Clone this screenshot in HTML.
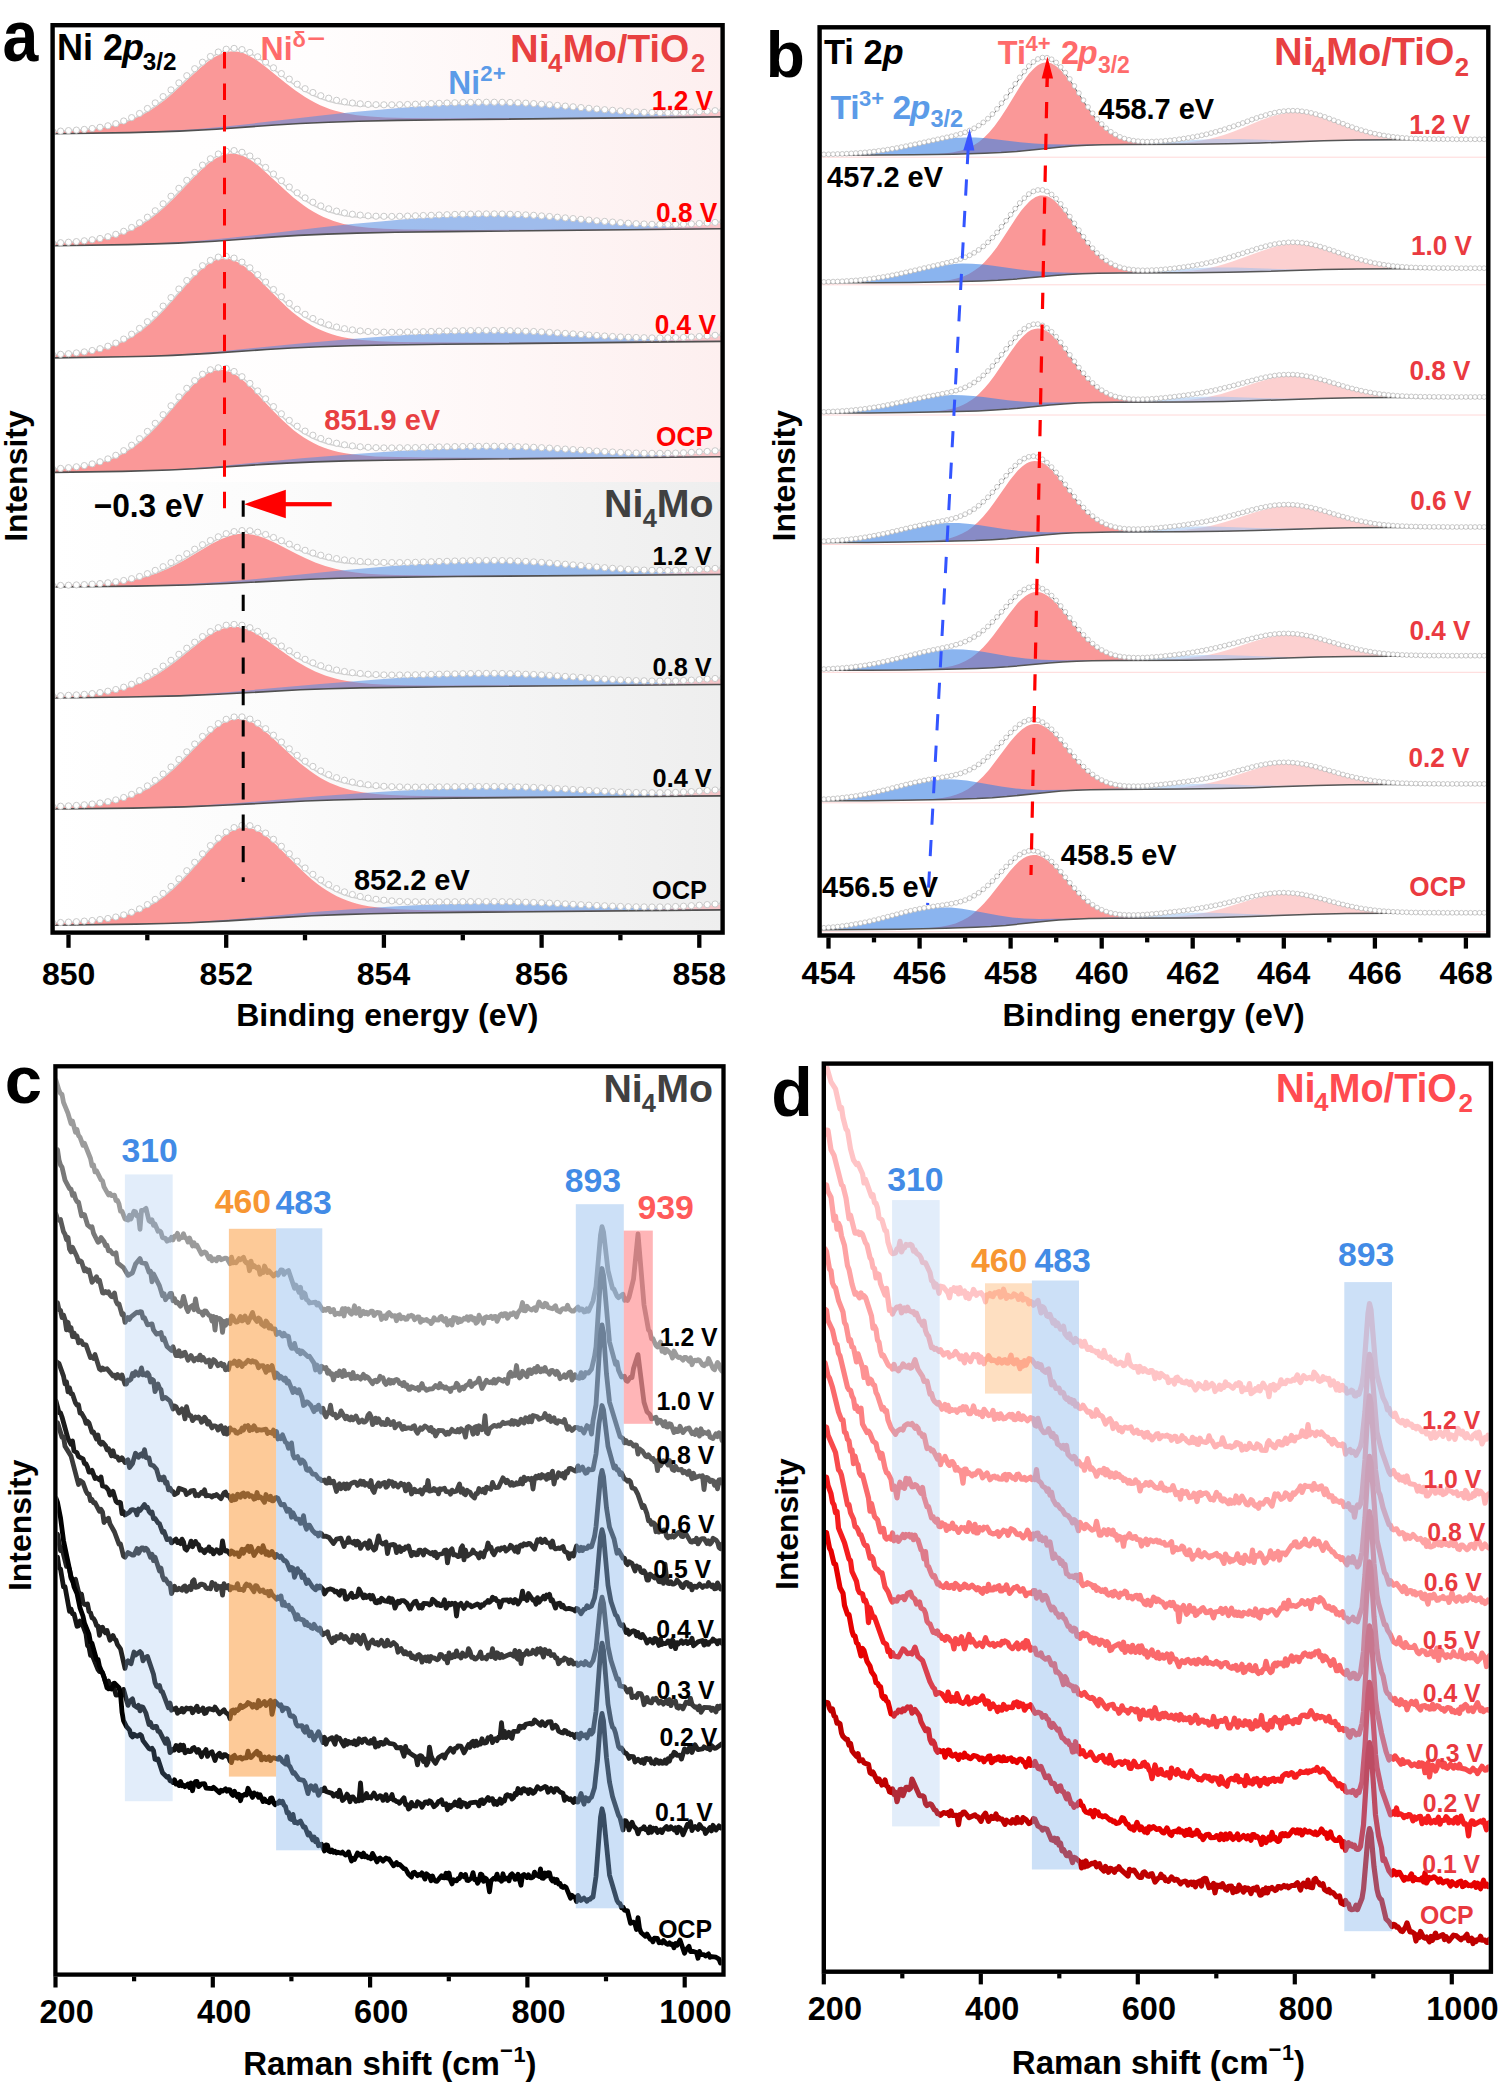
<!DOCTYPE html><html><head><meta charset="utf-8"><style>html,body{margin:0;padding:0;background:#fff}svg{display:block}</style></head><body>
<svg width="1500" height="2088" viewBox="0 0 1500 2088" font-family='"Liberation Sans", sans-serif' font-weight="bold">
<rect width="1500" height="2088" fill="#fff"/>
<defs>
<linearGradient id="gpink" x1="0" x2="1" y1="0" y2="0"><stop offset="0" stop-color="#ffffff"/><stop offset="0.4" stop-color="#fffdfd"/><stop offset="1" stop-color="#fdefef"/></linearGradient>
<linearGradient id="ggray" x1="0" x2="1" y1="0" y2="0"><stop offset="0" stop-color="#ffffff"/><stop offset="0.35" stop-color="#fbfbfb"/><stop offset="1" stop-color="#eeeeee"/></linearGradient>
<clipPath id="clipa"><rect x="54.8" y="27" width="666" height="903.4"/></clipPath>
<marker id="ma" markerUnits="userSpaceOnUse" markerWidth="8" markerHeight="8" refX="4" refY="4" overflow="visible"><circle cx="4" cy="4" r="3.1" fill="#fff" stroke="#c6c6c6" stroke-width="0.95"/></marker>
<marker id="mb" markerUnits="userSpaceOnUse" markerWidth="8" markerHeight="8" refX="4" refY="4" overflow="visible"><circle cx="4" cy="4" r="2.4" fill="#fff" stroke="#bdbdbd" stroke-width="0.8"/></marker>
</defs>
<g clip-path="url(#clipa)">
<rect x="54" y="26" width="668" height="456" fill="url(#gpink)"/>
<rect x="54" y="482" width="668" height="450" fill="url(#ggray)"/>
<path d="M54 131.4l15.1-0.7 13.4-0.9 11.7-1.2 10-1.5 8.4-1.6 8.4-2.2 8.3-2.8 6.7-2.7 6.7-3.3 6.7-3.8 6.7-4.4 6.7-4.9 5-4 6.7-5.8 25.2-23.2 6.7-5.6 5-3.7 3.3-2.1 3.4-1.8 5-2.2 5-1.3 5-0.4 5.1 0.5 5 1.3 5 2.1 6.7 3.8 5 3.4 5 3.8 20.1 16.4 10.1 7.7 10 6.8 5.1 3 5 2.7 5 2.4 5 2.1 5 1.9 5.1 1.6 10 2.4 11.7 2 13.4 1.4 15.1 0.8 20.1 0.5 30.1 0.3 108.8-0.3 177.5-1.3 0 0.3-272.9 2.8-51.9 0.7-38.5 0.8-30.1 1-28.5 1.3-25.1 1.5-58.6 4.2-36.8 1.9-23.5 0.8-26.8 0.7-75.3 1.1z" fill="#fa9898"/>
<path d="M54 133.7l46.9-0.8 36.8-0.9 30.1-1.2 26.8-1.6 20.1-1.6 20.1-2 88.7-10.3 30.2-3.2 28.4-2.7 25.2-2.2 23.4-1.7 21.8-1.1 21.7-0.8 26.8-0.3 13.4 0.2 13.4 0.6 25.1 1.7 62 5.4 31.8 2.4 35.1 1.6 40.2 0.9 0 0.8-272.9 2.8-51.9 0.7-38.5 0.8-30.1 1-28.5 1.3-25.1 1.5-58.6 4.2-36.8 1.9-23.5 0.8-26.8 0.7-75.3 1.1z" fill="rgb(80,140,228)" fill-opacity="0.55"/>
<path d="M54 133.7l75.3-1.1 26.8-0.7 23.5-0.8 36.8-1.9 58.6-4.2 21.8-1.3 25.1-1.3 28.4-1 58.6-1.1 182.5-2.1 48.6-1.1 20.1-0.8 18.4-1.1 18.4-1.5 25.1-2.4 0 5.6-272.9 2.8-51.9 0.7-38.5 0.8-30.1 1-28.5 1.3-25.1 1.5-58.6 4.2-36.8 1.9-23.5 0.8-26.8 0.7-75.3 1.1z" fill="rgb(250,170,175)" fill-opacity="0.6"/>
<path d="M54 131.4l15.1-0.8 13.4-1 10-1 10.1-1.4 10-2 8.4-2.2 8.3-2.8 6.7-2.8 6.7-3.3 6.7-3.9 6.7-4.5 6.7-5 5-4.1 6.7-5.9 26.8-25.1 5.1-4.3 5-3.8 3.3-2.2 3.4-1.9 5-2.3 5-1.5 5-0.6 5.1 0.3 5 1.2 5 1.9 6.7 3.5 5 3.1 5 3.6 20.1 15.4 8.4 6 10.1 6.4 8.3 4.4 8.4 3.6 8.4 2.8 8.3 2 10.1 1.6 6.7 0.7 6.7 0.4 8.3 0.2 8.4-0.1 15.1-0.4 41.8-2 21.8-0.8 23.4-0.5 20.1-0.1 18.4 0.5 20.1 1.2 20.1 1.6 55.3 4.9 16.7 1.2 16.8 0.8 18.4 0.3 16.7-0.2 18.4-0.8 21.8-1.6" fill="none" stroke="#d4d4d4" stroke-width="1.5"/>
<path d="M54 133.7l75.3-1.1 26.8-0.7 23.5-0.8 36.8-1.9 58.6-4.2 25.1-1.5 28.5-1.3 30.1-1 38.5-0.8 51.9-0.7 272.9-2.8" fill="none" stroke="#505050" stroke-width="1.6"/>
<path d="M52.7 131.4l7.9-0.3 7.9-0.5 7.9-0.5 7.9-0.7 7.9-0.9 7.8-1.2 7.9-1.5 7.9-2.1 7.9-2.7 7.9-3.4 7.9-4.1 7.9-5 7.8-5.6 7.9-6.3 7.9-6.7 7.9-7 7.9-7.2 7.9-7 7.8-6.5 7.9-5.7 7.9-4.5 7.9-2.8 7.9-0.8 7.9 1.2 7.9 2.9 7.8 4.3 7.9 5.3 7.9 5.7 7.9 5.8 7.9 5.5 7.9 5.1 7.9 4.5 7.8 3.8 7.9 3.2 7.9 2.5 7.9 2.1 7.9 1.5 7.9 1.2 7.8 0.8 7.9 0.6 7.9 0.3 7.9 0.1 7.9 0 7.9-0.1 7.9-0.2 7.8-0.3 7.9-0.3 7.9-0.3 7.9-0.3 7.9-0.3 7.9-0.2 7.9-0.2 7.8-0.2 7.9-0.1 7.9-0.1 7.9 0 7.9 0.1 7.9 0.2 7.8 0.3 7.9 0.3 7.9 0.5 7.9 0.6 7.9 0.6 7.9 0.6 7.9 0.7 7.8 0.7 7.9 0.8 7.9 0.7 7.9 0.7 7.9 0.7 7.9 0.6 7.9 0.6 7.8 0.6 7.9 0.4 7.9 0.4 7.9 0.2 7.9 0.2 7.9 0 7.8-0.1 7.9-0.2 7.9-0.3 7.9-0.4 7.9-0.5 7.9-0.5 7.9-0.6" fill="none" stroke="none" marker-start="url(#ma)" marker-mid="url(#ma)" marker-end="url(#ma)"/>
<path d="M54 243.1l15.1-0.8 13.4-1.1 10-1.1 10.1-1.6 10-2.2 8.4-2.5 8.3-3.2 6.7-3.2 6.7-3.7 6.7-4.4 6.7-5 6.7-5.7 5-4.6 6.7-6.5 18.5-19.2 6.7-6.8 5-4.7 5-4.2 3.3-2.4 3.4-2.1 5-2.5 5-1.6 5.1-0.5 5 0.4 5 1.4 5 2.3 3.4 2 3.3 2.2 5.1 3.8 5 4.3 21.7 20.2 8.4 7.3 10.1 7.8 5 3.5 5 3.1 5 2.7 5 2.5 5.1 2.1 5 1.9 10 2.9 5.1 1.1 6.7 1.2 13.3 1.6 15.1 1 20.1 0.7 30.1 0.3 46.9 0.1 62-0.2 179.1-1.4 0 0.4-274.6 2.9-51.9 0.7-38.5 0.8-30.1 1-28.5 1.3-23.4 1.5-60.3 4.3-36.8 1.9-23.4 0.8-26.8 0.7-73.7 1.1z" fill="#fa9898"/>
<path d="M54 245.7l46.9-0.8 36.8-0.9 30.1-1.3 26.8-1.6 18.4-1.5 20.1-2 88.8-10.3 30.1-3.2 28.5-2.7 26.8-2.3 23.4-1.7 21.8-1.2 21.7-0.8 26.8-0.3 13.4 0.3 13.4 0.5 25.1 1.7 62 5.5 31.8 2.3 35.1 1.6 40.2 0.9 0 0.8-274.6 2.9-51.9 0.7-38.5 0.8-30.1 1-28.5 1.3-23.4 1.5-60.3 4.3-36.8 1.9-23.4 0.8-26.8 0.7-73.7 1.1z" fill="rgb(80,140,228)" fill-opacity="0.55"/>
<path d="M54 245.7l75.3-1.1 26.8-0.7 23.5-0.9 36.8-1.9 56.9-4.1 21.8-1.4 25.1-1.3 28.5-1 30.1-0.7 40.2-0.6 180.8-2.1 41.8-1 20.1-0.9 18.4-1.1 18.5-1.5 23.4-2.3 0 5.6-274.6 2.9-51.9 0.7-38.5 0.8-30.1 1-28.5 1.3-23.4 1.5-60.3 4.3-36.8 1.9-23.4 0.8-26.8 0.7-73.7 1.1z" fill="rgb(250,170,175)" fill-opacity="0.6"/>
<path d="M54 243l15.1-0.8 13.4-1.1 10-1.2 10.1-1.6 10-2.3 8.4-2.5 8.3-3.3 6.7-3.2 6.7-3.8 6.7-4.4 6.7-5.1 6.7-5.7 5-4.7 6.7-6.7 25.2-26.4 5-4.8 5-4.3 3.3-2.6 3.4-2.2 5-2.6 5-1.7 5.1-0.7 5 0.2 5 1.2 5 2.1 3.4 1.8 3.3 2.2 5.1 3.6 5 4 20.1 17.6 8.3 7 10.1 7.4 8.4 5.2 8.3 4.2 5 2.1 5.1 1.8 8.3 2.3 10.1 1.9 6.7 0.8 8.4 0.6 8.3 0.2 8.4 0 15.1-0.5 41.8-1.9 21.8-0.7 23.4-0.5 20.1 0.1 18.4 0.5 18.4 1.1 20.1 1.6 55.3 4.9 16.7 1.2 16.8 0.8 18.4 0.4 16.7-0.3 18.4-0.8 21.8-1.5" fill="none" stroke="#d4d4d4" stroke-width="1.5"/>
<path d="M54 245.7l73.7-1.1 26.8-0.7 23.4-0.8 36.8-1.9 60.3-4.3 23.4-1.5 28.5-1.3 30.1-1 38.5-0.8 51.9-0.7 274.6-2.9" fill="none" stroke="#505050" stroke-width="1.6"/>
<path d="M52.7 243.1l7.9-0.4 7.9-0.5 7.9-0.6 7.9-0.8 7.9-1 7.8-1.3 7.9-1.8 7.9-2.4 7.9-3 7.9-3.8 7.9-4.7 7.9-5.6 7.8-6.4 7.9-7 7.9-7.6 7.9-7.9 7.9-8 7.9-7.9 7.8-7.3 7.9-6.3 7.9-4.8 7.9-2.8 7.9-0.6 7.9 1.7 7.9 3.7 7.8 5.2 7.9 6.2 7.9 6.6 7.9 6.6 7.9 6.4 7.9 5.8 7.9 5.1 7.8 4.3 7.9 3.7 7.9 2.9 7.9 2.3 7.9 1.8 7.9 1.3 7.8 0.9 7.9 0.7 7.9 0.4 7.9 0.1 7.9 0.1 7.9-0.1 7.9-0.2 7.8-0.3 7.9-0.3 7.9-0.2 7.9-0.3 7.9-0.3 7.9-0.3 7.9-0.2 7.8-0.1 7.9-0.2 7.9 0 7.9 0 7.9 0.1 7.9 0.2 7.8 0.3 7.9 0.4 7.9 0.4 7.9 0.6 7.9 0.6 7.9 0.7 7.9 0.7 7.8 0.7 7.9 0.7 7.9 0.7 7.9 0.8 7.9 0.6 7.9 0.7 7.9 0.6 7.8 0.5 7.9 0.5 7.9 0.3 7.9 0.3 7.9 0.1 7.9 0.1 7.8-0.1 7.9-0.2 7.9-0.3 7.9-0.4 7.9-0.5 7.9-0.6 7.9-0.6" fill="none" stroke="none" marker-start="url(#ma)" marker-mid="url(#ma)" marker-end="url(#ma)"/>
<path d="M54 354.8l13.4-0.9 11.7-1.2 10.1-1.3 10-2 8.4-2.2 6.7-2.2 8.3-3.5 6.7-3.4 6.7-4.1 6.7-4.7 6.7-5.5 6.7-6.1 5-5 6.7-7.1 23.5-26.3 6.7-6.8 5-4.5 3.4-2.6 3.3-2.2 5-2.6 5-1.6 3.4-0.4 1.7-0.1 5 0.6 5 1.6 5 2.6 3.4 2.2 3.3 2.5 5.1 4.2 5 4.7 20.1 20.4 10 9.6 5 4.5 5.1 4.1 5 3.7 5 3.4 5 3 5 2.7 5.1 2.3 5 2 5 1.7 5 1.5 5.1 1.2 6.7 1.3 13.4 1.8 16.7 1.2 20.1 0.6 30.1 0.4 46.9 0.2 61.9-0.2 184.2-1.3 0 0.4-279.6 2.9-53.6 0.7-38.5 0.7-30.1 1-28.5 1.3-25.1 1.5-56.9 3.9-36.8 2-23.5 0.8-25.1 0.6-70.3 1.1z" fill="#fa9898"/>
<path d="M54 357.9l43.5-0.7 33.5-0.8 28.5-1 25.1-1.3 18.4-1.3 18.4-1.5 83.7-8.4 58.6-5 30.2-2.1 26.7-1.7 25.2-1.2 23.4-0.8 30.1-0.4 26.8 0.5 26.8 1.3 62 3.9 31.8 1.7 35.1 1.1 40.2 0.6 0 0.6-279.6 2.9-53.6 0.7-38.5 0.7-30.1 1-28.5 1.3-25.1 1.5-56.9 3.9-36.8 2-23.5 0.8-25.1 0.6-70.3 1.1z" fill="rgb(80,140,228)" fill-opacity="0.55"/>
<path d="M54 357.9l70.3-1.1 25.1-0.6 23.5-0.8 36.8-2 56.9-3.9 21.8-1.4 25.1-1.2 28.5-0.9 58.6-1.2 189.1-2.1 28.5-0.5 21.8-0.6 20.1-0.8 18.4-1.1 18.4-1.5 25.1-2.4 0 5.6-279.6 2.9-53.6 0.7-38.5 0.7-30.1 1-28.5 1.3-25.1 1.5-56.9 3.9-36.8 2-23.5 0.8-25.1 0.6-70.3 1.1z" fill="rgb(250,170,175)" fill-opacity="0.6"/>
<path d="M54 354.7l13.4-0.9 11.7-1.1 10.1-1.5 10-1.9 8.4-2.2 6.7-2.3 8.3-3.5 6.7-3.5 6.7-4.1 6.7-4.8 6.7-5.5 6.7-6.2 5-5 6.7-7.2 23.5-26.5 6.7-6.9 5-4.6 3.4-2.7 3.3-2.3 5-2.7 5-1.7 3.4-0.5 1.7-0.1 5 0.5 5 1.5 5 2.4 3.4 2.1 3.3 2.4 5.1 4.1 5 4.5 20.1 19.7 10 9.2 5 4.2 5.1 3.9 8.3 5.6 8.4 4.7 5 2.3 5 1.9 5.1 1.7 5 1.3 10 2 6.7 0.8 8.4 0.7 8.4 0.3 10 0.1 16.8-0.2 68.6-2 26.8-0.2 20.1 0.2 16.7 0.5 18.4 0.9 73.7 4.7 16.7 0.7 16.8 0.4 16.7-0.1 16.8-0.5 16.7-1 20.1-1.5" fill="none" stroke="#d4d4d4" stroke-width="1.5"/>
<path d="M54 357.9l70.3-1.1 25.1-0.6 23.5-0.8 36.8-2 56.9-3.9 25.1-1.5 28.5-1.3 30.1-1 38.5-0.7 53.6-0.7 279.6-2.9" fill="none" stroke="#505050" stroke-width="1.6"/>
<path d="M52.7 354.8l7.9-0.5 7.9-0.6 7.9-0.8 7.9-1 7.9-1.4 7.8-1.8 7.9-2.5 7.9-3.1 7.9-4 7.9-4.9 7.9-5.8 7.9-6.7 7.8-7.5 7.9-8.1 7.9-8.5 7.9-8.6 7.9-8.5 7.9-7.9 7.8-6.9 7.9-5.3 7.9-3.3 7.9-0.7 7.9 1.7 7.9 4 7.9 5.7 7.8 6.8 7.9 7.4 7.9 7.5 7.9 7.2 7.9 6.6 7.9 5.9 7.9 5.1 7.8 4.2 7.9 3.5 7.9 2.8 7.9 2.2 7.9 1.7 7.9 1.2 7.8 1 7.9 0.6 7.9 0.4 7.9 0.2 7.9 0.1 7.9 0 7.9-0.2 7.8-0.1 7.9-0.2 7.9-0.2 7.9-0.3 7.9-0.2 7.9-0.1 7.9-0.2 7.8-0.1 7.9-0.1 7.9 0 7.9 0 7.9 0 7.9 0.2 7.8 0.2 7.9 0.3 7.9 0.3 7.9 0.4 7.9 0.5 7.9 0.5 7.9 0.5 7.8 0.5 7.9 0.6 7.9 0.5 7.9 0.5 7.9 0.5 7.9 0.5 7.9 0.4 7.8 0.3 7.9 0.3 7.9 0.2 7.9 0.2 7.9 0 7.9-0.1 7.8-0.2 7.9-0.2 7.9-0.4 7.9-0.5 7.9-0.5 7.9-0.7 7.9-0.6" fill="none" stroke="none" marker-start="url(#ma)" marker-mid="url(#ma)" marker-end="url(#ma)"/>
<path d="M54 468.9l13.4-1 10-1.1 10.1-1.5 8.4-1.8 8.3-2.3 6.7-2.3 8.4-3.7 6.7-3.6 6.7-4.3 5-3.7 6.7-5.5 6.7-6.2 5-5.1 6.7-7.3 25.1-29.1 5.1-5.2 5-4.8 3.3-2.8 3.4-2.4 5-2.9 5-1.8 3.4-0.6 1.6-0.1 1.7 0 3.4 0.4 5 1.5 5 2.5 3.4 2.2 3.3 2.5 5 4.3 5.1 4.8 21.7 23 10.1 10 5 4.6 5 4.3 5 3.8 5.1 3.5 5 3.1 5 2.8 5 2.3 5 2.1 5.1 1.7 5 1.5 5 1.3 6.7 1.3 6.7 1 6.7 0.8 16.7 1.3 21.8 0.7 30.1 0.4 48.6 0.2 61.9-0.1 184.2-1.2 0 0.4-282.9 2.7-53.6 0.7-38.5 0.7-31.8 1-28.5 1.2-23.4 1.3-58.6 3.9-35.2 1.7-46.9 1.4-68.6 1z" fill="#fa9898"/>
<path d="M54 472.4l41.9-0.7 33.4-0.7 28.5-1 25.1-1.3 35.2-2.5 83.7-7.9 60.3-4.8 31.8-2.2 26.7-1.5 25.2-1.2 23.4-0.7 30.1-0.4 26.8 0.5 26.8 1.2 62 3.8 31.8 1.6 35.1 1.1 40.2 0.5 0 0.6-282.9 2.7-53.6 0.7-38.5 0.7-31.8 1-28.5 1.2-23.4 1.3-58.6 3.9-35.2 1.7-46.9 1.4-68.6 1z" fill="rgb(80,140,228)" fill-opacity="0.55"/>
<path d="M54 472.4l68.6-1 46.9-1.4 36.9-1.8 55.2-3.7 23.4-1.3 25.2-1.2 28.4-0.9 72-1.2 185.8-2 43.6-0.9 20.1-0.8 18.4-1.1 18.4-1.5 25.1-2.4 0 5.6-282.9 2.7-53.6 0.7-38.5 0.7-31.8 1-28.5 1.2-23.4 1.3-58.6 3.9-35.2 1.7-46.9 1.4-68.6 1z" fill="rgb(250,170,175)" fill-opacity="0.6"/>
<path d="M54 468.9l13.4-1 10-1.2 10.1-1.5 8.4-1.8 8.3-2.3 6.7-2.4 8.4-3.7 6.7-3.6 6.7-4.3 5-3.7 6.7-5.6 6.7-6.3 5-5.1 6.7-7.4 25.1-29.3 5.1-5.4 5-4.8 3.3-2.9 3.4-2.4 5-3 5-1.9 3.4-0.7 1.6-0.2 1.7 0 3.4 0.3 5 1.4 5 2.4 3.4 2.1 3.3 2.4 5 4.2 5.1 4.7 21.7 22.3 10.1 9.6 5 4.4 5 4 8.4 5.9 8.4 4.8 5 2.3 5 2.1 5 1.7 5 1.4 10.1 2 6.7 0.9 8.4 0.7 10 0.5 10 0.1 18.5-0.3 68.6-1.8 26.8-0.3 20.1 0.2 16.7 0.5 18.4 0.9 73.7 4.5 16.7 0.7 16.8 0.3 16.7 0 16.8-0.6 16.7-0.9 20.1-1.6" fill="none" stroke="#d4d4d4" stroke-width="1.5"/>
<path d="M54 472.4l68.6-1 46.9-1.4 35.2-1.7 58.6-3.9 23.4-1.3 28.5-1.2 31.8-1 38.5-0.7 53.6-0.7 282.9-2.7" fill="none" stroke="#505050" stroke-width="1.6"/>
<path d="M52.7 469l7.9-0.6 7.9-0.7 7.9-0.9 7.9-1.2 7.9-1.7 7.8-2.1 7.9-2.9 7.9-3.6 7.9-4.6 7.9-5.5 7.9-6.5 7.9-7.3 7.8-8.1 7.9-8.6 7.9-8.9 7.9-8.9 7.9-8.6 7.9-7.7 7.8-6.4 7.9-4.4 7.9-2 7.9 0.6 7.9 3.1 7.9 5.2 7.9 6.7 7.8 7.5 7.9 7.9 7.9 7.8 7.9 7.2 7.9 6.6 7.9 5.8 7.9 4.9 7.8 4.1 7.9 3.3 7.9 2.7 7.9 2 7.9 1.6 7.9 1.1 7.8 0.9 7.9 0.5 7.9 0.4 7.9 0.2 7.9 0 7.9-0.1 7.9-0.1 7.8-0.1 7.9-0.2 7.9-0.3 7.9-0.2 7.9-0.1 7.9-0.2 7.9-0.1 7.8-0.2 7.9 0 7.9-0.1 7.9 0 7.9 0.1 7.9 0.1 7.8 0.3 7.9 0.2 7.9 0.4 7.9 0.4 7.9 0.4 7.9 0.5 7.9 0.5 7.8 0.5 7.9 0.5 7.9 0.5 7.9 0.5 7.9 0.5 7.9 0.4 7.9 0.4 7.8 0.4 7.9 0.2 7.9 0.2 7.9 0.1 7.9 0 7.9 0 7.8-0.2 7.9-0.3 7.9-0.4 7.9-0.5 7.9-0.5 7.9-0.6 7.9-0.7" fill="none" stroke="none" marker-start="url(#ma)" marker-mid="url(#ma)" marker-end="url(#ma)"/>
<path d="M54 585.7l31.8-1.1 13.4-0.7 10-0.8 10.1-1.1 8.4-1.2 8.3-1.6 8.4-2.1 8.4-2.5 6.7-2.5 6.7-2.8 6.7-3.1 11.7-6.3 26.8-15.9 5-2.6 5-2.4 6.7-2.6 5-1.5 5.1-0.9 5-0.3 5 0.3 5 0.7 5.1 1.3 6.6 2.3 10.1 4.5 21.8 11.2 8.3 4 10.1 4.4 10 3.5 10.1 2.9 10 2.2 10.1 1.5 11.7 1.3 13.4 0.8 15 0.5 46.9 0.4 107.2-0.2 172.4-1 0 0.2-264.5 2-88.8 1.1-30.1 0.7-28.4 1-83.8 4.2-38.5 1.5-51.9 1.1-82 0.9z" fill="#fa9898"/>
<path d="M54 586.9l51.9-0.6 38.5-0.8 31.8-1 28.5-1.4 21.7-1.5 21.8-1.8 92.1-9.3 51.9-4.6 23.4-1.7 21.8-1.3 20.1-0.9 20.1-0.6 25.1-0.1 25.1 0.8 25.1 1.6 62 5.3 31.8 2.2 35.1 1.6 40.2 0.9 0 0.8-264.5 2-88.8 1.1-30.1 0.7-28.4 1-83.8 4.2-38.5 1.5-51.9 1.1-82 0.9z" fill="rgb(80,140,228)" fill-opacity="0.55"/>
<path d="M54 587l82-0.9 51.9-1.1 38.5-1.5 80.4-4.1 25.1-0.9 26.8-0.7 68.6-1 167.5-1.4 40.1-0.7 21.8-0.8 20.1-1.1 20.1-1.6 25.1-2.3 0 5.6-264.5 2-88.8 1.1-30.1 0.7-28.4 1-83.8 4.2-38.5 1.5-51.9 1.1-82 0.9z" fill="rgb(250,170,175)" fill-opacity="0.6"/>
<path d="M54 585.6l31.8-1.1 13.4-0.8 10-0.8 10.1-1.2 8.4-1.2 8.3-1.7 8.4-2.1 8.4-2.7 6.7-2.5 6.7-2.9 6.7-3.2 6.7-3.6 6.7-3.9 25.1-15.4 6.7-3.7 5-2.4 6.7-2.6 5-1.4 5-0.9 5.1-0.3 5 0.2 5 0.8 5 1.2 5 1.6 10.1 4 26.8 12.2 8.4 3.3 8.3 2.8 8.4 2.3 8.4 1.8 8.3 1.3 8.4 0.8 13.4 0.6 15.1 0 75.3-3 23.4-0.5 20.1 0 18.4 0.4 20.1 1.1 20.1 1.5 55.3 4.7 16.7 1.1 16.8 0.8 18.4 0.3 16.7-0.3 18.4-0.8 21.8-1.5" fill="none" stroke="#d4d4d4" stroke-width="1.5"/>
<path d="M54 587l82-0.9 51.9-1.1 38.5-1.5 83.8-4.2 28.4-1 30.1-0.7 88.8-1.1 264.5-2" fill="none" stroke="#505050" stroke-width="1.6"/>
<path d="M52.7 585.6l7.9-0.2 7.9-0.2 7.9-0.3 7.9-0.3 7.9-0.5 7.8-0.5 7.9-0.8 7.9-1 7.9-1.3 7.9-1.8 7.9-2.2 7.9-2.8 7.8-3.3 7.9-3.7 7.9-4.1 7.9-4.4 7.9-4.5 7.9-4.5 7.8-4.5 7.9-4.2 7.9-3.7 7.9-3.1 7.9-2.1 7.9-1 7.9 0.2 7.8 1.4 7.9 2.3 7.9 3 7.9 3.2 7.9 3.4 7.9 3.2 7.9 3 7.8 2.7 7.9 2.2 7.9 1.9 7.9 1.5 7.9 1.3 7.9 0.9 7.8 0.7 7.9 0.5 7.9 0.3 7.9 0.2 7.9 0.1 7.9 0 7.9-0.1 7.8-0.2 7.9-0.3 7.9-0.2 7.9-0.3 7.9-0.2 7.9-0.3 7.9-0.1 7.8-0.2 7.9-0.1 7.9-0.1 7.9 0 7.9 0.1 7.9 0.2 7.8 0.3 7.9 0.3 7.9 0.5 7.9 0.5 7.9 0.6 7.9 0.6 7.9 0.6 7.8 0.7 7.9 0.7 7.9 0.7 7.9 0.7 7.9 0.7 7.9 0.6 7.9 0.5 7.8 0.5 7.9 0.4 7.9 0.4 7.9 0.2 7.9 0.1 7.9 0.1 7.8-0.1 7.9-0.2 7.9-0.3 7.9-0.4 7.9-0.5 7.9-0.6 7.9-0.6" fill="none" stroke="none" marker-start="url(#ma)" marker-mid="url(#ma)" marker-end="url(#ma)"/>
<path d="M54 696l15.1-0.6 13.4-0.8 11.7-1 10-1.2 10.1-1.7 8.3-1.9 8.4-2.5 6.7-2.4 6.7-2.8 6.7-3.4 6.7-3.8 6.7-4.4 11.7-8.5 25.1-20.1 5.1-3.6 5-3.3 6.7-3.5 5-2 5-1.2 5-0.5 5.1 0.2 5 1.1 5 1.7 6.7 3.2 5 2.9 5 3.2 21.8 15.5 10.1 6.8 10 5.8 8.4 4.2 10 4.1 10.1 3 5 1.3 6.7 1.3 11.7 1.7 13.4 1.2 15.1 0.7 20.1 0.5 30.1 0.2 107.1-0.1 177.5-1.1 0 0.3-271.2 2.3-90.4 1.1-31.8 0.8-28.5 1.1-82 4.5-38.5 1.6-50.3 1.1-75.3 1z" fill="#fa9898"/>
<path d="M54 697.9l48.6-0.6 35.1-0.7 30.1-1 26.8-1.2 18.4-1.1 20.1-1.6 87.1-7.8 56.9-4.5 26.8-1.8 25.1-1.4 21.8-0.9 21.7-0.6 28.5-0.3 25.1 0.5 26.8 1.3 62 4.1 31.8 1.7 35.1 1.3 40.2 0.6 0 0.6-271.2 2.3-90.4 1.1-31.8 0.8-28.5 1.1-82 4.5-38.5 1.6-50.3 1.1-75.3 1z" fill="rgb(80,140,228)" fill-opacity="0.55"/>
<path d="M54 698l77-1 50.2-1.2 36.9-1.5 80.3-4.4 25.1-1 26.8-0.8 70.3-1 174.2-1.6 41.8-0.8 21.8-0.8 20.1-1.2 18.4-1.4 25.1-2.4 0 5.6-271.2 2.3-90.4 1.1-31.8 0.8-28.5 1.1-82 4.5-38.5 1.6-50.3 1.1-75.3 1z" fill="rgb(250,170,175)" fill-opacity="0.6"/>
<path d="M54 695.9l15.1-0.6 13.4-0.8 11.7-1 10-1.3 10.1-1.7 8.3-1.9 8.4-2.5 6.7-2.5 6.7-2.9 6.7-3.4 6.7-3.9 6.7-4.4 11.7-8.7 25.1-20.4 5.1-3.7 5-3.4 6.7-3.7 5-2 5-1.4 5-0.6 5.1 0.1 5 0.9 5 1.6 6.7 2.9 5 2.8 5 3.1 21.8 14.6 8.4 5.3 8.4 4.7 8.3 4 8.4 3.3 10 3.1 8.4 1.8 10.1 1.4 13.4 1.1 16.7 0.2 16.7-0.3 43.6-1.4 23.4-0.6 26.8-0.3 18.4 0.2 16.7 0.5 18.5 0.9 77 4.9 16.7 0.7 16.8 0.4 16.7-0.1 15.1-0.5 16.7-0.9 20.1-1.5" fill="none" stroke="#d4d4d4" stroke-width="1.5"/>
<path d="M54 698l75.3-1 50.3-1.1 38.5-1.6 82-4.5 28.5-1.1 31.8-0.8 90.4-1.1 271.2-2.3" fill="none" stroke="#505050" stroke-width="1.6"/>
<path d="M52.7 696l7.9-0.3 7.9-0.4 7.9-0.4 7.9-0.6 7.9-0.7 7.8-1 7.9-1.4 7.9-1.7 7.9-2.3 7.9-2.9 7.9-3.6 7.9-4.3 7.8-4.9 7.9-5.4 7.9-5.8 7.9-6 7.9-6.1 7.9-6 7.8-5.6 7.9-5 7.9-3.9 7.9-2.5 7.9-0.8 7.9 0.8 7.9 2.5 7.8 3.7 7.9 4.5 7.9 5 7.9 5.1 7.9 4.8 7.9 4.5 7.9 4 7.8 3.5 7.9 2.9 7.9 2.4 7.9 1.9 7.9 1.5 7.9 1.2 7.8 0.8 7.9 0.7 7.9 0.4 7.9 0.3 7.9 0.1 7.9 0 7.9-0.1 7.8-0.1 7.9-0.2 7.9-0.2 7.9-0.2 7.9-0.2 7.9-0.1 7.9-0.2 7.8-0.1 7.9-0.1 7.9-0.1 7.9 0 7.9 0.1 7.9 0.2 7.8 0.2 7.9 0.3 7.9 0.3 7.9 0.4 7.9 0.5 7.9 0.5 7.9 0.5 7.8 0.5 7.9 0.6 7.9 0.5 7.9 0.6 7.9 0.5 7.9 0.4 7.9 0.4 7.8 0.4 7.9 0.3 7.9 0.2 7.9 0.2 7.9 0 7.9-0.1 7.8-0.1 7.9-0.3 7.9-0.4 7.9-0.4 7.9-0.6 7.9-0.6 7.9-0.6" fill="none" stroke="none" marker-start="url(#ma)" marker-mid="url(#ma)" marker-end="url(#ma)"/>
<path d="M54 806.5l18.4-0.8 13.4-0.9 11.7-1.2 10.1-1.4 10-2.1 8.4-2.3 8.4-2.9 6.7-3 6.7-3.5 6.7-4.1 6.6-4.8 6.7-5.3 6.7-6 6.7-6.4 18.5-18.8 6.7-6.6 5-4.6 5-4.1 3.3-2.4 3.4-2 5-2.4 5-1.5 5.1-0.5 5 0.5 5 1.4 5 2.3 3.4 2 3.3 2.3 5 3.9 5.1 4.2 21.7 20.3 8.4 7.4 10.1 7.9 5 3.5 5 3.1 5 2.8 5 2.5 5.1 2.1 5 1.9 10 3 5.1 1.1 6.7 1.2 13.3 1.7 15.1 1.1 20.1 0.7 28.5 0.4 45.2 0.3 60.2-0.1 177.5-0.9 0 0.4-267.9 2.2-90.4 1.1-30.1 0.8-28.5 1-82 4.3-38.5 1.6-51.9 1.2-78.7 0.9z" fill="#fa9898"/>
<path d="M54 808.9l48.6-0.6 36.8-0.6 30.1-0.9 26.8-1.1 18.4-1.1 20.1-1.3 83.7-7 51.9-3.8 28.5-1.7 25.1-1.2 23.4-1 23.5-0.6 28.4-0.3 26.8 0.4 26.8 1.1 62 3.3 31.8 1.4 35.1 1 40.2 0.5 0 0.5-267.9 2.2-90.4 1.1-30.1 0.8-28.5 1-82 4.3-38.5 1.6-51.9 1.2-78.7 0.9z" fill="rgb(80,140,228)" fill-opacity="0.55"/>
<path d="M54 809l78.7-0.9 51.9-1.2 38.5-1.6 80.4-4.2 25.1-1 26.8-0.7 68.6-1 170.8-1.6 41.8-0.7 21.8-0.9 20.1-1.1 18.4-1.5 25.1-2.3 0 5.6-267.9 2.2-90.4 1.1-30.1 0.8-28.5 1-82 4.3-38.5 1.6-51.9 1.2-78.7 0.9z" fill="rgb(250,170,175)" fill-opacity="0.6"/>
<path d="M54 806.5l18.4-0.8 13.4-1 11.7-1.2 10.1-1.5 10-2 8.4-2.4 8.4-3 6.7-2.9 6.7-3.6 6.7-4.2 6.6-4.8 6.7-5.4 6.7-6 6.7-6.5 25.2-25.8 5-4.6 5-4.2 3.3-2.4 3.4-2.2 5-2.5 5-1.6 5.1-0.6 5 0.4 5 1.3 5 2.2 3.4 1.9 3.3 2.2 5 3.7 5.1 4.2 20.1 18 10 8.6 5 3.9 5.1 3.5 8.3 5.3 8.4 4.3 5 2.2 5 1.8 5.1 1.6 5 1.2 10 1.9 6.7 0.9 8.4 0.7 8.4 0.4 10 0.1 16.8 0 65.2-1.1 23.5 0 18.4 0.3 31.8 1.2 68.7 3.7 16.7 0.7 15.1 0.3 18.4-0.1 16.7-0.5 18.4-1 21.8-1.7" fill="none" stroke="#d4d4d4" stroke-width="1.5"/>
<path d="M54 809l78.7-0.9 51.9-1.2 38.5-1.6 82-4.3 28.5-1 30.1-0.8 90.4-1.1 267.9-2.2" fill="none" stroke="#505050" stroke-width="1.6"/>
<path d="M52.7 806.6l7.9-0.4 7.9-0.3 7.9-0.5 7.9-0.6 7.9-0.8 7.8-1 7.9-1.3 7.9-1.8 7.9-2.4 7.9-3.1 7.9-3.8 7.9-4.7 7.8-5.6 7.9-6.3 7.9-7 7.9-7.5 7.9-7.7 7.9-7.8 7.8-7.6 7.9-6.9 7.9-5.9 7.9-4.3 7.9-2.3 7.9-0.1 7.9 2.2 7.8 4.1 7.9 5.5 7.9 6.5 7.9 6.8 7.9 6.8 7.9 6.5 7.9 5.9 7.8 5.2 7.9 4.5 7.9 3.7 7.9 3.1 7.9 2.5 7.9 1.9 7.8 1.5 7.9 1.2 7.9 0.9 7.9 0.6 7.9 0.4 7.9 0.2 7.9 0.2 7.8 0 7.9 0 7.9-0.1 7.9-0.1 7.9-0.1 7.9-0.1 7.9-0.1 7.8-0.1 7.9 0 7.9 0 7.9 0 7.9 0.1 7.9 0.1 7.8 0.2 7.9 0.2 7.9 0.3 7.9 0.4 7.9 0.4 7.9 0.4 7.9 0.4 7.8 0.5 7.9 0.4 7.9 0.5 7.9 0.4 7.9 0.4 7.9 0.4 7.9 0.4 7.8 0.3 7.9 0.2 7.9 0.1 7.9 0.1 7.9 0 7.9-0.1 7.8-0.2 7.9-0.4 7.9-0.4 7.9-0.4 7.9-0.6 7.9-0.6 7.9-0.7" fill="none" stroke="none" marker-start="url(#ma)" marker-mid="url(#ma)" marker-end="url(#ma)"/>
<path d="M54 922.7l18.4-0.8 15.1-0.9 13.4-1.3 10-1.4 10.1-2 8.3-2.2 8.4-2.9 8.4-3.7 8.4-4.7 6.6-4.4 6.7-5.2 6.7-5.8 6.7-6.4 6.7-7 18.5-20.4 6.6-7.1 5.1-5 5-4.4 3.3-2.6 3.4-2.2 5-2.7 5-1.6 5.1-0.5 5 0.5 5 1.5 5 2.5 3.4 2.1 3.3 2.4 5 4.2 5.1 4.6 21.7 21.8 8.4 7.9 5 4.4 5 4.1 5.1 3.7 5 3.4 5 3 5 2.7 5.1 2.3 5 2 5 1.7 5 1.5 5.1 1.2 6.6 1.3 13.4 1.8 15.1 1.1 20.1 0.8 28.5 0.4 45.2 0.2 58.6-0.1 172.4-1 0 0.4-262.8 2.5-51.9 0.6-36.9 0.7-30.1 0.9-28.5 1.2-23.4 1.3-60.3 3.8-38.5 1.8-25.1 0.8-28.5 0.6-82 1.1z" fill="#fa9898"/>
<path d="M54 925.1l50.2-0.6 36.9-0.7 30.1-0.9 26.8-1.2 18.4-1.1 20.1-1.5 80.3-7.3 45.3-3.4 26.7-1.7 26.8-1.4 25.1-1.1 25.1-0.7 31.9-0.5 28.4 0.3 26.8 0.9 62 2.9 31.8 1.2 35.1 0.8 40.2 0.3 0 0.5-262.8 2.5-51.9 0.6-36.9 0.7-30.1 0.9-28.5 1.2-23.4 1.3-60.3 3.8-38.5 1.8-25.1 0.8-28.5 0.6-82 1.1z" fill="rgb(80,140,228)" fill-opacity="0.55"/>
<path d="M54 925.2l82-1.1 28.5-0.6 25.1-0.8 38.5-1.8 82.1-5 25.1-1.1 26.8-0.9 68.6-1.2 167.4-1.8 40.2-0.8 20.1-0.8 20.1-1.2 18.4-1.4 25.1-2.4 0 5.6-262.8 2.5-51.9 0.6-36.9 0.7-30.1 0.9-28.5 1.2-23.4 1.3-60.3 3.8-38.5 1.8-25.1 0.8-28.5 0.6-82 1.1z" fill="rgb(250,170,175)" fill-opacity="0.6"/>
<path d="M54 922.7l18.4-0.8 15.1-1 13.4-1.3 10-1.4 10.1-2 8.3-2.3 8.4-2.9 8.4-3.8 8.4-4.7 6.6-4.5 6.7-5.2 6.7-5.9 6.7-6.5 6.7-7 18.5-20.6 6.6-7.2 5.1-5.1 5-4.5 3.3-2.7 3.4-2.3 5-2.7 5-1.7 5.1-0.7 5 0.4 5 1.5 5 2.3 3.4 2 3.3 2.4 5 4 5.1 4.5 21.7 21.1 8.4 7.6 5 4.2 5 3.9 8.4 5.7 8.4 4.7 5 2.3 5 2 5.1 1.7 5 1.4 10 2.1 6.7 1 8.4 0.8 8.4 0.5 10 0.3 18.4 0 65.3-0.7 18.4 0.1 18.4 0.3 28.5 1 65.3 3.1 31.8 0.8 18.4 0 18.4-0.6 18.5-1 23.4-1.9" fill="none" stroke="#d4d4d4" stroke-width="1.5"/>
<path d="M54 925.2l82-1.1 28.5-0.6 25.1-0.8 38.5-1.8 60.3-3.8 23.4-1.3 28.5-1.2 30.1-0.9 36.9-0.7 51.9-0.6 262.8-2.5" fill="none" stroke="#505050" stroke-width="1.6"/>
<path d="M52.7 922.8l7.9-0.3 7.9-0.4 7.9-0.4 7.9-0.6 7.9-0.6 7.8-0.9 7.9-1.1 7.9-1.5 7.9-2.1 7.9-2.6 7.9-3.4 7.9-4.3 7.8-5.2 7.9-6 7.9-7 7.9-7.6 7.9-8.1 7.9-8.4 7.8-8.5 7.9-8.2 7.9-7.4 7.9-6.2 7.9-4.4 7.9-2.2 7.9 0.3 7.8 2.7 7.9 4.7 7.9 6.2 7.9 7 7.9 7.4 7.9 7.4 7.9 6.9 7.8 6.3 7.9 5.6 7.9 4.7 7.9 4 7.9 3.3 7.9 2.6 7.8 2 7.9 1.6 7.9 1.2 7.9 0.9 7.9 0.7 7.9 0.5 7.9 0.3 7.8 0.1 7.9 0.1 7.9 0 7.9 0 7.9-0.1 7.9 0 7.9-0.1 7.8-0.1 7.9 0 7.9 0 7.9 0 7.9 0.1 7.9 0.1 7.8 0.2 7.9 0.2 7.9 0.3 7.9 0.3 7.9 0.3 7.9 0.4 7.9 0.4 7.8 0.4 7.9 0.4 7.9 0.4 7.9 0.4 7.9 0.3 7.9 0.3 7.9 0.3 7.8 0.3 7.9 0.1 7.9 0.1 7.9 0.1 7.9-0.1 7.9-0.1 7.8-0.3 7.9-0.3 7.9-0.5 7.9-0.5 7.9-0.6 7.9-0.6 7.9-0.7" fill="none" stroke="none" marker-start="url(#ma)" marker-mid="url(#ma)" marker-end="url(#ma)"/>
</g>
<line x1="224.5" y1="52.1" x2="224.5" y2="510" stroke="#ff0000" stroke-width="3" stroke-dasharray="16.5 14.9"/>
<line x1="243.2" y1="500.5" x2="243.2" y2="882" stroke="#000" stroke-width="3" stroke-dasharray="16.3 15.1"/>
<path d="M244.2,504.2 L285.8,489.7 L285.8,518.3 Z" fill="#ff0000"/>
<rect x="284" y="502.1" width="47.7" height="4.2" fill="#ff0000"/>
<text x="56.9" y="59.9" font-size="36" fill="#000">Ni 2</text>
<text x="122.1" y="59.9" font-size="36" fill="#000" font-style="italic">p</text>
<text x="142.8" y="69.6" font-size="24.3" fill="#000">3/2</text>
<text transform="translate(260.6,59.7) scale(0.95,1.0)" font-size="33.7" fill="#ff6b6b">Ni</text>
<text x="292.5" y="46.5" font-size="22" fill="#ff6b6b">δ</text>
<text transform="translate(307.3,45.6) scale(1.4,1.0)" font-size="22" fill="#ff6b6b">−</text>
<text transform="translate(448.3,93.9) scale(0.95,1.0)" font-size="33.4" fill="#5b9be8">Ni</text>
<text x="480.3" y="80.6" font-size="22.2" fill="#5b9be8">2+</text>
<text x="510" y="61.6" font-size="39.7" fill="#e84040">Ni</text>
<text x="548" y="71.8" font-size="25.7" fill="#e84040">4</text>
<text transform="translate(562.7,61.6) scale(0.946,1.0)" font-size="39.7" fill="#e84040">Mo/TiO</text>
<text x="691" y="72.2" font-size="25.7" fill="#e84040">2</text>
<text transform="translate(651.8,109.8) scale(0.955,1.0)" font-size="27.5" fill="#ff0000">1.2 V</text>
<text transform="translate(656,222.3) scale(0.955,1.0)" font-size="27.5" fill="#ff0000">0.8 V</text>
<text transform="translate(654.7,334.3) scale(0.955,1.0)" font-size="27.5" fill="#ff0000">0.4 V</text>
<text transform="translate(656.1,446.4) scale(0.955,1.0)" font-size="27.5" fill="#ff0000">OCP</text>
<text transform="translate(324.3,429.5) scale(0.965,1.0)" font-size="30" fill="#e84042">851.9 eV</text>
<text transform="translate(93.7,517.2) scale(0.96,1.0)" font-size="33" fill="#000">−0.3 eV</text>
<text x="604.1" y="516.9" font-size="39.3" fill="#404040">Ni</text>
<text x="642.7" y="527" font-size="25.4" fill="#404040">4</text>
<text x="656.7" y="516.9" font-size="39.3" fill="#404040">Mo</text>
<text transform="translate(652.6,564.6) scale(0.955,1.0)" font-size="26.5" fill="#000">1.2 V</text>
<text transform="translate(652.6,676) scale(0.955,1.0)" font-size="26.5" fill="#000">0.8 V</text>
<text transform="translate(652.6,787) scale(0.955,1.0)" font-size="26.5" fill="#000">0.4 V</text>
<text transform="translate(652,899) scale(0.955,1.0)" font-size="26.5" fill="#000">OCP</text>
<text transform="translate(353.9,890) scale(0.965,1.0)" font-size="30" fill="#000">852.2 eV</text>
<rect x="52.6" y="25.2" width="670" height="907.4" fill="none" stroke="#000" stroke-width="4.4"/>
<line x1="68.5" y1="934.8" x2="68.5" y2="947.8" stroke="#000" stroke-width="4.3"/>
<line x1="147.3" y1="934.8" x2="147.3" y2="940.3" stroke="#000" stroke-width="4.3"/>
<line x1="226.2" y1="934.8" x2="226.2" y2="947.8" stroke="#000" stroke-width="4.3"/>
<line x1="305.0" y1="934.8" x2="305.0" y2="940.3" stroke="#000" stroke-width="4.3"/>
<line x1="383.9" y1="934.8" x2="383.9" y2="947.8" stroke="#000" stroke-width="4.3"/>
<line x1="462.8" y1="934.8" x2="462.8" y2="940.3" stroke="#000" stroke-width="4.3"/>
<line x1="541.6" y1="934.8" x2="541.6" y2="947.8" stroke="#000" stroke-width="4.3"/>
<line x1="620.4" y1="934.8" x2="620.4" y2="940.3" stroke="#000" stroke-width="4.3"/>
<line x1="699.3" y1="934.8" x2="699.3" y2="947.8" stroke="#000" stroke-width="4.3"/>
<text x="42" y="984.5" font-size="32" fill="#000">850</text>
<text x="199.6" y="984.5" font-size="32" fill="#000">852</text>
<text x="356.8" y="984.5" font-size="32" fill="#000">854</text>
<text x="515" y="984.5" font-size="32" fill="#000">856</text>
<text x="672.6" y="984.5" font-size="32" fill="#000">858</text>
<text x="236.2" y="1026.3" font-size="32" fill="#000">Binding energy (eV)</text>
<text transform="translate(27.3,541.8) rotate(-90) scale(1.0,1.0)" font-size="32" fill="#000">Intensity</text>
<text transform="translate(2.5,61) scale(0.92,1.035)" font-size="70" fill="#000">a</text>
<defs><clipPath id="clipb"><rect x="821.8" y="29.5" width="664.4" height="903.8"/></clipPath></defs>
<g clip-path="url(#clipb)">
<line x1="822" y1="157.2" x2="1486" y2="157.2" stroke="#ffd8d8" stroke-width="1"/>
<path d="M821 155.2l76.7-0.2 22.3-0.3 14.4-0.5 10-0.7 8.9-1.2 7.8-1.7 6.7-2.4 5.5-2.7 5.6-3.6 5.5-4.6 4.5-4.5 5.5-6.6 5.6-7.6 6.7-10.3 14.4-23.6 4.5-6.5 3.3-4.4 4.5-4.9 2.2-2 2.2-1.6 2.2-1.3 2.3-0.9 3.3-0.6 3.3 0.2 2.3 0.6 2.2 1.1 2.2 1.3 2.2 1.8 4.5 4.3 3.3 4 4.5 5.9 15.5 23.2 5.6 7.8 6.7 8.3 3.3 3.6 3.3 3.2 3.4 2.8 3.3 2.5 3.3 2.1 3.4 1.8 3.3 1.5 4.4 1.6 4.5 1.2 4.4 1 8.9 1.1 10 0.6 14.5 0.2 23.3 0 29-0.3 25.5-0.5 74.5-2.5 32.3-0.7 42.2-0.4 92.3 0 0 0-88.9 0-41.2 0.3-33.3 0.7-63.4 2.2-32.3 0.7-34.4 0.5-69 0.3-22.2 0.3-15.6 0.5-14.4 0.8-13.4 1.2-42.2 4.1-15.6 1.1-16.7 0.8-31.1 0.9-40 0.6-37.8 0.3-54.5 0.1z" fill="#fa9898"/>
<path d="M821 155.2l53.4-0.1 36.7-0.2 37.8-0.6 32.2-0.9 17.8-0.8 15.6-1 14.4-1.3 33.4-3.3 21.1-1.6 22.2-0.7 54.5-0.7 13.4-0.5 11.1-0.8 8.9-1 7.8-1.2 7.7-1.5 7.8-2 7.8-2.3 7.8-2.7 8.9-3.5 18.9-7.9 11.1-4 6.7-1.9 5.5-1.1 5.6-0.8 5.5-0.3 4.5 0 5.6 0.5 5.5 0.9 5.6 1.2 11.1 3.4 24.5 8.9 11.1 3.6 6.6 1.9 6.7 1.6 6.7 1.3 6.7 1 7.7 1 7.8 0.7 17.8 0.8 23.4 0.4 41.1 0.1 0 0-88.9 0-41.2 0.3-33.3 0.7-63.4 2.2-32.3 0.7-34.4 0.5-69 0.3-22.2 0.3-15.6 0.5-14.4 0.8-13.4 1.2-42.2 4.1-15.6 1.1-16.7 0.8-31.1 0.9-40 0.6-37.8 0.3-54.5 0.1z" fill="#fcc8c8" fill-opacity="0.85"/>
<path d="M821 154.9l16.7-0.4 13.3-0.6 12.3-0.8 12.2-1.3 10-1.4 11.1-1.9 32.2-6.6 12.3-2.2 12.2-1.6 12.2-0.7 10 0.1 11.2 0.7 33.3 4 14.5 1.3 13.3 0.7 16.7 0.3 99-0.2 42.2-0.2 43.4-0.8 70-2.4 32.3-0.7 42.2-0.3 93.4-0.1 0 0-88.9 0-41.2 0.3-33.3 0.7-63.4 2.2-32.3 0.7-34.4 0.5-69 0.3-22.2 0.3-15.6 0.5-14.4 0.8-13.4 1.2-42.2 4.1-15.6 1.1-16.7 0.8-31.1 0.9-40 0.6-37.8 0.3-54.5 0.1z" fill="rgb(60,130,228)" fill-opacity="0.6"/>
<path d="M821 155.2l55.6-0.1 38.9-0.3 42.3-0.7 31.1-1 14.4-0.7 14.5-1 43.4-4.3 17.7-1.4 16.7-0.9 48.9-1.6 16.7-1 35.6-2.4 20-0.9 21.1 0 41.2 1.3 22.2 0.3 83.4-0.6 102.3-0.1 0 0-88.9 0-41.2 0.3-33.3 0.7-63.4 2.2-32.3 0.7-34.4 0.5-69 0.3-22.2 0.3-15.6 0.5-14.4 0.8-13.4 1.2-42.2 4.1-15.6 1.1-16.7 0.8-31.1 0.9-40 0.6-37.8 0.3-54.5 0.1z" fill="rgb(150,190,240)" fill-opacity="0.5"/>
<path d="M821 155.2l54.5-0.1 37.8-0.3 40-0.6 31.1-0.9 16.7-0.8 15.6-1.1 42.2-4.1 13.4-1.2 14.4-0.8 15.6-0.5 22.2-0.3 69-0.3 34.4-0.5 32.3-0.7 63.4-2.2 33.3-0.7 41.2-0.3 88.9 0" fill="none" stroke="#555" stroke-width="1.5"/>
<path d="M823.9 155.4l18.3-0.5 18.2-1.1 13.6-1.3 13.7-1.9 18.2-3.4 45.5-9.9 9.1-2.5 4.6-1.5 4.5-1.8 4.6-2.2 4.5-2.7 4.6-3.2 4.6-3.8 4.5-4.5 4.6-5.2 4.5-5.7 4.6-6.2 13.6-19.6 4.6-6 4.5-5.3 4.6-4.2 4.5-2.9 4.6-1.4 4.5 0.1 4.6 1.6 4.6 3.2 4.5 4.5 4.6 5.6 4.5 6.4 13.7 21.2 4.5 6.8 4.6 6.3 4.5 5.7 4.6 5 4.5 4.3 4.6 3.5 4.5 2.8 4.6 2.3 4.5 1.7 4.6 1.2 4.6 0.9 4.5 0.5 9.1 0.5 13.7-0.5 13.6-1.3 9.1-1.3 9.1-1.5 13.7-2.8 13.7-3.7 13.6-4.4 27.3-9.7 9.1-2.7 9.1-2 4.6-0.6 4.6-0.4 4.5-0.1 4.6 0.1 4.5 0.5 4.6 0.7 9.1 2.1 9.1 2.8 22.7 8.6 13.7 4.6 9.1 2.6 4.6 1 13.6 2.5 13.7 1.6 18.2 1 22.8 0.4 40.9 0.1" fill="none" stroke="#444" stroke-width="0.8"/>
<path d="M823.9 154.4l4.6-0.1 4.6-0.1 4.5-0.2 4.6-0.1 4.5-0.2 4.6-0.3 4.5-0.3 4.6-0.3 4.5-0.4 4.6-0.4 4.5-0.5 4.6-0.6 4.5-0.6 4.6-0.7 4.5-0.8 4.6-0.8 4.5-0.9 4.6-0.9 4.6-1 4.5-0.9 4.6-1 4.5-1 4.6-1 4.5-1 4.6-1 4.5-1 4.6-1 4.5-1 4.6-1.2 4.5-1.3 4.6-1.5 4.5-1.8 4.6-2.2 4.5-2.7 4.6-3.2 4.6-3.8 4.5-4.5 4.6-5.2 4.5-5.7 4.6-6.2 4.5-6.5 4.6-6.7 4.5-6.4 4.6-6 4.5-5.3 4.6-4.2 4.5-2.9 4.6-1.4 4.5 0.1 4.6 1.6 4.6 3.2 4.5 4.5 4.6 5.6 4.5 6.4 4.6 7 4.5 7.1 4.6 7.1 4.5 6.8 4.6 6.3 4.5 5.7 4.6 5 4.5 4.3 4.6 3.5 4.5 2.8 4.6 2.3 4.5 1.7 4.6 1.2 4.6 0.9 4.5 0.5 4.6 0.3 4.5 0.2 4.6-0.1 4.5-0.2 4.6-0.2 4.5-0.4 4.6-0.4 4.5-0.5 4.6-0.6 4.5-0.7 4.6-0.7 4.5-0.8 4.6-0.8 4.5-1 4.6-1 4.6-1.2 4.5-1.2 4.6-1.3 4.5-1.4 4.6-1.5 4.5-1.5 4.6-1.6 4.5-1.6 4.6-1.7 4.5-1.7 4.6-1.6 4.5-1.5 4.6-1.4 4.5-1.3 4.6-1.1 4.5-0.9 4.6-0.6 4.6-0.4 4.5-0.1 4.6 0.1 4.5 0.5 4.6 0.7 4.5 0.9 4.6 1.2 4.5 1.3 4.6 1.5 4.5 1.7 4.6 1.7 4.5 1.7 4.6 1.7 4.5 1.8 4.6 1.6 4.5 1.6 4.6 1.4 4.6 1.3 4.5 1.3 4.6 1 4.5 1 4.6 0.8 4.5 0.7 4.6 0.6 4.5 0.5 4.6 0.5 4.5 0.3 4.6 0.3 4.5 0.2 4.6 0.2 4.5 0.1 4.6 0.1 4.5 0.1 4.6 0 4.6 0.1 4.5 0 4.6 0 4.5 0.1 4.6 0 4.5 0 4.6 0 4.5 0 4.6 0 4.5 0" fill="none" stroke="none" marker-start="url(#mb)" marker-mid="url(#mb)" marker-end="url(#mb)"/>
<line x1="822" y1="284.8" x2="1486" y2="284.8" stroke="#ffd8d8" stroke-width="1"/>
<path d="M821 282.8l73.4-0.2 21.1-0.3 14.5-0.4 10-0.6 8.9-1.1 7.7-1.6 6.7-2.1 5.6-2.5 5.5-3.4 5.6-4.2 4.4-4.2 5.6-6.1 6.7-8.7 5.5-8.1 14.5-22.2 4.4-6.3 3.4-4.1 4.4-4.8 2.2-1.9 2.3-1.6 2.2-1.3 2.2-0.9 2.2-0.6 2.3-0.2 3.3 0.4 2.2 0.8 2.2 1 2.3 1.4 2.2 1.8 4.4 4.2 3.4 3.9 4.4 5.7 14.5 20.4 5.5 7.4 6.7 7.9 3.3 3.4 3.4 3.1 3.3 2.8 3.3 2.3 3.4 2.1 3.3 1.7 3.4 1.5 4.4 1.5 4.4 1.2 4.5 0.9 8.9 1.1 11.1 0.6 14.5 0.3 23.3-0.1 56.7-0.7 75.6-2.3 32.3-0.7 42.2-0.3 92.3 0 0 0-88.9 0-41.2 0.3-33.3 0.6-62.3 2-33.4 0.7-35.5 0.4-72.3 0.3-22.2 0.3-15.6 0.4-14.5 0.8-13.3 1.1-41.1 3.7-15.6 1-16.7 0.7-30 0.8-40 0.6-36.7 0.3-53.4 0.1z" fill="#fa9898"/>
<path d="M821 282.8l86.7-0.3 37.8-0.6 31.2-0.7 17.7-0.7 15.6-0.9 14.5-1.2 34.4-3.2 20-1.3 23.4-0.7 57.8-0.7 13.4-0.4 11.1-0.8 8.9-0.9 7.8-1 7.7-1.4 7.8-1.8 7.8-2.1 7.8-2.5 27.8-10.2 11.1-3.7 6.7-1.7 5.5-1 5.6-0.7 5.5-0.3 4.5 0 5.6 0.4 5.5 0.8 5.6 1.2 11.1 3 24.5 8.1 11.1 3.3 13.3 3.1 13.4 2.1 15.5 1.5 17.8 0.8 23.4 0.3 41.1 0.1 0 0-88.9 0-41.2 0.3-33.3 0.6-62.3 2-33.4 0.7-35.5 0.4-72.3 0.3-22.2 0.3-15.6 0.4-14.5 0.8-13.3 1.1-41.1 3.7-15.6 1-16.7 0.7-30 0.8-40 0.6-36.7 0.3-53.4 0.1z" fill="#fcc8c8" fill-opacity="0.85"/>
<path d="M821 282.5l14.5-0.4 13.3-0.7 12.2-1 11.1-1.3 10.1-1.4 11.1-2.1 32.2-7.1 12.2-2.4 12.3-1.7 6.6-0.6 5.6-0.2 10 0.1 11.1 0.8 10 1.3 26.7 3.8 15.6 1.7 16.7 1 20 0.4 71.1 0.2 60.1-0.3 45.6-0.7 70-2.2 32.3-0.6 42.2-0.4 93.4 0 0 0-88.9 0-41.2 0.3-33.3 0.6-62.3 2-33.4 0.7-35.5 0.4-72.3 0.3-22.2 0.3-15.6 0.4-14.5 0.8-13.3 1.1-41.1 3.7-15.6 1-16.7 0.7-30 0.8-40 0.6-36.7 0.3-53.4 0.1z" fill="rgb(60,130,228)" fill-opacity="0.6"/>
<path d="M821 282.8l54.5-0.1 38.9-0.3 41.1-0.7 30.1-0.8 14.4-0.7 14.5-1 42.2-3.8 17.8-1.3 16.7-0.8 50-1.6 16.7-0.9 35.6-2.5 20-0.8 21.1 0.1 43.4 1.4 22.2 0.4 84.5-0.6 102.3-0.1 0 0-88.9 0-41.2 0.3-33.3 0.6-62.3 2-33.4 0.7-35.5 0.4-72.3 0.3-22.2 0.3-15.6 0.4-14.5 0.8-13.3 1.1-41.1 3.7-15.6 1-16.7 0.7-30 0.8-40 0.6-36.7 0.3-53.4 0.1z" fill="rgb(150,190,240)" fill-opacity="0.5"/>
<path d="M821 282.8l53.4-0.1 36.7-0.3 40-0.6 30-0.8 16.7-0.7 15.6-1 41.1-3.7 13.3-1.1 14.5-0.8 15.6-0.4 22.2-0.3 72.3-0.3 35.5-0.4 33.4-0.7 62.3-2 33.3-0.6 41.2-0.3 88.9 0" fill="none" stroke="#555" stroke-width="1.5"/>
<path d="M823.9 282.9l18.3-0.6 13.6-0.9 13.7-1.4 13.6-2 18.2-3.6 45.6-10.6 9.1-2.4 9.1-3.1 4.5-2 4.6-2.5 4.5-2.9 4.6-3.5 4.6-4.1 4.5-4.7 4.6-5.2 4.5-5.7 13.7-18.1 4.5-5.6 4.6-4.9 4.5-4 4.6-2.7 4.5-1.4 4.6 0 4.5 1.5 4.6 3 4.6 4.2 4.5 5.2 4.6 6.1 13.6 20.1 4.6 6.6 4.5 6 4.6 5.5 4.5 4.8 4.6 4.1 4.5 3.5 4.6 2.7 4.5 2.2 4.6 1.7 4.5 1.2 4.6 0.9 4.6 0.5 9.1 0.5 13.6-0.4 9.1-0.7 9.1-0.9 18.2-2.6 13.7-2.6 13.7-3.2 13.6-3.9 27.3-8.5 9.1-2.4 9.1-1.8 4.6-0.5 4.6-0.4 4.5-0.1 4.6 0.2 4.5 0.4 4.6 0.6 9.1 1.9 9.1 2.6 22.7 7.7 13.7 4.2 13.7 3.3 13.6 2.2 13.7 1.4 18.2 0.9 22.8 0.4 40.9 0.1" fill="none" stroke="#444" stroke-width="0.8"/>
<path d="M823.9 281.9l4.6-0.1 4.6-0.2 4.5-0.1 4.6-0.2 4.5-0.3 4.6-0.3 4.5-0.3 4.6-0.4 4.5-0.5 4.6-0.5 4.5-0.6 4.6-0.7 4.5-0.7 4.6-0.8 4.5-0.9 4.6-0.9 4.5-1 4.6-1 4.6-1.1 4.5-1 4.6-1.1 4.5-1.1 4.6-1 4.5-1.1 4.6-1 4.5-1.1 4.6-1.1 4.5-1.1 4.6-1.3 4.5-1.4 4.6-1.7 4.5-2 4.6-2.5 4.5-2.9 4.6-3.5 4.6-4.1 4.5-4.7 4.6-5.2 4.5-5.7 4.6-6 4.5-6.1 4.6-6 4.5-5.6 4.6-4.9 4.5-4 4.6-2.7 4.5-1.4 4.6 0 4.5 1.5 4.6 3 4.6 4.2 4.5 5.2 4.6 6.1 4.5 6.6 4.6 6.8 4.5 6.7 4.6 6.6 4.5 6 4.6 5.5 4.5 4.8 4.6 4.1 4.5 3.5 4.6 2.7 4.5 2.2 4.6 1.7 4.5 1.2 4.6 0.9 4.6 0.5 4.5 0.4 4.6 0.1 4.5 0 4.6-0.2 4.5-0.2 4.6-0.3 4.5-0.4 4.6-0.4 4.5-0.5 4.6-0.6 4.5-0.6 4.6-0.7 4.5-0.7 4.6-0.8 4.5-0.8 4.6-1 4.6-1 4.5-1 4.6-1.2 4.5-1.2 4.6-1.3 4.5-1.4 4.6-1.4 4.5-1.4 4.6-1.5 4.5-1.4 4.6-1.5 4.5-1.3 4.6-1.3 4.5-1.1 4.6-1 4.5-0.8 4.6-0.5 4.6-0.4 4.5-0.1 4.6 0.2 4.5 0.4 4.6 0.6 4.5 0.8 4.6 1.1 4.5 1.2 4.6 1.4 4.5 1.5 4.6 1.5 4.5 1.6 4.6 1.5 4.5 1.6 4.6 1.5 4.5 1.4 4.6 1.3 4.6 1.2 4.5 1.1 4.6 1 4.5 0.8 4.6 0.8 4.5 0.6 4.6 0.6 4.5 0.4 4.6 0.4 4.5 0.3 4.6 0.3 4.5 0.2 4.6 0.1 4.5 0.1 4.6 0.1 4.5 0.1 4.6 0.1 4.6 0 4.5 0 4.6 0 4.5 0.1 4.6 0 4.5 0 4.6 0 4.5 0 4.6 0 4.5 0" fill="none" stroke="none" marker-start="url(#mb)" marker-mid="url(#mb)" marker-end="url(#mb)"/>
<line x1="822" y1="415.0" x2="1486" y2="415.0" stroke="#ffd8d8" stroke-width="1"/>
<path d="M821 413l70-0.3 21.2-0.3 14.4-0.5 10-0.7 8.9-1.1 7.8-1.7 6.7-2.2 3.3-1.4 3.4-1.7 5.5-3.6 3.3-2.6 3.4-2.9 5.5-5.7 4.5-5.3 5.5-7.3 15.6-23 4.5-6.3 4.4-5.7 4.5-4.8 4.4-3.8 3.3-2 3.4-1.2 3.3-0.5 3.3 0.4 2.3 0.6 2.2 1 2.2 1.3 2.2 1.6 4.5 4.1 3.3 3.6 4.5 5.4 14.4 19.5 6.7 8.4 6.7 7.3 3.3 3.2 3.3 2.8 3.4 2.5 3.3 2.2 3.3 1.9 3.4 1.5 3.3 1.3 4.5 1.4 4.4 1.1 4.5 0.8 8.9 1 11.1 0.5 15.5 0.2 24.5-0.1 54.5-0.9 74.5-2.4 33.3-0.7 42.3-0.4 95.6 0 0 0-92.3 0-41.1 0.3-33.4 0.7-63.4 2.1-33.3 0.8-35.6 0.5-72.3 0.3-22.2 0.3-15.6 0.5-14.4 0.9-13.4 1.2-41.1 4-14.5 1-16.6 0.8-31.2 0.9-41.1 0.8-36.7 0.3-47.8 0.1z" fill="#fa9898"/>
<path d="M821 413l46.7-0.1 35.6-0.3 38.9-0.7 31.1-0.8 17.8-0.8 15.6-1 13.3-1.2 34.5-3.5 21.1-1.4 23.4-0.8 57.8-0.7 13.3-0.4 11.1-0.7 8.9-0.8 7.8-1 7.8-1.3 7.8-1.7 7.8-1.9 7.8-2.3 26.6-8.8 11.2-3.3 6.6-1.6 5.6-1 5.5-0.6 5.6-0.3 4.4 0 5.6 0.3 5.6 0.7 5.5 1 11.1 2.6 24.5 7 12.2 3.2 13.4 2.6 13.3 1.8 15.6 1.3 17.8 0.6 23.3 0.3 44.5 0.1 0 0-92.3 0-41.1 0.3-33.4 0.7-63.4 2.1-33.3 0.8-35.6 0.5-72.3 0.3-22.2 0.3-15.6 0.5-14.4 0.9-13.4 1.2-41.1 4-14.5 1-16.6 0.8-31.2 0.9-41.1 0.8-36.7 0.3-47.8 0.1z" fill="#fcc8c8" fill-opacity="0.85"/>
<path d="M821 412.5l12.2-0.5 11.1-0.7 11.2-0.9 10-1.2 8.9-1.3 10-1.8 31.1-6.4 12.2-2.2 12.3-1.7 12.2-0.7 10 0.1 11.1 0.7 10 1.2 24.5 3.2 13.3 1.3 12.3 0.7 13.3 0.3 50-0.4 80.1-0.2 40-0.5 37.8-0.8 67.8-2.3 33.4-0.6 40-0.3 91.2 0 0 0-92.3 0-41.1 0.3-33.4 0.7-63.4 2.1-33.3 0.8-35.6 0.5-72.3 0.3-22.2 0.3-15.6 0.5-14.4 0.9-13.4 1.2-41.1 4-14.5 1-16.6 0.8-31.2 0.9-41.1 0.8-36.7 0.3-47.8 0.1z" fill="rgb(60,130,228)" fill-opacity="0.6"/>
<path d="M821 413l50-0.1 37.8-0.4 43.4-0.8 30-0.9 14.5-0.8 13.3-1 42.3-4.2 18.9-1.5 15.5-0.7 45.6-1.7 51.2-3.3 18.9-0.8 21.1 0 42.2 1.4 22.3 0.4 86.7-1 112.3-0.1 0 0-92.3 0-41.1 0.3-33.4 0.7-63.4 2.1-33.3 0.8-35.6 0.5-72.3 0.3-22.2 0.3-15.6 0.5-14.4 0.9-13.4 1.2-41.1 4-14.5 1-16.6 0.8-31.2 0.9-41.1 0.8-36.7 0.3-47.8 0.1z" fill="rgb(150,190,240)" fill-opacity="0.5"/>
<path d="M821 413l47.8-0.1 36.7-0.3 41.1-0.8 31.2-0.9 16.6-0.8 14.5-1 41.1-4 13.4-1.2 14.4-0.9 15.6-0.5 22.2-0.3 72.3-0.3 35.6-0.5 33.3-0.8 63.4-2.1 33.4-0.7 41.1-0.3 92.3 0" fill="none" stroke="#555" stroke-width="1.5"/>
<path d="M823.9 412.9l13.7-0.6 13.7-1 13.6-1.5 13.7-2.1 13.6-2.6 27.4-5.8 27.3-5.4 9.1-2.3 4.5-1.4 4.6-1.8 4.5-2.2 4.6-2.7 4.5-3.3 4.6-3.8 4.6-4.4 4.5-5 4.6-5.5 13.6-17.5 4.6-5.5 4.5-4.8 4.6-4 4.5-2.9 4.6-1.5 4.5-0.2 4.6 1.3 4.5 2.6 4.6 3.8 4.6 4.9 4.5 5.7 13.7 18.9 4.5 6.2 4.6 5.7 4.5 5.2 4.6 4.6 4.5 3.9 4.6 3.3 4.5 2.6 4.6 2.1 4.5 1.6 4.6 1.1 4.5 0.8 4.6 0.5 9.1 0.4 13.7-0.5 18.2-1.6 18.2-2.3 18.2-3.1 13.7-2.9 13.6-3.4 22.8-6.2 9.1-2.1 9.1-1.6 4.5-0.6 9.2-0.4 9.1 0.3 4.5 0.6 9.1 1.6 9.1 2.2 27.3 8 9.1 2.3 13.7 2.9 13.7 2 13.6 1.3 18.2 0.8 22.8 0.3 45.5 0.1" fill="none" stroke="#444" stroke-width="0.8"/>
<path d="M823.9 411.9l4.6-0.2 4.6-0.2 4.5-0.2 4.6-0.3 4.5-0.3 4.6-0.4 4.5-0.5 4.6-0.5 4.5-0.5 4.6-0.7 4.5-0.7 4.6-0.7 4.5-0.8 4.6-0.9 4.5-0.9 4.6-1 4.5-0.9 4.6-1 4.6-1 4.5-1 4.6-0.9 4.5-1 4.6-0.9 4.5-0.8 4.6-0.9 4.5-0.9 4.6-0.9 4.5-1.1 4.6-1.2 4.5-1.4 4.6-1.8 4.5-2.2 4.6-2.7 4.5-3.3 4.6-3.8 4.6-4.4 4.5-5 4.6-5.5 4.5-5.8 4.6-5.9 4.5-5.8 4.6-5.5 4.5-4.8 4.6-4 4.5-2.9 4.6-1.5 4.5-0.2 4.6 1.3 4.5 2.6 4.6 3.8 4.6 4.9 4.5 5.7 4.6 6.1 4.5 6.4 4.6 6.4 4.5 6.2 4.6 5.7 4.5 5.2 4.6 4.6 4.5 3.9 4.6 3.3 4.5 2.6 4.6 2.1 4.5 1.6 4.6 1.1 4.5 0.8 4.6 0.5 4.6 0.3 4.5 0.1 4.6-0.1 4.5-0.1 4.6-0.3 4.5-0.3 4.6-0.4 4.5-0.4 4.6-0.5 4.5-0.5 4.6-0.6 4.5-0.6 4.6-0.6 4.5-0.7 4.6-0.7 4.5-0.8 4.6-0.9 4.6-0.9 4.5-0.9 4.6-1.1 4.5-1.1 4.6-1.1 4.5-1.2 4.6-1.3 4.5-1.2 4.6-1.3 4.5-1.2 4.6-1.2 4.5-1.1 4.6-1 4.5-0.9 4.6-0.7 4.5-0.6 4.6-0.3 4.6-0.1 4.5 0 4.6 0.3 4.5 0.6 4.6 0.7 4.5 0.9 4.6 1 4.5 1.2 4.6 1.2 4.5 1.4 4.6 1.3 4.5 1.4 4.6 1.4 4.5 1.3 4.6 1.2 4.5 1.1 4.6 1.1 4.6 1 4.5 0.8 4.6 0.8 4.5 0.7 4.6 0.5 4.5 0.5 4.6 0.4 4.5 0.4 4.6 0.2 4.5 0.3 4.6 0.1 4.5 0.2 4.6 0.1 4.5 0.1 4.6 0 4.5 0.1 4.6 0 4.6 0 4.5 0.1 4.6 0 4.5 0 4.6 0 4.5 0 4.6 0 4.5 0 4.6 0 4.5 0" fill="none" stroke="none" marker-start="url(#mb)" marker-mid="url(#mb)" marker-end="url(#mb)"/>
<line x1="822" y1="544.5" x2="1486" y2="544.5" stroke="#ffd8d8" stroke-width="1"/>
<path d="M821 542.5l66.7-0.3 21.1-0.3 14.5-0.4 10-0.7 8.9-1.1 7.8-1.5 6.6-2.1 5.6-2.5 5.6-3.2 5.5-4.1 4.5-4 5.5-5.8 5.6-6.8 5.5-7.5 15.6-22.1 4.5-5.7 3.3-3.8 4.4-4.2 2.3-1.7 2.2-1.4 2.2-1.1 2.2-0.8 3.4-0.5 3.3 0.3 2.2 0.6 2.3 0.9 2.2 1.3 2.2 1.5 4.5 3.8 3.3 3.5 4.4 5.2 14.5 18.7 6.7 8.2 6.6 7.1 3.4 3.1 3.3 2.7 3.3 2.4 3.4 2.2 3.3 1.8 3.3 1.5 3.4 1.3 4.4 1.4 4.5 1 4.4 0.8 8.9 0.9 11.1 0.6 15.6 0.1 24.5-0.1 55.6-0.8 74.5-2.3 33.3-0.8 42.3-0.3 97.8 0 0 0-94.5 0-41.1 0.3-33.4 0.6-63.4 2.1-33.3 0.8-36.7 0.4-72.3 0.4-22.2 0.3-14.5 0.4-14.4 0.8-14.5 1.2-40 3.9-14.5 1-16.7 0.8-31.1 0.8-41.1 0.8-35.6 0.3-46.7 0.1z" fill="#fa9898"/>
<path d="M821 542.5l45.6-0.1 34.5-0.3 38.9-0.7 31.1-0.8 16.7-0.7 15.5-1 14.5-1.2 33.4-3.3 21.1-1.4 23.3-0.8 59-0.6 13.3-0.5 11.1-0.7 8.9-0.8 7.8-1 7.8-1.3 6.6-1.4 7.8-1.8 8.9-2.6 26.7-8.8 11.1-3.3 6.7-1.5 5.6-1 5.5-0.6 5.6-0.3 4.4 0 5.6 0.3 5.5 0.7 5.6 1 11.1 2.6 24.5 7.1 12.2 3.1 13.4 2.6 13.3 1.9 15.6 1.2 17.8 0.7 24.4 0.2 45.6 0.1 0 0-94.5 0-41.1 0.3-33.4 0.6-63.4 2.1-33.3 0.8-36.7 0.4-72.3 0.4-22.2 0.3-14.5 0.4-14.4 0.8-14.5 1.2-40 3.9-14.5 1-16.7 0.8-31.1 0.8-41.1 0.8-35.6 0.3-46.7 0.1z" fill="#fcc8c8" fill-opacity="0.85"/>
<path d="M821 541.8l11.1-0.6 11.1-0.8 10-1 8.9-1.2 8.9-1.5 10-1.9 30.1-6.8 12.2-2.5 12.2-1.8 6.7-0.5 5.6-0.3 11.1 0.2 11.1 0.9 10 1.3 25.6 4 13.3 1.6 13.4 0.9 15.5 0.4 116.8-0.3 47.8-0.5 38.9-0.8 68.9-2.2 34.5-0.6 40-0.3 92.3 0 0 0-94.5 0-41.1 0.3-33.4 0.6-63.4 2.1-33.3 0.8-36.7 0.4-72.3 0.4-22.2 0.3-14.5 0.4-14.4 0.8-14.5 1.2-40 3.9-14.5 1-16.7 0.8-31.1 0.8-41.1 0.8-35.6 0.3-46.7 0.1z" fill="rgb(60,130,228)" fill-opacity="0.6"/>
<path d="M821 542.5l48.9-0.1 36.7-0.4 43.4-0.8 30-0.9 14.4-0.8 13.4-0.9 41.1-4 17.8-1.4 15.6-0.8 46.7-1.7 50-3.3 18.9-0.8 11.1-0.1 11.2 0.2 42.2 1.5 23.4 0.4 86.7-1 114.5-0.1 0 0-94.5 0-41.1 0.3-33.4 0.6-63.4 2.1-33.3 0.8-36.7 0.4-72.3 0.4-22.2 0.3-14.5 0.4-14.4 0.8-14.5 1.2-40 3.9-14.5 1-16.7 0.8-31.1 0.8-41.1 0.8-35.6 0.3-46.7 0.1z" fill="rgb(150,190,240)" fill-opacity="0.5"/>
<path d="M821 542.5l46.7-0.1 35.6-0.3 41.1-0.8 31.1-0.8 16.7-0.8 14.5-1 40-3.9 14.5-1.2 14.4-0.8 14.5-0.4 22.2-0.3 72.3-0.4 36.7-0.4 33.3-0.8 63.4-2.1 33.4-0.6 41.1-0.3 94.5 0" fill="none" stroke="#555" stroke-width="1.5"/>
<path d="M823.9 542.2l13.7-0.8 13.7-1.3 9.1-1.1 13.6-2.3 13.7-2.8 31.9-7.4 27.3-5.5 9.1-2.3 4.5-1.6 4.6-1.9 4.5-2.3 4.6-2.8 4.5-3.4 4.6-4 4.6-4.5 4.5-5 18.2-21.8 4.6-4.8 4.5-4 4.6-3 4.5-1.8 4.6-0.6 4.5 0.9 4.6 2.2 4.5 3.3 4.6 4.5 4.6 5.3 4.5 5.8 13.7 18.4 4.5 5.7 4.6 5.2 4.5 4.7 4.6 3.9 4.5 3.4 4.6 2.7 4.5 2.2 4.6 1.6 4.5 1.2 4.6 0.9 9.1 0.9 4.6 0.1 9.1-0.2 9.1-0.5 9.1-0.8 22.7-2.6 18.2-2.9 13.7-2.7 13.7-3.3 27.3-7.3 9.1-2 9.1-1.5 4.5-0.4 9.2-0.3 9.1 0.6 9.1 1.5 4.5 0.9 9.1 2.3 22.8 6.7 13.6 3.6 13.7 2.7 13.7 1.9 13.6 1.1 18.2 0.7 22.8 0.3 45.5 0.1" fill="none" stroke="#444" stroke-width="0.8"/>
<path d="M823.9 541.2l4.6-0.3 4.6-0.2 4.5-0.3 4.6-0.4 4.5-0.4 4.6-0.5 4.5-0.5 4.6-0.6 4.5-0.7 4.6-0.8 4.5-0.8 4.6-0.9 4.5-0.9 4.6-1 4.5-1.1 4.6-1 4.5-1.1 4.6-1.1 4.6-1.1 4.5-1 4.6-1 4.5-0.9 4.6-1 4.5-0.8 4.6-0.9 4.5-0.9 4.6-1 4.5-1 4.6-1.3 4.5-1.6 4.6-1.9 4.5-2.3 4.6-2.8 4.5-3.4 4.6-4 4.6-4.5 4.5-5 4.6-5.4 4.5-5.6 4.6-5.5 4.5-5.3 4.6-4.8 4.5-4 4.6-3 4.5-1.8 4.6-0.6 4.5 0.9 4.6 2.2 4.5 3.3 4.6 4.5 4.6 5.3 4.5 5.8 4.6 6.2 4.5 6.2 4.6 6 4.5 5.7 4.6 5.2 4.5 4.7 4.6 3.9 4.5 3.4 4.6 2.7 4.5 2.2 4.6 1.6 4.5 1.2 4.6 0.9 4.5 0.6 4.6 0.3 4.6 0.1 4.5 0 4.6-0.2 4.5-0.2 4.6-0.3 4.5-0.3 4.6-0.5 4.5-0.4 4.6-0.5 4.5-0.5 4.6-0.6 4.5-0.6 4.6-0.7 4.5-0.7 4.6-0.7 4.5-0.8 4.6-0.8 4.6-1 4.5-0.9 4.6-1.1 4.5-1.1 4.6-1.1 4.5-1.2 4.6-1.3 4.5-1.2 4.6-1.3 4.5-1.2 4.6-1.1 4.5-1.1 4.6-0.9 4.5-0.8 4.6-0.7 4.5-0.4 4.6-0.2 4.6-0.1 4.5 0.2 4.6 0.4 4.5 0.7 4.6 0.8 4.5 0.9 4.6 1.1 4.5 1.2 4.6 1.3 4.5 1.4 4.6 1.4 4.5 1.3 4.6 1.3 4.5 1.3 4.6 1.2 4.5 1.1 4.6 1 4.6 0.9 4.5 0.8 4.6 0.8 4.5 0.6 4.6 0.5 4.5 0.4 4.6 0.4 4.5 0.3 4.6 0.2 4.5 0.2 4.6 0.2 4.5 0.1 4.6 0.1 4.5 0.1 4.6 0.1 4.5 0 4.6 0 4.6 0 4.5 0.1 4.6 0 4.5 0 4.6 0 4.5 0 4.6 0 4.5 0 4.6 0 4.5 0" fill="none" stroke="none" marker-start="url(#mb)" marker-mid="url(#mb)" marker-end="url(#mb)"/>
<line x1="822" y1="672.3" x2="1486" y2="672.3" stroke="#ffd8d8" stroke-width="1"/>
<path d="M821 670.3l68.9-0.2 21.2-0.3 14.4-0.5 10-0.6 8.9-1.1 7.8-1.5 6.7-2.1 6.6-3 5.6-3.3 3.3-2.4 3.4-2.7 5.5-5.3 4.5-5 5.5-6.8 15.6-21.3 4.5-5.8 4.4-5.3 3.3-3.4 4.5-3.7 3.3-2 2.2-1 2.3-0.7 3.3-0.4 3.3 0.4 2.3 0.6 2.2 1 4.4 2.8 4.5 3.7 3.3 3.4 4.5 5.1 14.4 18.1 6.7 7.8 6.7 6.7 3.3 3 3.3 2.6 3.4 2.3 3.3 2 6.7 3.1 3.3 1.2 4.5 1.3 4.4 1 4.4 0.7 8.9 0.9 11.2 0.5 14.4 0.2 24.5-0.1 54.5-0.8 74.5-2.2 33.3-0.7 42.3-0.3 97.8 0 0 0-94.5 0-41.1 0.3-33.4 0.6-63.4 1.9-33.3 0.8-35.6 0.4-71.2 0.3-22.2 0.3-15.6 0.4-14.4 0.8-13.4 1.1-41.1 3.7-14.5 0.9-16.6 0.7-30.1 0.8-41.1 0.7-36.7 0.3-47.8 0.1z" fill="#fa9898"/>
<path d="M821 670.3l82.3-0.4 37.8-0.6 31.1-0.7 17.8-0.7 15.6-1 47.8-4.2 21.1-1.4 23.4-0.7 56.7-0.6 13.3-0.4 11.1-0.7 8.9-0.8 7.8-1 7.8-1.2 6.6-1.4 7.8-1.8 8.9-2.5 26.7-8.7 11.1-3.2 6.7-1.5 5.6-0.9 5.5-0.7 5.6-0.2 4.4 0 5.6 0.3 5.5 0.7 5.6 1 11.1 2.6 24.5 6.9 12.2 3.1 13.4 2.6 13.3 1.8 15.6 1.2 17.8 0.7 24.4 0.2 45.6 0.1 0 0-94.5 0-41.1 0.3-33.4 0.6-63.4 1.9-33.3 0.8-35.6 0.4-71.2 0.3-22.2 0.3-15.6 0.4-14.4 0.8-13.4 1.1-41.1 3.7-14.5 0.9-16.6 0.7-30.1 0.8-41.1 0.7-36.7 0.3-47.8 0.1z" fill="#fcc8c8" fill-opacity="0.85"/>
<path d="M821 669.7l12.2-0.6 11.1-0.8 10.1-1 10-1.3 10-1.8 10-2 31.1-7.6 12.2-2.6 12.3-1.9 6.6-0.6 5.6-0.2 11.1 0.2 11.1 1.1 10 1.5 25.6 4.4 15.6 2 15.5 1.2 18.9 0.6 77.9 0.1 57.8-0.3 46.7-0.7 71.2-2.2 32.2-0.7 43.4-0.3 97.8 0 0 0-94.5 0-41.1 0.3-33.4 0.6-63.4 1.9-33.3 0.8-35.6 0.4-71.2 0.3-22.2 0.3-15.6 0.4-14.4 0.8-13.4 1.1-41.1 3.7-14.5 0.9-16.6 0.7-30.1 0.8-41.1 0.7-36.7 0.3-47.8 0.1z" fill="rgb(60,130,228)" fill-opacity="0.6"/>
<path d="M821 670.3l50-0.1 37.8-0.3 42.3-0.8 30-0.8 14.5-0.7 13.3-0.9 41.1-3.8 17.8-1.3 16.7-0.8 46.7-1.6 16.7-0.9 35.6-2.5 20-0.8 21.1 0.1 42.3 1.5 23.3 0.4 85.6-0.7 111.2-0.1 0 0-94.5 0-41.1 0.3-33.4 0.6-63.4 1.9-33.3 0.8-35.6 0.4-71.2 0.3-22.2 0.3-15.6 0.4-14.4 0.8-13.4 1.1-41.1 3.7-14.5 0.9-16.6 0.7-30.1 0.8-41.1 0.7-36.7 0.3-47.8 0.1z" fill="rgb(150,190,240)" fill-opacity="0.5"/>
<path d="M821 670.3l47.8-0.1 36.7-0.3 41.1-0.7 30.1-0.8 16.6-0.7 14.5-0.9 41.1-3.7 13.4-1.1 14.4-0.8 15.6-0.4 22.2-0.3 71.2-0.3 35.6-0.4 33.3-0.8 63.4-1.9 33.4-0.6 41.1-0.3 94.5 0" fill="none" stroke="#555" stroke-width="1.5"/>
<path d="M823.9 670.1l13.7-0.8 13.7-1.1 13.6-1.8 9.1-1.6 18.2-4 31.9-7.9 27.3-5.9 9.1-2.7 4.6-1.7 4.5-2 4.6-2.6 4.5-3 4.6-3.5 4.6-4.1 4.5-4.5 4.6-5 13.6-15.5 4.6-4.7 4.5-4 4.6-3.2 4.5-2.1 4.6-0.9 4.5 0.4 4.6 1.8 4.5 2.9 4.6 4 4.6 4.8 4.5 5.6 13.7 17.9 4.5 5.7 4.6 5.2 4.5 4.7 4.6 4.1 4.5 3.5 4.6 2.9 4.5 2.3 4.6 1.8 4.5 1.3 4.6 1 4.5 0.6 4.6 0.4 4.6 0.2 9.1 0 9.1-0.5 9.1-0.7 9.1-1 13.6-1.7 18.2-3 13.7-2.8 13.7-3.4 22.7-6 9.1-2.1 9.1-1.7 4.6-0.6 9.1-0.6 9.1 0.2 4.6 0.4 9.1 1.5 4.5 0.9 9.1 2.4 22.8 6.6 13.6 3.5 13.7 2.7 13.7 1.8 13.6 1.1 18.2 0.7 22.8 0.3 45.5 0.1" fill="none" stroke="#444" stroke-width="0.8"/>
<path d="M823.9 669.1l4.6-0.2 4.6-0.3 4.5-0.3 4.6-0.3 4.5-0.4 4.6-0.4 4.5-0.6 4.6-0.6 4.5-0.6 4.6-0.8 4.5-0.8 4.6-0.9 4.5-1 4.6-1 4.5-1.1 4.6-1.1 4.5-1.1 4.6-1.2 4.6-1.1 4.5-1.2 4.6-1.1 4.5-1.1 4.6-1 4.5-1 4.6-0.9 4.5-1 4.6-1 4.5-1 4.6-1.3 4.5-1.4 4.6-1.7 4.5-2 4.6-2.6 4.5-3 4.6-3.5 4.6-4.1 4.5-4.5 4.6-5 4.5-5.1 4.6-5.3 4.5-5.1 4.6-4.7 4.5-4 4.6-3.2 4.5-2.1 4.6-0.9 4.5 0.4 4.6 1.8 4.5 2.9 4.6 4 4.6 4.8 4.5 5.6 4.6 5.9 4.5 6 4.6 6 4.5 5.7 4.6 5.2 4.5 4.7 4.6 4.1 4.5 3.5 4.6 2.9 4.5 2.3 4.6 1.8 4.5 1.3 4.6 1 4.5 0.6 4.6 0.4 4.6 0.2 4.5 0.1 4.6-0.1 4.5-0.2 4.6-0.3 4.5-0.3 4.6-0.4 4.5-0.5 4.6-0.5 4.5-0.5 4.6-0.6 4.5-0.6 4.6-0.7 4.5-0.7 4.6-0.8 4.5-0.8 4.6-0.9 4.6-0.9 4.5-1 4.6-1.1 4.5-1.1 4.6-1.2 4.5-1.2 4.6-1.2 4.5-1.2 4.6-1.2 4.5-1.2 4.6-1.1 4.5-1 4.6-1 4.5-0.7 4.6-0.6 4.5-0.4 4.6-0.2 4.6 0 4.5 0.2 4.6 0.4 4.5 0.7 4.6 0.8 4.5 0.9 4.6 1.2 4.5 1.2 4.6 1.3 4.5 1.3 4.6 1.3 4.5 1.4 4.6 1.3 4.5 1.2 4.6 1.2 4.5 1.1 4.6 1 4.6 0.9 4.5 0.8 4.6 0.7 4.5 0.6 4.6 0.5 4.5 0.5 4.6 0.3 4.5 0.3 4.6 0.3 4.5 0.2 4.6 0.1 4.5 0.1 4.6 0.1 4.5 0.1 4.6 0.1 4.5 0 4.6 0 4.6 0 4.5 0.1 4.6 0 4.5 0 4.6 0 4.5 0 4.6 0 4.5 0 4.6 0 4.5 0" fill="none" stroke="none" marker-start="url(#mb)" marker-mid="url(#mb)" marker-end="url(#mb)"/>
<line x1="822" y1="802.8" x2="1486" y2="802.8" stroke="#ffd8d8" stroke-width="1"/>
<path d="M821 800.8l64.5-0.3 22.2-0.4 15.6-0.5 10-0.6 8.9-1 7.8-1.5 6.6-2 5.6-2.3 5.6-3 5.5-3.9 4.5-3.7 5.5-5.4 5.6-6.3 5.5-7.1 15.6-20.7 4.5-5.4 3.3-3.5 4.4-4 4.5-3 2.2-1 2.2-0.8 3.4-0.5 3.3 0.2 2.2 0.5 2.3 0.9 4.4 2.5 4.5 3.5 3.3 3.1 4.4 4.8 14.5 17.3 6.7 7.5 6.6 6.6 6.7 5.4 3.3 2.2 3.4 2 6.6 3.1 3.4 1.2 4.4 1.2 4.5 1 4.4 0.7 8.9 0.9 11.1 0.5 15.6 0.1 24.5-0.1 54.4-0.9 73.4-2.5 33.4-0.8 43.3-0.4 99 0 0 0-96.7 0-41.2 0.3-33.3 0.7-63.4 2.3-32.2 0.8-36.7 0.5-72.3 0.4-21.1 0.3-14.5 0.5-14.4 0.9-14.5 1.3-40 4.2-14.5 1.1-15.5 0.8-31.2 0.9-43.3 0.9-35.6 0.4-45.6 0.1z" fill="#fa9898"/>
<path d="M821 800.8l43.4-0.1 34.4-0.4 40.1-0.7 32.2-0.9 16.7-0.8 15.5-1 14.5-1.4 33.4-3.5 21.1-1.6 23.3-0.8 57.8-0.7 13.4-0.5 11.1-0.7 8.9-0.9 7.8-1 7.8-1.3 6.6-1.4 7.8-1.9 7.8-2.2 27.8-9 10-2.9 6.7-1.5 5.5-1 5.6-0.6 5.6-0.3 5.5 0 5.6 0.4 5.5 0.7 5.6 1 10 2.3 24.5 6.8 12.2 3 13.3 2.6 13.4 1.7 15.5 1.2 18.9 0.7 24.5 0.2 46.7 0.1 0 0-96.7 0-41.2 0.3-33.3 0.7-63.4 2.3-32.2 0.8-36.7 0.5-72.3 0.4-21.1 0.3-14.5 0.5-14.4 0.9-14.5 1.3-40 4.2-14.5 1.1-15.5 0.8-31.2 0.9-43.3 0.9-35.6 0.4-45.6 0.1z" fill="#fcc8c8" fill-opacity="0.85"/>
<path d="M821 799.8l10-0.6 10-0.9 8.9-1 8.9-1.3 8.9-1.6 8.9-1.9 31.1-7.8 11.1-2.5 6.7-1.2 6.7-0.9 6.7-0.6 5.5-0.2 11.1 0.2 11.2 1.1 10 1.6 24.4 4.3 14.5 2 12.2 1 14.5 0.4 53.3-0.5 80.1-0.3 37.8-0.5 36.7-0.8 67.8-2.4 33.4-0.7 41.1-0.3 94.5 0 0 0-96.7 0-41.2 0.3-33.3 0.7-63.4 2.3-32.2 0.8-36.7 0.5-72.3 0.4-21.1 0.3-14.5 0.5-14.4 0.9-14.5 1.3-40 4.2-14.5 1.1-15.5 0.8-31.2 0.9-43.3 0.9-35.6 0.4-45.6 0.1z" fill="rgb(60,130,228)" fill-opacity="0.6"/>
<path d="M821 800.8l46.7-0.2 36.7-0.4 45.6-0.9 30-1 14.4-0.8 13.4-1 42.2-4.4 17.8-1.5 15.6-0.9 43.4-1.8 47.8-3.1 18.9-0.9 11.1-0.1 11.1 0.1 42.3 1.5 22.2 0.3 87.8-1.2 119-0.1 0 0-96.7 0-41.2 0.3-33.3 0.7-63.4 2.3-32.2 0.8-36.7 0.5-72.3 0.4-21.1 0.3-14.5 0.5-14.4 0.9-14.5 1.3-40 4.2-14.5 1.1-15.5 0.8-31.2 0.9-43.3 0.9-35.6 0.4-45.6 0.1z" fill="rgb(150,190,240)" fill-opacity="0.5"/>
<path d="M821 800.8l45.6-0.1 35.6-0.4 43.3-0.9 31.2-0.9 15.5-0.8 14.5-1.1 40-4.2 14.5-1.3 14.4-0.9 14.5-0.5 21.1-0.3 72.3-0.4 36.7-0.5 32.2-0.8 63.4-2.3 33.3-0.7 41.2-0.3 96.7 0" fill="none" stroke="#555" stroke-width="1.5"/>
<path d="M823.9 800.2l13.7-1 9.1-1 9.1-1.2 9.1-1.6 13.7-2.9 27.3-6.9 13.7-3.2 9.1-1.8 22.7-3.9 9.1-2.3 4.6-1.6 4.5-2 4.6-2.4 4.5-3 4.6-3.5 4.6-4 4.5-4.5 18.2-19.9 4.6-4.4 4.5-3.7 4.6-2.8 4.5-1.7 4.6-0.5 4.5 0.8 4.6 2 4.5 3.1 4.6 4 4.6 4.9 4.5 5.4 13.7 17 4.5 5.2 4.6 4.8 4.5 4.3 4.6 3.6 4.5 3.1 4.6 2.5 4.5 2 4.6 1.5 4.5 1.1 4.6 0.7 9.1 0.8 4.6 0 9.1-0.2 18.2-1.4 22.7-2.7 18.2-2.8 13.7-2.7 13.7-3.3 22.7-6 9.1-2.1 9.1-1.6 4.6-0.5 9.1-0.5 9.1 0.3 4.6 0.5 9.1 1.5 9.1 2.1 27.3 7.7 9.1 2.3 13.7 2.8 13.6 1.9 9.1 0.9 9.1 0.6 18.2 0.6 22.8 0.2 45.5 0.1" fill="none" stroke="#444" stroke-width="0.8"/>
<path d="M823.9 799.2l4.6-0.3 4.6-0.3 4.5-0.4 4.6-0.5 4.5-0.5 4.6-0.6 4.5-0.6 4.6-0.8 4.5-0.8 4.6-0.9 4.5-1 4.6-1 4.5-1.1 4.6-1.1 4.5-1.2 4.6-1.2 4.5-1.1 4.6-1.2 4.6-1.1 4.5-1.1 4.6-1 4.5-0.9 4.6-0.9 4.5-0.8 4.6-0.7 4.5-0.8 4.6-0.8 4.5-0.8 4.6-1.1 4.5-1.2 4.6-1.6 4.5-2 4.6-2.4 4.5-3 4.6-3.5 4.6-4 4.5-4.5 4.6-4.9 4.5-5 4.6-5.1 4.5-4.9 4.6-4.4 4.5-3.7 4.6-2.8 4.5-1.7 4.6-0.5 4.5 0.8 4.6 2 4.5 3.1 4.6 4 4.6 4.9 4.5 5.4 4.6 5.7 4.5 5.7 4.6 5.6 4.5 5.2 4.6 4.8 4.5 4.3 4.6 3.6 4.5 3.1 4.6 2.5 4.5 2 4.6 1.5 4.5 1.1 4.6 0.7 4.5 0.5 4.6 0.3 4.6 0 4.5 0 4.6-0.2 4.5-0.2 4.6-0.4 4.5-0.4 4.6-0.4 4.5-0.5 4.6-0.5 4.5-0.5 4.6-0.6 4.5-0.6 4.6-0.6 4.5-0.7 4.6-0.7 4.5-0.8 4.6-0.8 4.6-1 4.5-0.9 4.6-1 4.5-1.1 4.6-1.2 4.5-1.2 4.6-1.2 4.5-1.2 4.6-1.2 4.5-1.2 4.6-1.1 4.5-1 4.6-0.8 4.5-0.8 4.6-0.5 4.5-0.4 4.6-0.1 4.6 0 4.5 0.3 4.6 0.5 4.5 0.7 4.6 0.8 4.5 1 4.6 1.1 4.5 1.2 4.6 1.3 4.5 1.3 4.6 1.3 4.5 1.3 4.6 1.3 4.5 1.2 4.6 1.1 4.5 1 4.6 0.9 4.6 0.9 4.5 0.7 4.6 0.7 4.5 0.5 4.6 0.5 4.5 0.4 4.6 0.3 4.5 0.3 4.6 0.2 4.5 0.1 4.6 0.2 4.5 0.1 4.6 0.1 4.5 0 4.6 0.1 4.5 0 4.6 0 4.6 0.1 4.5 0 4.6 0 4.5 0 4.6 0 4.5 0 4.6 0 4.5 0 4.6 0 4.5 0" fill="none" stroke="none" marker-start="url(#mb)" marker-mid="url(#mb)" marker-end="url(#mb)"/>
<line x1="822" y1="931.7" x2="1486" y2="931.7" stroke="#ffd8d8" stroke-width="1"/>
<path d="M821 929.7l63.4-0.3 22.2-0.4 15.6-0.5 10-0.7 8.9-1 7.8-1.5 6.6-1.9 6.7-2.8 5.6-3.1 3.3-2.3 3.3-2.6 5.6-5 4.4-4.6 5.6-6.4 20-25.7 4.5-5 4.4-4.3 4.5-3.3 3.3-1.8 3.3-1.1 3.4-0.5 3.3 0.2 2.2 0.6 2.2 0.8 4.5 2.5 4.4 3.4 3.4 3.1 4.4 4.7 14.5 16.7 6.6 7.3 6.7 6.3 6.7 5.2 3.3 2.1 3.4 1.9 6.6 3 3.4 1.1 4.4 1.2 8.9 1.6 8.9 0.8 11.1 0.5 15.6 0.1 24.5-0.1 53.3-0.9 74.5-2.6 32.3-0.7 43.3-0.4 101.2 0 0 0-97.8 0-42.3 0.3-33.3 0.7-62.3 2.2-32.3 0.9-36.6 0.5-72.3 0.4-21.1 0.3-15.6 0.6-14.5 0.9-13.3 1.2-40 4.1-14.5 1.1-15.6 0.8-30 0.9-45.6 1-35.5 0.3-43.4 0.2z" fill="#fa9898"/>
<path d="M821 929.7l42.3-0.1 33.3-0.4 42.3-0.8 32.2-0.9 16.7-0.8 15.5-1.1 13.4-1.2 33.3-3.6 21.2-1.5 23.3-0.8 56.7-0.7 13.4-0.5 11.1-0.6 8.9-0.9 7.8-0.9 7.7-1.3 6.7-1.2 7.8-1.8 7.8-2.1 27.8-8.5 10-2.7 6.7-1.5 5.5-0.9 5.6-0.6 5.5-0.3 5.6 0 5.5 0.3 5.6 0.7 5.6 0.9 11.1 2.4 23.3 6.1 12.3 2.8 13.3 2.4 14.5 1.8 15.5 1 18.9 0.6 24.5 0.3 47.8 0 0 0-97.8 0-42.3 0.3-33.3 0.7-62.3 2.2-32.3 0.9-36.6 0.5-72.3 0.4-21.1 0.3-15.6 0.6-14.5 0.9-13.3 1.2-40 4.1-14.5 1.1-15.6 0.8-30 0.9-45.6 1-35.5 0.3-43.4 0.2z" fill="#fcc8c8" fill-opacity="0.85"/>
<path d="M821 928.5l10-0.8 8.9-0.9 8.9-1.1 7.8-1.3 7.8-1.5 8.9-2 30-7.8 12.2-2.8 6.7-1.2 5.5-0.8 6.7-0.6 5.6-0.3 5.5 0 5.6 0.2 11.1 1.2 10 1.6 26.7 5.1 13.3 1.9 12.3 1.1 14.4 0.5 52.3-0.7 77.8-0.3 44.5-0.5 35.6-0.9 65.6-2.3 33.3-0.7 41.2-0.3 97.8 0 0 0-97.8 0-42.3 0.3-33.3 0.7-62.3 2.2-32.3 0.9-36.6 0.5-72.3 0.4-21.1 0.3-15.6 0.6-14.5 0.9-13.3 1.2-40 4.1-14.5 1.1-15.6 0.8-30 0.9-45.6 1-35.5 0.3-43.4 0.2z" fill="rgb(60,130,228)" fill-opacity="0.6"/>
<path d="M821 929.7l45.6-0.2 36.7-0.4 47.8-1 28.9-1 13.3-0.7 13.4-1.1 41.1-4.3 18.9-1.6 14.5-0.8 42.2-1.8 46.7-3.1 18.9-0.8 11.1-0.2 11.2 0.1 42.2 1.5 22.2 0.4 89-1.3 122.3-0.1 0 0-97.8 0-42.3 0.3-33.3 0.7-62.3 2.2-32.3 0.9-36.6 0.5-72.3 0.4-21.1 0.3-15.6 0.6-14.5 0.9-13.3 1.2-40 4.1-14.5 1.1-15.6 0.8-30 0.9-45.6 1-35.5 0.3-43.4 0.2z" fill="rgb(150,190,240)" fill-opacity="0.5"/>
<path d="M821 929.7l43.4-0.2 35.5-0.3 45.6-1 30-0.9 15.6-0.8 14.5-1.1 40-4.1 13.3-1.2 14.5-0.9 15.6-0.6 21.1-0.3 72.3-0.4 36.6-0.5 32.3-0.9 62.3-2.2 33.3-0.7 42.3-0.3 97.8 0" fill="none" stroke="#555" stroke-width="1.5"/>
<path d="M823.9 928.8l9.2-0.7 9.1-1 9.1-1.3 9.1-1.6 13.6-3 31.9-8.3 9.1-2.1 13.7-2.6 22.7-3.5 4.6-0.9 4.5-1.2 4.6-1.5 4.5-1.9 4.6-2.5 4.5-2.9 4.6-3.5 4.6-3.9 4.5-4.4 13.7-14.5 4.5-4.5 4.6-4.1 4.5-3.3 4.6-2.4 4.5-1.3 4.6-0.2 4.5 1.1 4.6 2.3 4.5 3.3 4.6 4.2 4.6 4.8 18.2 21.7 4.5 4.9 4.6 4.5 4.5 4 4.6 3.3 4.5 2.8 4.6 2.2 4.5 1.8 4.6 1.3 4.5 0.9 4.6 0.7 4.5 0.3 4.6 0.2 9.1-0.1 18.2-1.3 22.8-2.4 18.2-2.6 13.7-2.4 13.6-2.9 27.3-6.6 9.1-1.8 9.1-1.4 4.6-0.4 9.1-0.4 9.1 0.5 4.6 0.5 9.1 1.6 9.1 2.1 22.7 6 13.7 3.2 13.7 2.5 13.6 1.7 13.7 1 18.2 0.7 22.7 0.2 50.1 0.1" fill="none" stroke="#444" stroke-width="0.8"/>
<path d="M823.9 927.8l4.6-0.4 4.6-0.3 4.5-0.5 4.6-0.5 4.5-0.6 4.6-0.7 4.5-0.8 4.6-0.8 4.5-0.9 4.6-1 4.5-1.1 4.6-1.1 4.5-1.2 4.6-1.2 4.5-1.2 4.6-1.2 4.5-1.2 4.6-1.2 4.6-1.1 4.5-1 4.6-1 4.5-0.8 4.6-0.8 4.5-0.7 4.6-0.7 4.5-0.6 4.6-0.7 4.5-0.8 4.6-0.9 4.5-1.2 4.6-1.5 4.5-1.9 4.6-2.5 4.5-2.9 4.6-3.5 4.6-3.9 4.5-4.4 4.6-4.8 4.5-4.8 4.6-4.9 4.5-4.5 4.6-4.1 4.5-3.3 4.6-2.4 4.5-1.3 4.6-0.2 4.5 1.1 4.6 2.3 4.5 3.3 4.6 4.2 4.6 4.8 4.5 5.3 4.6 5.6 4.5 5.5 4.6 5.3 4.5 4.9 4.6 4.5 4.5 4 4.6 3.3 4.5 2.8 4.6 2.2 4.5 1.8 4.6 1.3 4.5 0.9 4.6 0.7 4.5 0.3 4.6 0.2 4.6 0 4.5-0.1 4.6-0.2 4.5-0.3 4.6-0.4 4.5-0.4 4.6-0.4 4.5-0.5 4.6-0.5 4.5-0.5 4.6-0.5 4.5-0.6 4.6-0.6 4.5-0.7 4.6-0.7 4.5-0.7 4.6-0.8 4.6-0.9 4.5-0.9 4.6-0.9 4.5-1.1 4.6-1 4.5-1.2 4.6-1.1 4.5-1.1 4.6-1.1 4.5-1.1 4.6-1 4.5-0.8 4.6-0.8 4.5-0.6 4.6-0.4 4.5-0.3 4.6-0.1 4.6 0.2 4.5 0.3 4.6 0.5 4.5 0.7 4.6 0.9 4.5 1 4.6 1.1 4.5 1.1 4.6 1.2 4.5 1.3 4.6 1.2 4.5 1.2 4.6 1.1 4.5 1.1 4.6 1 4.5 0.9 4.6 0.9 4.6 0.7 4.5 0.6 4.6 0.6 4.5 0.5 4.6 0.4 4.5 0.3 4.6 0.3 4.5 0.2 4.6 0.2 4.5 0.1 4.6 0.2 4.5 0 4.6 0.1 4.5 0.1 4.6 0 4.5 0 4.6 0 4.6 0.1 4.5 0 4.6 0 4.5 0 4.6 0 4.5 0 4.6 0 4.5 0 4.6 0 4.5 0" fill="none" stroke="none" marker-start="url(#mb)" marker-mid="url(#mb)" marker-end="url(#mb)"/>
</g>
<line x1="1047" y1="86" x2="1031" y2="875" stroke="#ff0000" stroke-width="3.2" stroke-dasharray="16.3 15.5" stroke-dashoffset="-16"/>
<path d="M1047.4,56.5 L1053.1,78.5 L1041.7,78.5 Z" fill="#ff0000"/>
<line x1="1047.3" y1="76" x2="1047" y2="87" stroke="#ff0000" stroke-width="3.4"/>
<line x1="968.2" y1="148" x2="927.6" y2="905" stroke="#3355ff" stroke-width="3" stroke-dasharray="16.2 15.3" stroke-dashoffset="0"/>
<path d="M969.7,128.4 L974.4,150.4 L963.3,150.4 Z" fill="#3a55ff"/>
<text x="823.9" y="64.1" font-size="34.5" fill="#000">Ti 2</text>
<text x="882.6" y="64.1" font-size="34.5" fill="#000" font-style="italic">p</text>
<text x="997.7" y="64.1" font-size="32.5" fill="#ff6b6b">Ti</text>
<text x="1025.6" y="51" font-size="22" fill="#ff6b6b">4+</text>
<text x="1061" y="64.1" font-size="32.5" fill="#ff6b6b">2</text>
<text x="1077.7" y="64.1" font-size="32.5" fill="#ff6b6b" font-style="italic">p</text>
<text x="1097.9" y="73.4" font-size="23" fill="#ff6b6b">3/2</text>
<text x="830.4" y="119.2" font-size="33.7" fill="#5b9be8">Ti</text>
<text x="858.9" y="106.4" font-size="22" fill="#5b9be8">3+</text>
<text x="892.6" y="119.2" font-size="33.7" fill="#5b9be8">2</text>
<text x="909.7" y="119.2" font-size="33.7" fill="#5b9be8" font-style="italic">p</text>
<text x="930.5" y="127.3" font-size="23.5" fill="#5b9be8">3/2</text>
<text x="1274" y="64.9" font-size="39.7" fill="#e84042">Ni</text>
<text x="1311.8" y="75" font-size="25.7" fill="#e84042">4</text>
<text transform="translate(1326.3,64.9) scale(0.958,1.0)" font-size="39.7" fill="#e84042">Mo/TiO</text>
<text x="1454.8" y="75.5" font-size="25.7" fill="#e84042">2</text>
<text transform="translate(1098.3,118.6) scale(0.965,1.0)" font-size="30" fill="#000">458.7 eV</text>
<text transform="translate(827.1,187) scale(0.965,1.0)" font-size="30" fill="#000">457.2 eV</text>
<text transform="translate(1060.8,864.5) scale(0.965,1.0)" font-size="30" fill="#000">458.5 eV</text>
<text transform="translate(822.1,897.1) scale(0.965,1.0)" font-size="30" fill="#000">456.5 eV</text>
<text transform="translate(1409.2,133.8) scale(0.962,1.0)" font-size="27.2" fill="#ea3a40">1.2 V</text>
<text transform="translate(1410.9,254.7) scale(0.962,1.0)" font-size="27.2" fill="#ea3a40">1.0 V</text>
<text transform="translate(1409.4,380.4) scale(0.962,1.0)" font-size="27.2" fill="#ea3a40">0.8 V</text>
<text transform="translate(1410.3,509.5) scale(0.962,1.0)" font-size="27.2" fill="#ea3a40">0.6 V</text>
<text transform="translate(1409.5,639.5) scale(0.962,1.0)" font-size="27.2" fill="#ea3a40">0.4 V</text>
<text transform="translate(1408.5,766.8) scale(0.962,1.0)" font-size="27.2" fill="#ea3a40">0.2 V</text>
<text transform="translate(1409.3,895.6) scale(0.962,1.0)" font-size="27.2" fill="#ea3a40">OCP</text>
<rect x="819.6" y="27.3" width="668.7" height="908.2" fill="none" stroke="#000" stroke-width="4.4"/>
<line x1="828.5" y1="937.5" x2="828.5" y2="948.6" stroke="#000" stroke-width="4.3"/>
<line x1="874.0" y1="937.5" x2="874.0" y2="942.4" stroke="#000" stroke-width="4.3"/>
<line x1="919.6" y1="937.5" x2="919.6" y2="948.6" stroke="#000" stroke-width="4.3"/>
<line x1="965.1" y1="937.5" x2="965.1" y2="942.4" stroke="#000" stroke-width="4.3"/>
<line x1="1010.6" y1="937.5" x2="1010.6" y2="948.6" stroke="#000" stroke-width="4.3"/>
<line x1="1056.2" y1="937.5" x2="1056.2" y2="942.4" stroke="#000" stroke-width="4.3"/>
<line x1="1101.7" y1="937.5" x2="1101.7" y2="948.6" stroke="#000" stroke-width="4.3"/>
<line x1="1147.2" y1="937.5" x2="1147.2" y2="942.4" stroke="#000" stroke-width="4.3"/>
<line x1="1192.7" y1="937.5" x2="1192.7" y2="948.6" stroke="#000" stroke-width="4.3"/>
<line x1="1238.3" y1="937.5" x2="1238.3" y2="942.4" stroke="#000" stroke-width="4.3"/>
<line x1="1283.8" y1="937.5" x2="1283.8" y2="948.6" stroke="#000" stroke-width="4.3"/>
<line x1="1329.3" y1="937.5" x2="1329.3" y2="942.4" stroke="#000" stroke-width="4.3"/>
<line x1="1374.9" y1="937.5" x2="1374.9" y2="948.6" stroke="#000" stroke-width="4.3"/>
<line x1="1420.4" y1="937.5" x2="1420.4" y2="942.4" stroke="#000" stroke-width="4.3"/>
<line x1="1465.9" y1="937.5" x2="1465.9" y2="948.6" stroke="#000" stroke-width="4.3"/>
<text x="801.6" y="984.1" font-size="32" fill="#000">454</text>
<text x="893.2" y="984.1" font-size="32" fill="#000">456</text>
<text x="984.2" y="984.1" font-size="32" fill="#000">458</text>
<text x="1075.4" y="984.1" font-size="32" fill="#000">460</text>
<text x="1166.4" y="984.1" font-size="32" fill="#000">462</text>
<text x="1256.9" y="984.1" font-size="32" fill="#000">464</text>
<text x="1348.5" y="984.1" font-size="32" fill="#000">466</text>
<text x="1439.5" y="984.1" font-size="32" fill="#000">468</text>
<text x="1002.5" y="1026.3" font-size="32" fill="#000">Binding energy (eV)</text>
<text transform="translate(794.9,541.5) rotate(-90) scale(1.0,1.0)" font-size="32" fill="#000">Intensity</text>
<text x="765.8" y="76.7" font-size="64" fill="#000">b</text>
<defs><clipPath id="clipc"><rect x="57.5" y="1068.5" width="664" height="903.9"/></clipPath></defs>
<g clip-path="url(#clipc)">
<path d="M56 1080.4l3 10 1.5 3.1 1.5 0.9 1.5 8 4.5 11 3 10.3 1.5-2.6 3 11.3 1.5-2.9 1.5 6 1.5 1.6 3 8.3 1.5-2.1 6 15.2 1.5 7.2 1.5-0.8 1.5 7 1.5-1.2 4.5 9.2 1.5 0.9 1.5 6.1 4.5 8 1.5-1.4 1.5 2.1 3-0.4 1.5 5.5 1.5-0.2 1.5 3.4 1.5 7.3 1.5-0.1 3 7.8 3 1.2 1.5-4.9 1.5 3.8 3-7.8 1.5 0.5 1.5 4.3 1.5-0.6 1.5 13.9 1.5-19 1.5 0.3 3-2.2 3 12.3 1.5 1 1.5-1.8 1.5 5.5 1.5-1.3 3 7.1 1.5-0.4 1.5 1.5 1.5 5.4 3 0.7 1.5 2.8 1.5-1.5 1.5 0.5 1.5-2.9 1.5 2.6 1.5-3.7 1.5 0 1.5-2.9 1.5 6 1.5-1.6 1.5 0 1.5-4 1.5 4.1 1.5 0.6 1.5 3.7 1.5-4.2 3 8 1.5-3.2 1.5 3.4 1.5-0.8 4.5 8.9 3-2.3 1.5 0.7 3 6.2 1.5-2.3 1.5 4.2 1.5-1.8 1.5 0.3 1.5 1.5 1.5-3.2 1.5 0 1.5 2.3 4.5-1.7 1.5 0.5 3 5.1 1.5-6.5 1.5 5.7 1.5-0.7 1.5 0.7 3-4.3 1.5 1.1 3-2.4 1.5 4.1 1.5 1.6 1.5-0.4 1.5 8.1 1.5-9.6 1.5 5.8 1.5-1.4 3 2.8 1.5-1.2 1.5 7.1 1.5-1.5 1.5 0 1.5-6.7 3 6.6 1.5-1.7 4.5 5.1 3-2.9 1.5 2 3-5.3 1.5 0.3 1.5 4.3 1.5-2 3-1.8 6 17.6 1.5-3.1 3 7.1 1.5-5 1.5 10.4 1.5-5.1 1.5 1.1 1.5 6 1.5 0.7 1.5 2.7 6-0.9 1.5 3 1.5-1.8 4.5 7.3 1.5-1.3 1.5 1 1.5-1.8 1.5-0.2 1.5 3.4 3-2.2 1.5 5.2 3-1.5 1.5 1 1.5-0.7 1.5-4.9 1.5 7.4 1.5-7.5 1.5 2.5 1.5-1.9 1.5 3.8 1.5 1.3 1.5-2.3 1.5-6.1 1.5 7.6 1.5-0.7 1.5-4.3 1.5 7.3 3-4.3 1.5 2.4 1.5-1.5 1.5 1.8 3-2.9 1.5-0.1 1.5 4.4 3-3.2 3 0.6 1.5 6.6 1.5-3.2 1.5-0.4 1.5 2.6 1.5-4.6 1.5-1.3 3 3.5 3-0.5 1.5 5.2 1.5-5.2 1.5-0.9 1.5 4.1 1.5-1.6 1.5 0.1 1.5 2.1 1.5-0.2 1.5-3.2 1.5 0.4 1.5-1.1 1.5 0.8 1.5 3.6 3-2.7 1.5-0.2 1.5 5.5 1.5-2.9 1.5 1.1 3-1.1 1.5 1.6 1.5 0.1 1.5 2.5 1.5-1.7 1.5-4.2 1.5 2.2 3 0.2 1.5-2.8 1.5-0.9 1.5 3.7 1.5 1.1 1.5-2.6 1.5 6.4 3-4.5 1.5 4.5 1.5-7.5 3 0.5 1.5 4.5 1.5-3.6 1.5 2.6 3-3.2 1.5 0.8 1.5-2.4 1.5 3.6 1.5-3.7 1.5 0.1 1.5 3.2 1.5-1.6 1.5 4.9 1.5-1.3 1.5-6.7 1.5 3.1 1.5 0.5 1.5 4.4 1.5-5.6 1.5-0.9 1.5 0.9 1.5-0.1 1.5-1.3 1.5 2.2 1.5-1.7 1.5-0.3 1.5 5 3-6.4 1.5-0.9 1.5 1.8 1.5-2.2 1.5-0.1 1.5 4.7 3-4.5 1.5 0.8 1.5-1.9 1.5 1.2 1.5 3.2 1.5-4.4 3-3.8 1.5-6.4 1.5 8.2 1.5 0.1 1.5-4.6 1.5 2 3 1.8 3-2.2 1.5 2.7 3-8.6 3 4.5 1.5 0.5 1.5-3.6 1.5 0.4 1.5 3.7 4.5 1.4 3-3 1.5 4.6 3 1.6 1.5-2.5 1.5-0.8 3 0.6 1.5-4.1 1.5 3.6 3 2.4 1.5 0 4.5-4.1 1.5 3.1 1.5-1.4 1.5 0.3 1.5 2.9 1.5-0.4 1.5-2.8 1.5 2.5 4.5-10.2 3-14.4 4.5-51.6 1.5-8.5 1.5 5.2 4.5 38.5 4.5 18.1 1.5 0.8 3 6.9 1.5 1.6 4.5-3.5 1.5 6.1 1.5-1.5 1.5 1.7 1.5-3.2 4.5-18.1 4.5-45.3 6 70.9 4.5 25.2 1.5 1.7 1.5 7 1.5 0 3 6.9 1.5 1.4 3-5 1.5 9.3 1.5-2.6 1.5 4 1.5-3.3 4.5 4.5 1.5 4.2 1.5-7.1 3 5.4 1.5 1.1 1.5-0.4 3 3.1 1.5-2.9 1.5 0.1 3 3.7 1.5-3.3 1.5 6.9 1.5-3.9 1.5-0.7 1.5 0.8 1.5-1.3 1.5 0.8 3 4.5 1.5 0.9 1.5-2.2 1.5 0.4 1.5-5.5 4.5 9.9 1.5 1.4 3-7.4 1.5 2.1 1.5 4.8 1.5 1.8" fill="none" stroke="#9b9b9b" stroke-width="4.8" stroke-linejoin="round" stroke-linecap="round"/>
<path d="M56 1150.6l1.5-0.9 1.5 10.2 1.5 5.1 1.5 2.1 3 13 4.5 8.5 1.5 0.5 1.5 6.3 1.5-1.9 1.5 5.4 1.5 2.8 1.5 0.4 3 13.7 1.5-1.6 1.5 0.5 3 10.1 3 2.5 1.5-0.5 1.5 6.3 4.5 9.2 1.5-0.8 1.5-4 3 3.9 1.5 4.2 1.5-0.3 1.5 5.5 1.5-0.6 3 3.7 1.5 0.2 1.5-1.3 1.5 10.1 6 4.7 4.5 7.7 4.5-2.5 3-8.7 4.5-5.6 1.5 4.2 4.5 1 3 8.4 1.5-0.9 1.5 10.6 1.5-7.9 6 12 3 9.8 1.5-2 1.5 6 1.5-2.3 1.5-0.4 1.5-3.7 1.5 0.2 1.5 7.2 1.5-2.2 1.5 4.2 1.5-0.5 3 4 1.5-3.2 1.5-6.6 3 11.8 1.5 3.3 1.5-4.1 3-2 1.5 4.3 1.5-10.7 1.5 8.4 1.5 4 3 0.9 1.5 2.9 1.5-4.3 1.5 0.3 3 4.3 1.5 0.4 1.5 5.1 1.5-4.5 1.5 13.6 1.5-12.8 1.5 2.1 1.5-0.9 1.5 1.1 1.5 12.8 1.5-11 1.5 3.9 1.5-4.8 1.5 0.5 1.5 2.7 1.5-7.8 1.5 1.1 1.5 4 1.5 1.2 1.5-0.3 3-5.4 1.5 4.4 1.5-1 1.5-3.8 3 6.3 4.5-9.9 1.5 5.1 3 3.8 1.5-3.5 1.5 1.4 1.5 4.7 3 2.3 1.5-5.3 1.5 1.9 1.5 5.2 1.5-2.6 1.5 3.3 3 0.2 1.5 5.5 1.5-1.9 1.5-0.4 3 3.8 1.5-2.7 1.5 2.4 3 0.7 1.5 8.6 1.5 3.3 1.5 0.1 1.5-5 1.5 5.7 1.5 2.3 1.5-1.2 1.5 3.6 1.5-2.8 6 5.7 1.5-0.5 4.5 6.9 1.5 6.9 1.5-5 3 7.1 1.5-5.8 3 2.2 1.5-0.9 1.5 5.6 1.5-2.3 1.5 3.4 1.5-0.5 1.5 6 1.5-4.7 1.5-1.9 1.5 2.4 1.5-4.6 1.5 1.5 1.5 4.1 1.5-6.1 1.5 5 3-1.4 1.5 0.5 1.5 4 1.5-6.1 1.5 5.9 1.5-0.2 1.5-1.9 3 2.8 3-4.7 1.5 3.8 1.5-1.8 1.5 1 4.5 6.3 1.5-3 1.5-0.5 1.5 1.6 1.5-1.4 1.5-4.2 1.5 2 1.5-0.4 1.5 4.7 1.5 1.9 3-4.7 1.5 3.6 1.5-2.8 1.5 2.2 1.5-2.7 1.5-0.5 1.5 0.7 1.5 3.4 1.5-0.4 1.5 2.2 1.5-2.9 1.5 3.7 1.5-1.2 1.5 4.3 1.5 0 1.5-2.6 4.5 2 1.5-1.1 1.5 2.6 3-6.6 1.5 4.6 1.5 0.1 1.5 2.1 3-1.4 3-0.2 3-3.3 3 2.3 1.5-4.3 1.5 3.5 1.5-0.5 1.5 1.7 1.5-1.1 1.5 1.6 1.5 0 1.5 2.8 1.5-3.5 3-0.5 1.5-4.3 1.5 1.7 1.5 5.5 3-3.2 1.5 1.6 1.5-3 3-1.7 1.5-2.9 1.5 5.3 1.5-2.1 4.5-2.7 1.5-3.4 3 10.2 4.5-8.3 1.5 1.8 1.5 0.7 1.5-1 1.5 1.2 1.5-3.5 1.5 3.6 3-4.1 4.5 2.3 1.5-1.7 1.5 1.1 1.5 2.8 1.5-9.4 1.5-1.8 1.5 4 1.5-2 1.5 1.2 1.5-9.9 1.5 9.7 1.5 2.7 1.5-1.2 1.5-5.4 4.5 5.3 1.5-6.5 1.5-0.4 1.5 3.8 3-5 1.5 3.6 1.5-5.7 3 5.4 1.5-2.9 1.5 2.1 1.5-3.6 1.5 4.1 1.5 0.4 1.5 2.3 1.5-3.6 1.5-0.3 3 4.1 1.5-3.1 1.5 2.1 1.5 5.3 1.5-1.6 1.5-0.3 1.5-2 1.5 2.7 3-4.9 1.5-0.6 1.5 8.1 3-5.4 1.5 2.8 3 0.9 1.5-5.8 1.5 5.2 1.5-1.2 1.5-4.1 3 0.6 3-3.8 3-12.8 1.5-9.6 4.5-68.4 1.5-10 1.5 6.8 6 66.7 6 22.4 1.5-2.3 1.5 8.2 3 6.7 3-0.8 1.5 4.4 1.5 0.7 3-4.1 1.5 0.4 1.5-9 4.5-14 6 47.6 3 9.6 3 2.8 1.5 4.3 4.5-1.6 1.5 5.9 1.5-3 1.5 0.1 3 5.5 1.5-4.2 1.5 5.3 1.5 0.2 1.5-3.3 1.5 0.5 3 8.3 1.5-3.7 1.5 2.8 1.5-0.3 1.5-5.1 3 6.3 3-3.9 1.5 0.1 1.5-0.9 3 5.8 1.5-1.5 1.5 2.3 1.5-4.7 3 6.3 1.5-7.3 1.5 5.2 1.5-1.7 3 1.2 1.5-1.6 1.5 5.3 3 1.4 3-4.8 1.5 2.9 1.5-4 1.5 1.3 1.5 6.5" fill="none" stroke="#787878" stroke-width="4.8" stroke-linejoin="round" stroke-linecap="round"/>
<path d="M56 1214.1l1.5 4.8 1.5 1.4 1.5-0.8 3 12.3 1.5 2.5 1.5 5.4 1.5-2.3 1.5 11.8 1.5 2.7 1.5-4.7 4.5 9.5 1.5 5 1.5-1.1 1.5 1.1 3 9.2 1.5-2 1.5 2.5 1.5-1.4 3 12.3 4.5-5.6 1.5 4.7 1.5-1.2 3 12.6 1.5 0.3 1.5-1.6 1.5 1.3 1.5-1.1 1.5 3.2 1.5 1.7 1.5 0.2 1.5-3.8 1.5 8.1 1.5 3 1.5-0.2 3 10.8 1.5-0.7 1.5 8.4 3-4.9 1.5 1.9 1.5-2.6 6-4.7 1.5 0.8 1.5-1.3 1.5 0.2 1.5 6.2 1.5-0.4 3 7.2 4.5-0.9 1.5 6 3 4.3 1.5-0.8 1.5 0.5 1.5-1.4 1.5 7.3 1.5-1.9 3 8.6 4.5 3.9 1.5-3.7 3 9 1.5 0 1.5-5 1.5 5.5 1.5-0.3 1.5-3.2 1.5-0.4 3 7.9 3-4.7 3 5.4 1.5-2.2 1.5-0.6 1.5 1.7 1.5-4.7 1.5 5.1 1.5-2.9 3 4.7 3-2 1.5 6.6 3-7 1.5 1.2 3 5 3-2.6 1.5 2.6 1.5-1.3 1.5 5.4 1.5-0.7 1.5 0.3 1.5-6.6 3 0.5 1.5-2.3 3 4.5 1.5-4.4 1.5 1.4 1.5 3.8 1.5-2.5 1.5-0.3 3-3.3 3 1.9 1.5-1.5 1.5 1.4 1.5-0.5 1.5 1.7 1.5 4.4 1.5-1.8 3-0.3 3 6.6 1.5-5.8 1.5 3.8 1.5-0.4 1.5-4.4 3 12.5 1.5-4.9 1.5 1.5 1.5 3.8 1.5-1.8 3 3.6 1.5-2 1.5 5 1.5-2 4.5 11.4 1.5-3.9 1.5 3.1 1.5 1.1 1.5-3.1 3 7.7 1.5 8.1 1.5-1 1.5-2.6 1.5 0.5 3 3.1 3 6.2 1.5-4.4 1.5 2.1 1.5-4.3 3 6.9 1.5-3.7 1.5 5.8 1.5 2.8 1.5-4.5 1.5 0.3 1.5-7.5 1.5 8.7 1.5 1 1.5-0.7 1.5 3.7 3-2.3 1.5-4.7 4.5 7.8 1.5-2.5 1.5 2.9 1.5 0.8 1.5-2.8 1.5 2.7 3-3.8 3 6.4 3-2.4 1.5 2 1.5 0 1.5-1.7 1.5-5 1.5-1.8 1.5 3.1 1.5 8 1.5-1.8 1.5-4.7 1.5 4.4 1.5-3.8 3 5.6 1.5-1.7 1.5 2.1 1.5-0.1 1.5-5.3 3 5.3 3-3.1 1.5 6.4 3-3.9 1.5-0.4 3 5.7 1.5-2.9 1.5 2.2 3-0.8 3 0.8 1.5-2.2 1.5-0.6 1.5 5.2 1.5 2.2 3-5.4 1.5 1.5 3-3.4 3 2.3 1.5 2.2 1.5-2.9 1.5 4.5 1.5-1.6 1.5 5.6 3-5.5 4.5 0.2 3 3.7 1.5-2.2 1.5 1.7 3-4.5 1.5 1.7 3 0.8 1.5-2.4 1.5 2.5 1.5-3.3 3 2.6 1.5 5.8 1.5-9.6 1.5-1.1 3 2.2 1.5 5.6 1.5-6.8 1.5-0.8 1.5 7 1.5-7.8 3 4 1.5-0.9 1.5-13.2 1.5 16.8 1.5 1.3 1.5-4.9 4.5-3.6 3 1.1 1.5-1.5 1.5 1.1 3-3.7 1.5 1.3 4.5-0.9 1.5 1.4 1.5-3.7 1.5 3.8 1.5-3.1 1.5 0.7 1.5 2.8 1.5-1.4 1.5-4 3 3.8 1.5-5.2 1.5 0.7 1.5 3.3 1.5-5 1.5 5.1 1.5-6.4 4.5 1.3 1.5 2.5 4.5-1.9 1.5-3.9 3 6.3 1.5-3.7 1.5 5.4 3-3.8 1.5 4.7 1.5 0.8 1.5-2.5 4.5 1.5 1.5-2.6 3 9.8 1.5-2.7 3 3.7 3-2.9 3 0.1 1.5 1.8 1.5-1 3 4.5 3-7.3 1.5 2.5 1.5-1.4 1.5 7.4 1.5-13.2 3-16.2 4.5-70.1 1.5-9.7 1.5 7.6 3 41.6 3 28 10.5 34.5 3 1.9 1.5 4.4 1.5-2.4 1.5 2.5 1.5 0.7 1.5-1.4 3 3.6 1.5-1 1.5 0.3 1.5 9 1.5-5.3 3 2.3 3 4.9 1.5 0.7 1.5-2 3 4.4 1.5-0.8 1.5 3.3 1.5-0.7 1.5 9.6 1.5-11 1.5 6.1 3-5 3 2 1.5 2.4 1.5-4.6 3 9.2 1.5 0.8 1.5-4.3 1.5 2.7 1.5 1 3-0.5 1.5 3.3 1.5-1.4 3 3 1.5-3.4 3 7.9 1.5-5.5 1.5 4.5 4.5-1.9 1.5 0.6 1.5-0.7 1.5 13.8 1.5-11.9 1.5-0.3 1.5 1.1 1.5 3 1.5-1.3 1.5 0.3 1.5 4.7 1.5-3.3 1.5 6.9 1.5-9 1.5-0.2 1.5 3.4" fill="none" stroke="#5a5a5a" stroke-width="4.8" stroke-linejoin="round" stroke-linecap="round"/>
<path d="M56 1306.2l1.5-3.4 1.5 7 1.5 0.4 1.5 7.4 1.5-2.5 1.5 4.6 1.5 10.2 1.5-7.6 1.5 7.9 1.5-2.7 1.5 9.2 1.5-3.8 1.5 4.1 1.5-1 1.5 6.8 1.5-2.4 1.5 0.8 1.5 3.3 3 0.4 4.5 12.7 1.5-0.6 1.5 1.4 1.5-3.8 4.5 14.5 1.5 1 1.5-2.1 1.5 1.5 3-0.8 6 7.2 1.5-0.7 1.5 3 1.5-3.7 1.5 2.8 1.5 0.9 1.5-3.2 3 9.2 1.5-0.2 1.5-4 1.5 0.3 1.5-1.2 1.5-5.6 1.5 2.3 1.5-4 3 3.3 1.5-2.3 1.5-4.9 1.5 7 1.5-1.2 1.5 1.5 1.5-2.5 1.5 2.4 1.5 6.9 1.5-2.7 1.5 0.9 1.5 11.4 3-7.5 1.5 3.9 1.5 1.7 1.5 9.1 3-1.4 4.5 3.6 3 8 1.5-3.1 1.5 0.7 3 6.4 3-4.1 1.5 3 1.5 7 1.5-12.2 1.5 5.8 1.5 3.2 1.5-0.1 1.5 5 3-3.5 1.5 1 1.5-1.1 1.5 1.4 1.5 3.9 1.5-1.4 1.5-3.7 1.5 2 1.5 4.9 1.5-2.5 3 6.3 1.5-2 1.5 0.1 1.5 0.7 1.5 3.4 1.5-3.3 1.5-1 3 7.7 1.5-5.8 1.5 6.4 1.5-1 1.5-5.2 1.5 1.9 3 0.3 1.5 2.8 1.5 0.4 1.5-1.6 1.5 0.2 1.5-3.9 1.5 2.1 1.5-4 1.5 0.8 1.5-1.3 1.5 5 1.5-2.8 1.5 1.8 1.5-3.9 3 5.1 1.5-1.2 3 0.5 4.5-1 1.5 4.4 1.5-1.4 3 1.1 1.5-3.1 1.5 5.7 1.5-4.3 1.5 7.5 1.5-2.6 1.5 2.2 1.5-3.8 3 7.5 1.5 0.9 1.5 5.1 1.5-0.8 1.5-4.6 1.5 12.1 1.5 3.1 3-1.6 3 6.7 1.5-3.2 1.5 1.1 1.5 2.5 1.5 6.2 1.5 0.6 1.5-1.5 3 5.1 3 0.4 3 4.3 1.5 0.2 1.5 1.7 3-0.6 1.5 3 1.5 0 1.5-4.7 1.5 4.6 3-1.7 3 10.3 1.5-6 1.5-1.7 1.5 4.9 3-4.6 1.5 4.8 1.5-4.9 1.5 4.2 1.5-3.6 1.5-1.3 3-1.2 1.5 0.5 1.5 2.8 1.5-1.2 1.5-3.2 1.5 3.3 1.5-2.9 1.5 3.8 1.5-1.7 1.5 0.6 1.5 2.4 1.5-6 1.5 9.3 1.5 2.6 1.5-4.6 3-4.9 1.5 3.4 1.5-2.5 3-1.4 1.5 4.9 1.5-1.2 1.5-5.1 1.5 2.3 1.5-1.6 1.5 4.6 1.5-3.1 3 3.8 3-3.7 1.5 1.7 1.5-0.7 1.5 6.5 1.5-0.8 1.5-5.9 1.5 1.9 1.5 8 3-4.8 1.5 2.6 1.5-0.7 1.5 0.7 1.5-2 1.5 4.1 3-6.5 1.5 2.3 1.5-9.2 1.5 10.7 3-0.7 1.5-2 1.5 2.1 1.5-0.9 1.5 4.2 1.5-5.2 1.5 0.8 3-1.2 1.5 3.2 3 0.3 1.5 2.5 1.5-4.2 1.5 1.7 3-0.6 3-7.2 1.5 8.2 1.5-3.5 1.5 5 1.5 1 1.5-4.5 1.5 1.5 1.5 0.3 1.5 3.2 3 2.8 1.5-4.6 1.5 0.1 1.5-5 3 3.3 1.5-2.6 1.5 3.6 1.5-5.6 4.5 2.1 1.5-6.9 1.5 3.7 1.5 1.5 3-0.3 4.5-9.5 3 4.8 1.5-2.2 3 4.9 1.5-2.7 1.5 2.6 1.5-0.5 1.5-1.9 1.5 1.2 1.5-0.3 1.5-4.7 1.5 5 1.5-6.8 1.5 3.3 1.5-1.8 1.5-0.2 1.5 1.3 1.5-1.4 1.5 10.6 1.5-10.7 1.5-2 1.5 1.7 1.5-2.5 1.5 2.6 1.5-3.5 1.5 2.4 1.5-1.1 1.5 3.4 1.5-4.9 1.5 3.5 3-6.7 1.5 12.8 1.5-7 1.5 0.5 1.5-4.8 3 3.3 1.5-2.6 1.5 4.7 1.5-6.4 1.5 1.2 1.5-4.2 1.5-0.3 4.5 2.6 1.5 0 1.5-5.1 1.5 4.5 3-3.3 3 6.2 1.5-0.5 1.5-3.8 1.5 0.9 3-0.4 3-15.4 3-30.8 3-17.8 1.5 4.2 4.5 36.7 6 21.7 1.5-2.1 1.5 4 1.5-0.3 1.5 4.8 1.5-1.6 3 6.3 1.5 0.3 1.5 1.7 1.5-0.9 1.5 1.5 1.5 6.1 3 0.9 3 5.9 4.5 12.9 1.5-2 3 8.3 1.5 6.8 1.5-0.4 1.5 4 1.5-1.6 1.5 0.8 1.5 8.2 1.5-5.7 1.5 6.1 1.5-1 1.5 0.4 1.5-1.5 1.5 0 1.5 6.3 1.5 1.5 1.5-1.6 1.5 0.8 1.5-1.5 1.5 1.6 4.5-4.8 1.5 0.1 1.5 4 1.5 0.2 1.5-2.8 1.5 0.1 4.5 7.7 1.5 0.5 1.5-1.7 1.5 1 1.5-3.2 1.5 5.7 3-4.9 1.5-0.4 1.5 0 3 4.9 1.5-2.7 1.5 3.3 1.5-1.7 1.5-4.1 3 1.7 1.5 1.9 1.5 5.5 1.5 1.4 1.5-4.8" fill="none" stroke="#444444" stroke-width="4.8" stroke-linejoin="round" stroke-linecap="round"/>
<path d="M56 1361.5l3 2 4.5 12.6 1.5 7.6 1.5-1.8 1.5 9.9 1.5-4.1 1.5 6.1 1.5 0.2 3 8.9 1.5 2.3 1.5-0.4 1.5 8.2 1.5 0.1 3 5.3 1.5 5 1.5-2 1.5 1.5 3 9.5 1.5-0.5 3 7.1 1.5-3.9 1.5 7.5 1.5 1.6 1.5-2 3 3.4 1.5 4.2 1.5-1.1 3 7 1.5-5 1.5 5.4 3 1 1.5 3.1 1.5-0.4 1.5-2 3 4.8 3-2.8 1.5 7.8 3-4.1 3-10.3 3 4.1 1.5-2.7 1.5-0.8 1.5 2.5 1.5-6.6 1.5 7.9 3 0.4 1.5 6.7 3 1 3 3.5 3 10.5 1.5-2.1 1.5 2.2 1.5-2.8 1.5 6.1 1.5-0.8 1.5 7.5 1.5-1.8 1.5 2.9 1.5 0.6 1.5 3.1 3-1.7 1.5-4.7 6 2.4 1.5 4 1.5-1.5 1.5-0.3 1.5-2 3-0.4 1.5 5.3 1.5-1.2 1.5 1.2 3-3.5 1.5 1.2 1.5-3.6 1.5 6.1 1.5-0.5 3 0.5 1.5 1.1 1.5-1.5 1.5 0.3 1.5-1.3 4.5 4.2 3-5.8 1.5-0.8 1.5 3.5 1.5-0.2 3 5.2 1.5-4.8 1.5 4 1.5-0.4 1.5-5.1 1.5 0.7 1.5 2.2 1.5-3.5 1.5-0.6 1.5 3.6 1.5-2.9 1.5-0.2 1.5 2.8 1.5-0.8 1.5 0.6 1.5 3 1.5-0.7 1.5-6 1.5 5.3 1.5-1 1.5 1 3 4.5 1.5-7.8 1.5 4.1 1.5 0.9 1.5-3.3 1.5 4.6 1.5 0 1.5-3 1.5-0.3 1.5 0.9 3 6.4 3-0.5 3 6.9 1.5-1.9 1.5 0.6 1.5 7.3 1.5-4.4 3 6.2 3 0.2 1.5 4.2 1.5-0.8 1.5-6.9 1.5 9.3 1.5 4.3 1.5-4.1 1.5-0.1 3 5.4 3 3 1.5-0.3 1.5 2.8 1.5-3.1 1.5 0.7 1.5 2.7 3-0.1 3 1.3 4.5 6 3-4.3 4.5-1 3 8.3 1.5-3.6 1.5-0.2 1.5-4.8 1.5 4.2 1.5-0.3 1.5 1.3 1.5-1.7 1.5 3.6 1.5-3.7 1.5 1.3 1.5 5.8 1.5-2.8 3-2.6 1.5 0.7 1.5 4.5 1.5-7.4 1.5 4.6 3 4.6 1.5-1.1 3-13 1.5 5.9 3 2.3 3-2 1.5 11.5 1.5-7.6 1.5-1.2 3-0.3 1.5 0.5 1.5 7.6 1.5-5.3 1.5-0.5 1.5 4.7 1.5-3.1 1.5 1 1.5-2.3 1.5 1 1.5-2.1 3 9.8 1.5-3.3 1.5 0.2 1.5 2.2 1.5-0.2 1.5-4.6 1.5 0 3 4.8 1.5-5 6 4 1.5-1.4 1.5 3 1.5-3.2 1.5 5.5 1.5-3.3 4.5-1 1.5-3.2 1.5-0.3 1.5 12.9 1.5-9.4 1.5-3.1 1.5-1.5 1.5 6 1.5-0.6 3 2.3 1.5-0.4 1.5-8.1 1.5-2.2 1.5 14 1.5-9.9 1.5 6.1 4.5-2.8 1.5-3.2 1.5 2.9 1.5 0.3 1.5 1.6 1.5 3 1.5-5.2 3 4.2 1.5-5.8 1.5-1.3 1.5-6.8 1.5 5.2 1.5-0.9 1.5 5.2 1.5 2.2 3-5.7 1.5-0.4 1.5 1.5 1.5-2.2 1.5 0.7 1.5-1.2 1.5 3.6 3-2.5 1.5-3.2 1.5 1.1 3 4.9 1.5-4.4 1.5 5.4 1.5-6.4 1.5-1 1.5 1.1 1.5-2.2 1.5 1.1 1.5-0.1 1.5-1.5 1.5 0.3 4.5 5.6 3-9.4 1.5 1.3 1.5-2 1.5 3.4 3-3.1 1.5 3.1 3 0.7 1.5 3.8 1.5-6 1.5 6.5 1.5 1.4 3-0.9 1.5 0.6 3-2 1.5 4.7 3 1.6 1.5 5.6 1.5-4.7 1.5-0.1 1.5 2.3 3-10.1 3 4.8 1.5-3.5 1.5 3.4 1.5-2.9 1.5 1 1.5-0.3 1.5-2.5 1.5 1.3 1.5-0.4 3-10.3 1.5-9.7 4.5-49.2 1.5-7.2 1.5 6.1 3 31.4 3 19.3 4.5 11.6 3 14.4 1.5-3 4.5 8 1.5 0 1.5 4.9 1.5 1.5 1.5-2.9 3 1.6 3 7.7 1.5-5.1 1.5 1.2 1.5 0.1 1.5 4.5 1.5 0.9 1.5-1.8 1.5 2.5 1.5 6.7 1.5 0.2 1.5-6 4.5 3.7 1.5-2.5 3 6.2 1.5 0.2 1.5-4.9 1.5 6.5 1.5-19.3 1.5 13.2 1.5 6.1 1.5 0.2 1.5-1.7 1.5 2.2 1.5 0 1.5-1 1.5-3 3 3.3 1.5 3.3 1.5 0.9 1.5-3.8 1.5-1.4 1.5 0.2 1.5 3.7 1.5-2.1 1.5 5.7 1.5-3.5 1.5-0.3 1.5 1.2 3-3.2 3 3.3 1.5-1.8 3 0.8 1.5-3.8 3 4.1 1.5-1.6 1.5 3.7 1.5-0.1 1.5-5.8 3 6.1 1.5-1.4" fill="none" stroke="#2f2f2f" stroke-width="4.8" stroke-linejoin="round" stroke-linecap="round"/>
<path d="M56 1401.2l3 11.4 1.5 0.3 1.5 4.1 6 21.7 3 5.6 1.5-3.3 1.5 9.8 3 2 1.5 3.9 4.5 2.1 1.5 4.6 1.5 0.5 1.5 3.1 1.5 5.1 1.5-0.3 1.5-1.4 3 8 1.5-0.7 3 2.2 1.5-2.9 1.5 9 3 0.8 1.5 1.5 1.5 1.9 1.5 4.9 3-3.8 3 10.1 1.5 1.5 1.5-0.7 1.5 0.3 1.5 11.1 1.5-2 1.5 3.3 4.5-2.7 1.5-2.2 1.5-0.4 3 1 1.5 4.3 1.5-5.9 1.5 1.6 4.5-6.1 1.5 3.2 1.5-0.4 1.5 4.1 1.5 1.8 1.5-1.2 1.5 6.6 1.5-0.3 3 4.6 1.5 0.8 3 8.5 1.5-0.8 3 8.2 3-0.9 1.5 4.2 4.5-3.9 1.5 3.6 1.5-1 1.5 2 1.5-4.5 1.5 2.7 1.5 6.9 1.5 1.4 1.5-2.9 1.5-1.1 1.5-5 1.5 5.6 3-5.3 1.5 2.5 1.5 0.9 1.5 5.4 1.5-0.9 3 3.5 1.5-3.1 1.5 0.5 1.5-3.2 1.5 4.4 1.5-1.8 1.5 4.3 3-4.1 1.5 0.6 1.5 2.8 1.5-0.4 1.5-11.8 1.5 8.6 1.5 1.5 1.5-0.5 3 3.5 1.5-3.1 1.5 0.8 1.5 2.4 1.5-1.4 1.5 0 1.5 3.7 3-7.3 1.5 4.1 1.5-4.1 1.5 0.9 1.5-3.9 1.5 5.3 1.5-5 3 9 4.5-7.3 3 4.2 1.5-6.7 3 8.7 1.5-2.6 1.5 3.5 1.5-0.7 1.5-3.2 3 6.1 1.5-3.1 3 3 1.5-1.3 3 4.7 1.5-0.1 1.5 1.9 3 7.4 1.5-2.6 1.5 0.7 1.5 9.2 3-8.7 1.5 3.5 1.5-0.5 1.5 5.9 1.5-2.6 3 8.6 1.5-3.5 4.5 7 3 2.8 1.5-3.9 1.5 2.1 1.5-2 3 3.4 1.5 4.6 3-4.3 3-0.8 3 1.2 1.5 1.7 1.5-0.7 3 4.1 1.5-4.5 3 0.4 1.5 8 1.5 0 4.5-5.9 1.5 4.3 1.5-1.2 1.5 0.6 1.5-1.3 1.5-6.6 4.5 8.8 1.5-2.8 1.5 2.5 3-2.2 1.5 3.6 1.5-3.5 3 7.3 1.5 0.2 1.5-2.4 1.5 1.5 1.5-3.8 3 2.7 3 0.6 1.5-3.5 1.5 4.4 1.5-3.7 1.5 2.9 1.5 6.5 3-6.8 1.5 1.4 1.5-2 3 0 3 2.7 3 5.8 1.5-3.5 3-3.9 1.5-0.5 3 6.8 1.5-2.6 1.5 2.7 1.5-4.8 4.5 0.3 1.5 1.3 1.5-0.8 1.5-5 3 2.7 1.5 3.1 1.5-1.5 1.5 2.1 1.5 0.1 1.5-1.7 1.5-4.2 1.5 8.4 3-5 1.5 1.6 1.5-1.5 1.5 0.9 1.5-1 1.5 12.8 1.5-11.4 1.5 0.7 1.5-1.9 3 5 3-5.3 1.5 2.1 1.5-0.4 1.5 2.1 6-2.9 1.5 0.9 1.5 2.5 1.5-2.6 1.5 0.5 1.5-2.4 1.5-0.4 1.5-1.9 1.5 1.7 1.5-1.5 1.5-3.6 1.5 2.2 1.5-0.9 1.5 2.4 1.5 0.4 1.5 5.8 1.5-4.9 1.5-2.1 4.5-0.1 1.5 1.7 1.5-2 3 3 1.5-3.3 1.5 1 1.5 3.6 3-4.9 1.5-8 1.5 7.5 1.5-1.3 1.5 3.1 1.5-6.9 4.5 6.8 1.5-0.6 1.5 4.6 1.5-6.7 1.5 4.7 4.5-5.9 1.5 2.6 1.5-4 1.5 1.4 1.5-2 1.5 6.4 1.5-0.8 3 8.1 1.5-4.2 3-0.8 1.5 3.7 1.5-1.6 1.5 3 1.5 0.8 3-0.6 4.5 1.3 1.5 1.2 1.5-2.5 1.5 0.8 3 4.6 3-4.7 1.5 0 1.5-3.3 1.5 1.8 3-1.5 3-8 1.5-9.3 4.5-51.9 1.5-7.2 1.5 5.9 4.5 49.7 3 16.3 4.5 13.3 1.5 1.2 3 8.3 1.5 1.2 1.5-0.8 3 7.6 1.5-2.3 1.5 4.1 3-3 1.5-0.5 1.5 0.5 1.5 4.6 1.5-3.4 1.5 4.6 1.5 0.7 1.5-3.2 3 4.6 1.5 3.9 3-3.6 3 3.6 1.5-4.5 1.5 0.2 3 6.7 1.5-6.4 1.5 5.5 1.5-1.3 1.5 0.5 1.5-0.5 1.5-2.3 1.5 0.2 1.5 5.5 1.5-6.8 1.5 2.7 1.5 6.1 1.5-5.9 1.5 1.3 3-3.3 1.5 2.7 3-2.3 1.5 2.5 1.5-1.8 1.5 0.8 1.5-4.3 1.5 7.5 4.5-3.9 4.5-1.4 1.5 4.6 1.5-4.2 1.5 3.3 1.5 0.2 1.5-2.6 1.5-0.4 1.5-2.4 1.5 2.1 1.5-0.2 1.5 2.9 1.5-3.2 1.5 0.1 1.5 2.7" fill="none" stroke="#1c1c1c" stroke-width="4.8" stroke-linejoin="round" stroke-linecap="round"/>
<path d="M56 1422.1l1.5 0.6 4.5 14.5 1.5-0.3 1.5 9.4 6 9.7 7.5 28.5 1.5-4.1 3 2.3 3 8.4 1.5 2.8 1.5 0.2 1.5 6.5 1.5-1 1.5 3.2 1.5-0.2 4.5 8.7 1.5-1.9 1.5 2.5 1.5 10.6 1.5-3.5 1.5 1.4 1.5-2.1 1.5 5.6 4.5 8.1 4.5 12.2 1.5-0.2 3 12.3 1.5 0.9 3-4.6 4.5 2.6 1.5-0.1 3-6.5 1.5 4.7 3-5.3 1.5-0.2 1.5 2.4 1.5-1.9 1.5 1.4 3 7.6 1.5-3.1 1.5 6.4 1.5-3.5 4.5 14 1.5-3 1.5 8.2 1.5 3.4 1.5-0.8 3 5 1.5-0.6 1.5 10.3 3-7.4 1.5 3.7 1.5 0 1.5-1.6 3 1.9 1.5-3.4 1.5-0.9 1.5 5.4 3-4.7 1.5 3.1 1.5-8.2 1.5-1.6 1.5 7.5 3-0.8 1.5-2 1.5-0.5 3 1 1.5 2.8 1.5 0.7 1.5-0.6 1.5 0.8 1.5-6.4 1.5 2.4 1.5-0.8 1.5 5.6 1.5-3.6 1.5 1.3 1.5-0.9 1.5 8.8 1.5-11.5 1.5 3.3 1.5 0.7 1.5-2.1 1.5 4.3 1.5-3 1.5 1.2 1.5-0.6 1.5 0.6 1.5-4.5 1.5 6.1 3-0.4 1.5 1.1 1.5-4.4 1.5-1.9 1.5 1.5 1.5-0.7 4.5 6.8 1.5-6.1 1.5 0.5 3 5.3 3-1.4 1.5 2.5 1.5 0.4 1.5-1.4 1.5 4.2 1.5-4.6 1.5 3.3 4.5 4.8 1.5-2.2 1.5 1.7 1.5-2.8 1.5 9.2 1.5-3.2 1.5 3.7 1.5 0.4 1.5-0.7 1.5 4.1 1.5-1.3 3 6.1 1.5 5.2 1.5-4.7 1.5 3.9 4.5 1.5 1.5 4.6 1.5-2.7 1.5 3.5 1.5-0.6 1.5 2.8 1.5 0.8 1.5-4.2 3 4.9 1.5 1 1.5-2.1 1.5 4.6 1.5 2 1.5-1.6 1.5 0.4 1.5-1.8 1.5 5.6 3 5.4 1.5-4.8 1.5 2.9 1.5-4.3 1.5 1.8 1.5-0.5 1.5-3.2 3 4.2 1.5-2.3 4.5 5.8 1.5 0 1.5-7 1.5 3.3 1.5 1.2 1.5-4.4 1.5 6.2 1.5 2.1 1.5-6.1 1.5-2.3 4.5 13 1.5-5 3-3.3 1.5 3.1 1.5 0.8 1.5-1.3 1.5 2.3 3-4.5 3 5.7 1.5-0.2 1.5-5.7 1.5 4.4 1.5 0.9 3-2.9 3 2.6 1.5 7 1.5-2.9 1.5-0.8 3 5.3 1.5-2.1 1.5 2.4 1.5 0.3 1.5-1.4 1.5 4.6 1.5-1.5 1.5 2.3 1.5 0.8 1.5-3.8 1.5-0.9 1.5 1.4 1.5 6.2 1.5-4.1 1.5-1 1.5 3.7 1.5-3.9 1.5 4.6 1.5-4.9 1.5 1.5 1.5-0.2 3 2.1 1.5-0.9 1.5-4.5 1.5 0.1 3 4.3 1.5-2.4 1.5 6.4 1.5-10 1.5 5.1 1.5-0.4 1.5-2.8 1.5 1.8 1.5-5.7 1.5 5.1 1.5-0.5 1.5 2.5 1.5-5 1.5 2.7 1.5 0.6 1.5-1.1 1.5-6.6 1.5 2.7 1.5 5.9 1.5-0.4 1.5 2 1.5 0.2 3-3.4 1.5-3.7 1.5 6.6 3-1 1.5 1.4 1.5-3.7 1.5-0.3 1.5 1.8 1.5-8 1.5 8.5 1.5 1.2 1.5-5.7 1.5 1.2 1.5 3.9 1.5-3.3 1.5 2.8 7.5-3.3 3 2.1 1.5-5.7 1.5 7.2 1.5 1.6 1.5-7.9 1.5 12.4 1.5-9.3 1.5 0.8 3-4.4 1.5 3.4 3-0.7 1.5-3.2 3 3.8 1.5-5.1 1.5 3 1.5-3.4 3 8.5 1.5-7.6 3 4.1 1.5-2.5 1.5 4.4 3-0.9 1.5 3.4 1.5-0.1 1.5 5.8 3-3.6 1.5 0.3 1.5-2.4 3 1.8 1.5 3.7 1.5-3.6 1.5 1.1 1.5 3.1 3-1.2 1.5 2.5 3-2.7 3 1.9 1.5-3 3 3.4 1.5 0.5 3-4.7 3-11.9 4.5-45 1.5-6.7 1.5 5.8 4.5 43.6 3 14 6 18.6 1.5-0.3 1.5 7 4.5 1 3 5.2 1.5-2.4 1.5-0.8 1.5 8.8 3-1.7 1.5 1.6 1.5-4.1 3 0.1 1.5 3.6 1.5 7.5 3-7.2 1.5 4.5 3 0.9 1.5-4.2 1.5 1.1 1.5-1.6 3 5 1.5-1.9 1.5 0.6 1.5 2.2 3-3.9 1.5 3.4 1.5-4.2 1.5 6.2 1.5-4.1 1.5 0.5 1.5-0.8 1.5 6.2 1.5 0.8 1.5-2.2 1.5 0.6 1.5 2.2 3-6.5 3 1.3 1.5-5.2 1.5 6 3 2.9 1.5-0.4 1.5 2.8 1.5-3.7 1.5 6.3 3-4.9 6 0.2 1.5 2.8 1.5-2.1 3 3.7 1.5-5.7 1.5 2.1 1.5-2.4 1.5 1.4" fill="none" stroke="#3b3b3b" stroke-width="4.8" stroke-linejoin="round" stroke-linecap="round"/>
<path d="M56 1537.3l1.5-3.1 3 16.4 1.5-2.3 4.5 18 1.5-0.3 1.5 3.4 1.5 8.8 1.5 2.9 3-1.9 3 12.5 1.5 3.2 1.5-0.7 1.5 8.5 1.5 1.7 1.5 0.3 1.5-0.8 1.5 7.6 1.5 1.3 1.5 5 1.5 0.7 1.5 2.4 1.5 4.5 1.5 0.6 1.5 9.4 1.5-7.8 1.5-0.4 1.5 3.9 1.5 1.7 1.5-2.4 3 9.8 3-4.7 1.5 3.5 1.5 1.2 1.5 4.5 3 4.1 4.5 19.6 1.5-5.9 1.5-1.6 3 2.9 3-11.8 1.5 3.1 4.5-3.5 1.5 1.6 1.5 7.7 1.5-2.8 3-1.7 6 17.8 1.5 8.3 1.5 3.7 1.5 0.9 1.5-1.6 1.5 5.7 1.5 0.6 6 16 1.5-4.8 1.5 7.2 1.5-1.6 1.5 0.7 1.5-1.2 1.5 5.2 1.5-2.8 1.5 1 1.5-3.1 1.5 3.6 3-4.1 1.5 1 3-0.8 1.5 4.7 4.5-6.6 1.5 5.4 1.5-1.9 1.5 0.7 1.5-2.3 1.5 5.4 1.5-0.5 1.5-3.7 1.5-0.7 4.5 1.4 1.5-2.9 4.5 6.6 4.5-4 1.5 2.7 3 2.1 1.5 4.2 1.5-7.8 1.5-0.9 1.5 3 1.5-3.3 1.5 0.9 1.5-1.5 1.5-3.9 1.5 2.4 4.5-2.7 1.5-2.3 3 1.7 1.5 2.9 1.5-2.6 3 3.2 1.5-7.3 1.5 5.4 4.5-4.4 1.5 4 4.5-5 1.5 13.9 3-13.2 4.5 4.7 1.5-1.1 1.5 5.9 1.5-2.9 3 0.5 1.5 1.5 1.5 5.9 1.5 0.6 1.5-0.5 1.5 1.6 1.5 6.3 1.5 2.4 4.5-0.5 1.5 4.7 1.5 1.9 1.5-5.6 3 9.1 1.5-3.8 3 8.1 4.5-8.3 4.5 10.8 1.5-5.3 1.5 7 1.5-4 4.5-2.5 3 6.5 1.5-7.5 1.5 1.4 1.5 0.1 4.5 7.8 1.5-5.7 1.5 4.1 1.5-2.9 1.5 1.6 1.5-0.8 1.5 1.3 1.5-2.8 1.5 3.9 1.5-0.7 1.5-5.2 3 3.6 1.5-3.1 1.5-0.3 3 4 1.5 0.3 1.5-2.7 1.5 2.3 1.5-4.2 1.5 8.4 1.5-4.2 1.5 3.2 1.5-3.7 1.5-0.1 1.5 2 1.5-0.5 1.5-4.1 3 3.6 4.5 0.7 1.5 1.1 1.5 2.7 4.5-0.3 3 8.7 1.5-9.8 1.5 5.8 1.5-1.2 1.5 2.3 6 3.8 1.5 7.8 1.5-8.7 1.5-0.6 1.5 1 1.5 4.9 1.5-2.5 1.5 6.1 1.5-2.9 1.5-15.1 1.5 8.5 1.5 3.6 3 4.2 3-5.8 4.5-2.7 1.5 3.2 1.5-4 4.5-5.8 3 3.9 1.5-3.8 1.5-0.2 1.5-2.3 3 0.2 3 6.8 4.5-8.3 1.5 2.8 1.5-4.9 1.5-1.3 1.5 4.8 1.5-4.9 1.5 4.2 1.5-2 1.5 0.8 1.5-5.4 1.5 4.1 1.5 0.2 1.5-0.5 1.5-4.8 1.5 0.9 1.5-2 1.5 6 1.5-3.2 1.5-0.7 1.5 1.9 1.5-3.3 1.5 0.4 1.5-15 1.5 14.8 1.5-6.1 1.5 6.2 3-5.3 1.5 4.5 1.5 1.5 1.5-7 4.5 0 1.5-5.2 1.5 1.9 1.5-1.7 1.5 1.2 1.5-3.1 4.5-1.2 1.5 0.9 1.5-0.6 1.5-3.6 6 5.4 1.5-3.6 3 3.8 3-3.6 3-0.2 1.5 6.5 3-2.9 1.5 1.4 1.5 4.4 3 1.5 1.5 0.4 1.5-2.6 1.5 0.6 1.5 2.7 1.5-0.7 1.5 1.8 1.5-0.6 1.5 0.8 1.5 2.4 1.5-3.3 1.5 0.5 1.5 4.1 1.5-5.6 1.5 2.8 3-1.2 1.5 3.2 3-7.7 1.5 3.8 1.5-2.2 3-20.3 4.5-59.5 1.5-8.9 1.5 7 4.5 54.1 3 17.5 1.5 5.5 1.5 1.3 1.5 4.4 3 13.6 1.5 2.1 1.5-0.7 3 4.9 1.5 0.3 1.5 1.7 1.5 3.6 1.5-2 3 0.2 1.5 5.5 3-2.9 3 3.2 1.5-2.7 1.5 3.7 1.5-4.7 1.5-0.3 1.5 1.2 1.5-0.9 1.5 4.4 1.5-0.8 1.5 1.4 1.5-4 1.5 0.9 1.5 2.7 1.5-2.3 1.5 2.3 1.5-0.1 1.5-3.3 1.5 3.4 1.5-4.6 1.5 2.5 1.5-5.2 1.5 0.3 1.5-4.1 1.5 0.8 1.5 2.4 3-0.3 1.5 4 3-10.2 3 3.1 1.5-3.9 1.5-0.9 1.5 5.3 3-7.7 3 4.9 4.5-0.8 1.5-2.1 3 1.7 1.5-1.1 1.5 2.3 1.5-4.1 3 2.7 1.5-0.2 6-4.4" fill="none" stroke="#222222" stroke-width="4.8" stroke-linejoin="round" stroke-linecap="round"/>
<path d="M56 1559.8l1.5-2.6 1.5 10.6 1.5 1.1 3 18 1.5-0.3 4.5 24.6 1.5-2.2 1.5 4.8 1.5 0.1 3 12.4 1.5-0.4 1.5-4.9 3 4.9 3 8.1 1.5 11.5 1.5 1.5 1.5 8.2 1.5-0.6 6 15 1.5 2 1.5-0.1 1.5 1 3 9.5 1.5 0.8 1.5-1.7 1.5 5.7 3-2.9 3 11.3 3-0.4 1.5-1.4 1.5 1.8 1.5-5.8 4.5 16 1.5-4.1 3-2.4 1.5 6.3 3 2.2 1.5-2 1.5 5.5 1.5-4.2 1.5 0.6 3 6 3 11.3 1.5-2.2 1.5 4.7 1.5 0.7 1.5-1.3 1.5-0.1 1.5 5 1.5 0 6 11.9 1.5-4.6 1.5 3.7 1.5 10.2 3-3.3 1.5 0.6 1.5-4.4 1.5 0.7 1.5 4.3 1.5-5.5 1.5 4.9 1.5-4.6 1.5 7.5 3-2.5 1.5 1.3 1.5-0.3 1.5-2.9 1.5-0.9 3 4.8 1.5-2.8 3 7.2 1.5-4 1.5-0.9 1.5-2.2 1.5 6.8 1.5-2.7 3-2 3 8.8 1.5-4.2 3-3 1.5 3.4 1.5 0.6 1.5-2.6 1.5-0.1 1.5 1.7 1.5 0 1.5 4.7 1.5 1.5 1.5-6 1.5-1.1 1.5 2.5 1.5 0.4 3-1.1 1.5 1.9 1.5-1.1 3-0.1 1.5-6.7 1.5 5.6 1.5 0.7 6-6.3 1.5 3.8 1.5-1.6 1.5 6.5 3-2.9 1.5 2.6 3-2.7 1.5 3.7 1.5-2.3 1.5-0.6 4.5 1.5 1.5-1.8 1.5 1.3 1.5 3 3 2.3 1.5-7.4 1.5 8.6 1.5 1.4 3 6.7 1.5-0.5 4.5 6.6 4.5 1 1.5 2.2 3 11 1.5-6.2 1.5-1.7 3 4.5 1.5-4.5 3 9.6 3-5.9 1.5 1 1.5-2.5 1.5 3.6 6 1.9 1.5 2.7 3-2.6 1.5 3 1.5-6.2 3 10.2 3-3 1.5-3.4 1.5 2.5 1.5 5.2 1.5-4.7 1.5-0.3 3 4.5 1.5-1.6 1.5 1 1.5-17.7 1.5 17.4 1.5-3 1.5 0.8 1.5-4.7 1.5 4.3 1.5-0.8 1.5 0.9 3-4.8 3 5.6 3-3.1 1.5 0.8 1.5 3.9 3-5.6 1.5 5.8 1.5-2.1 1.5 0.2 1.5-4 1.5 5.6 1.5-0.1 1.5 1.6 1.5-0.1 1.5 1.7 4.5-5.5 1.5 6.7 1.5-0.2 1.5 4.7 1.5-1.1 1.5-5.5 1.5 3.2 3 0.6 1.5-4.4 3 1.9 1.5 3.6 3-5.2 1.5-0.2 1.5 1.5 1.5-2.6 1.5 0.8 3 5.1 3-2.6 1.5-2.7 1.5-0.2 1.5-1.5 1.5 4.9 3-0.9 1.5 6.1 1.5-4.7 1.5 2.4 1.5-2.3 1.5 0.1 1.5-3.4 1.5 2.8 1.5 1.1 1.5-5.9 1.5 6.9 1.5-4.4 3 1.1 1.5 3.3 1.5-0.9 1.5-3 6-0.7 1.5 0.8 1.5 2.8 1.5-5.6 1.5-0.4 1.5 3.7 4.5-6 1.5 2.9 1.5-1.6 1.5-0.2 1.5 5.6 1.5-2.8 1.5 3.2 3-5.5 1.5 4.1 1.5-2.9 1.5 0.6 1.5-5.4 1.5-0.9 1.5 1.6 1.5-0.6 1.5 3.5 1.5-1.4 1.5-4.2 1.5 1.1 1.5-6.1 1.5 4 1.5 0.5 1.5-3.8 1.5-0.6 1.5 2.3 1.5-0.8 1.5 3.4 1.5-3.9 1.5 0.9 1.5 2.8 1.5-1 3-5.6 3 2.6 4.5-2.8 1.5 0.7 1.5 5.1 3-3.9 3 3.8 1.5-3.6 1.5 0.1 3 3.3 3 1.3 1.5 7 1.5-3.3 3 2.5 1.5-0.7 3 3.6 1.5-3.8 1.5 3.2 1.5 0.2 3-8.5 3 10.7 1.5-6.5 1.5 0.8 1.5 2.5 1.5-2.9 1.5-0.9 3-9.5 3-27.1 3-39.3 1.5-7.9 1.5 7.4 3 37 3 24.3 3 14.5 6 18.6 1.5 2.5 3 12.3 1.5-9.4 1.5 0.3 1.5 2.9 1.5 6 3-7.6 1.5 3.7 3 3.2 1.5 4.7 1.5-4 3-1.2 1.5-1.9 1.5 2.8 1.5-0.2 1.5 3.5 1.5-5.9 1.5 5.3 1.5-4.1 1.5 1.9 1.5-1.7 1.5 4.2 3-2.7 1.5 2.8 1.5-3.2 3-2.9 1.5 2.8 1.5-0.1 1.5-2.4 3 3.1 1.5-2 1.5 4.9 1.5-5.7 1.5 0.7 1.5 2.2 1.5 4.9 4.5-10.6 1.5 1.9 1.5-4.6 1.5 9 1.5-3.2 1.5-1 3 3 1.5-4.9 3 4.2 1.5-0.1 1.5 4.9 4.5-6 1.5 3.4 1.5-5.6 3 4.8 3-4.2 1.5 2 1.5-1" fill="none" stroke="#141414" stroke-width="4.8" stroke-linejoin="round" stroke-linecap="round"/>
<path d="M56 1498.3l1.5 4.1 3 15.2 3 22.8 7.5 36.2 1.5 3.3 1.5 6.8 3 6.9 3 14.3 3 8.4 1.5 6.9 4.5 11.3 1.5 7.9 1.5 0.9 4.5 16.2 1.5-0.2 1.5 7.1 4.5 10.5 3 10.9 1.5 1.1 1.5-0.9 1.5 1 3-5.8 4.5 4.4 1.5 6.1 1.5 18.3 1.5 8.6 3 6 3 3.4 1.5 5.3 1.5 1.7 1.5-2.7 3 2.1 3-2 1.5 1.2 1.5 5 6 8 1.5 0.6 1.5-1 1.5 2.3 1.5 8.8 1.5 0.5 1.5-0.9 4.5 13.8 4.5 4.5 1.5-0.6 1.5 4.2 1.5 0.2 1.5 1.5 1.5-2.7 1.5 4.3 1.5-0.9 1.5 2.4 1.5-4.2 1.5 4.3 1.5-0.5 1.5 1.6 3-2.8 1.5 3.5 1.5-4.5 1.5 7.7 1.5-6.8 1.5-2.2 1.5-0.3 1.5 5.2 3-2.7 3-0.3 1.5 4.5 6 0.5 1.5-1.3 6 5.3 1.5-2.3 1.5 0.8 3-2.3 1.5 2.5 1.5-1.7 1.5 0.3 1.5 4.1 1.5 1.4 1.5-4.1 3 5.8 1.5-2.8 1.5 6.4 1.5-5.4 1.5 0.1 1.5-1.3 1.5 0.8 1.5-6.6 4.5 9.1 1.5-4.5 1.5 1.9 1.5-0.8 1.5 3.3 1.5-2.6 3 6.8 1.5-2.4 1.5 2.4 1.5-0.2 1.5 1.4 1.5-4.3 1.5-0.5 1.5 4.7 1.5 2.1 1.5-1.6 1.5 0.2 1.5-2.2 1.5 1.6 1.5-1.3 1.5 3.8 1.5 1.3 1.5 6.3 1.5-0.4 1.5 6.4 1.5 0.6 1.5-5 1.5 8.2 1.5-0.8 1.5 1.4 3-2.2 3 6.1 1.5-0.3 3 8.1 1.5-1.8 3 6.8 1.5-3 1.5 4.9 1.5-2.5 1.5 6.4 3-1.5 3 6.7 1.5-6 1.5 0.5 1.5 5.7 1.5 0.7 1.5-1.8 1.5 2.3 1.5-1 1.5 1.7 1.5-0.8 3 1 1.5-1.1 3 3 1.5-0.7 1.5-2.5 3 9.1 1.5-2.5 1.5 0.9 3-6.5 1.5 2.2 1.5-0.8 1.5 2.4 1.5-3.6 1.5 3.7 1.5-0.8 1.5 1.8 1.5-0.6 1.5 1.6 1.5-5.4 4.5 8.5 1.5-3 1.5-0.9 3 3 3-3.1 1.5 1.1 1.5 0 4.5 6.8 3-3.2 1.5 2.2 1.5-0.5 4.5 4.4 1.5 0.2 3 5.3 3 2.9 1.5-4.4 1.5-0.5 3 3.5 1.5-1.2 1.5 0.6 1.5-2.2 3 6.2 1.5-5.4 3 2.6 1.5 4.4 1.5-4.7 1.5 3.7 1.5 1.4 1.5 0.2 4.5-5.6 1.5 2 1.5 0.2 1.5-4.6 1.5 4.7 1.5-5 1.5 7.4 1.5 3.5 1.5-4.1 3 1.1 1.5-2.2 1.5-0.2 1.5-4.2 3 2.5 1.5-2.2 1.5 5.8 1.5 0.1 3-2.5 1.5-5.4 1.5 7 1.5-0.4 1.5 4.1 1.5-2.6 1.5-6.6 1.5 0.6 1.5 6.6 1.5-3.3 1.5 1 1.5 3.9 1.5 8.9 1.5-11.1 3-2.6 1.5 1 1.5-5 1.5 5.3 1.5-0.8 1.5 2.6 1.5-7.4 1.5 5.4 3-1.3 1.5 2.9 1.5-5.8 1.5-1.2 1.5 1.7 1.5 3.8 1.5-0.3 1.5-4.8 3 11.1 1.5-9.8 1.5-1 3 3 1.5-2.7 1.5 3 1.5 0 1.5-0.7 1.5-5 1.5 3.3 1.5-0.2 1.5 1.2 1.5-7.5 1.5 9.3 1.5 0.2 1.5-5.4 1.5 3.2 1.5-3.6 1.5 0.3 1.5 6.1 1.5 1.9 1.5-1.8 1.5 3.3 1.5-2.8 1.5 4.4 1.5-0.5 1.5 3.2 1.5 0.8 1.5-1.2 1.5 0.9 4.5 11 1.5-2.9 1.5 1.6 1.5 0.2 1.5 4.5 1.5-6.2 3 5.1 3-2.5 3 3.3 1.5-1.8 1.5-0.1 1.5-1.8 1.5-0.5 3-20.6 4.5-59.3 1.5-8.4 1.5 6.1 6 60.2 7.5 25.5 1.5 2.4 1.5 0.5 1.5 4.2 1.5-0.6 1.5 3 3 0.8 3 12.4 3-1.2 1.5 2 1.5 5.4 1.5-11.8 1.5 10.7 1.5 4.1 4.5 3.8 1.5-2.2 3 5 1.5 0.5 1.5 2.2 1.5-3.6 3 0.3 1.5 4.2 1.5-0.7 1.5 0.9 1.5-2.3 3 3.2 1.5 0.6 1.5-1.5 1.5 1.6 1.5-0.4 1.5 3.7 1.5-4.4 1.5 1.9 3-5.3 4.5 13.2 1.5-3.4 3-3.4 1.5 5.3 3-0.2 3 1 1.5 5.8 1.5-6.9 1.5 3.2 3 0.1 1.5 1.3 3-2.1 1.5 3.4 1.5-0.7 4.5 0.6 3 1.9 1.5 4 1.5-0.9" fill="none" stroke="#000000" stroke-width="4.8" stroke-linejoin="round" stroke-linecap="round"/>
<rect x="124.9" y="1174.4" width="47.8" height="626.8" fill="rgb(134,181,236)" fill-opacity="0.24"/>
<rect x="228.9" y="1228.8" width="47.2" height="547.8" fill="rgb(252,150,50)" fill-opacity="0.5"/>
<rect x="276.1" y="1228.3" width="46.2" height="622" fill="rgb(134,181,236)" fill-opacity="0.42"/>
<rect x="575.8" y="1204.2" width="48" height="704.1" fill="rgb(134,181,236)" fill-opacity="0.42"/>
<rect x="623.8" y="1230.6" width="29" height="193.2" fill="rgb(255,100,105)" fill-opacity="0.48"/>
</g>
<text x="121.5" y="1161.9" font-size="33.8" fill="#428be6">310</text>
<text x="214.7" y="1212.5" font-size="33.8" fill="#f79632">460</text>
<text x="275.4" y="1213.7" font-size="33.8" fill="#428be6">483</text>
<text x="564.7" y="1192.3" font-size="33.8" fill="#428be6">893</text>
<text x="637.4" y="1219.1" font-size="33.8" fill="#ff5a5a">939</text>
<text x="603.4" y="1102" font-size="39.3" fill="#404040">Ni</text>
<text x="641.8" y="1112.1" font-size="25.4" fill="#404040">4</text>
<text x="656.3" y="1102" font-size="39.3" fill="#404040">Mo</text>
<text transform="translate(659.7,1345.7) scale(0.955,1.0)" font-size="26" fill="#000">1.2 V</text>
<text transform="translate(656.4,1410) scale(0.955,1.0)" font-size="26" fill="#000">1.0 V</text>
<text transform="translate(656.3,1464.4) scale(0.955,1.0)" font-size="26" fill="#000">0.8 V</text>
<text transform="translate(656.5,1532.7) scale(0.955,1.0)" font-size="26" fill="#000">0.6 V</text>
<text transform="translate(653.2,1577.5) scale(0.955,1.0)" font-size="26" fill="#000">0.5 V</text>
<text transform="translate(656.2,1638.3) scale(0.955,1.0)" font-size="26" fill="#000">0.4 V</text>
<text transform="translate(656.5,1699) scale(0.955,1.0)" font-size="26" fill="#000">0.3 V</text>
<text transform="translate(659.4,1745.6) scale(0.955,1.0)" font-size="26" fill="#000">0.2 V</text>
<text transform="translate(654.9,1821) scale(0.955,1.0)" font-size="26" fill="#000">0.1 V</text>
<text transform="translate(658.2,1937.7) scale(0.955,1.0)" font-size="26" fill="#000">OCP</text>
<rect x="55.4" y="1066.3" width="668.1" height="908.3" fill="none" stroke="#000" stroke-width="4.3"/>
<line x1="55.5" y1="1976.7" x2="55.5" y2="1987.5" stroke="#000" stroke-width="4.2"/>
<line x1="134.1" y1="1976.7" x2="134.1" y2="1981.3" stroke="#000" stroke-width="4.2"/>
<line x1="212.8" y1="1976.7" x2="212.8" y2="1987.5" stroke="#000" stroke-width="4.2"/>
<line x1="291.4" y1="1976.7" x2="291.4" y2="1981.3" stroke="#000" stroke-width="4.2"/>
<line x1="370.1" y1="1976.7" x2="370.1" y2="1987.5" stroke="#000" stroke-width="4.2"/>
<line x1="448.8" y1="1976.7" x2="448.8" y2="1981.3" stroke="#000" stroke-width="4.2"/>
<line x1="527.4" y1="1976.7" x2="527.4" y2="1987.5" stroke="#000" stroke-width="4.2"/>
<line x1="606.0" y1="1976.7" x2="606.0" y2="1981.3" stroke="#000" stroke-width="4.2"/>
<line x1="684.7" y1="1976.7" x2="684.7" y2="1987.5" stroke="#000" stroke-width="4.2"/>
<text x="39.5" y="2022.6" font-size="32.5" fill="#000">200</text>
<text x="197.1" y="2022.6" font-size="32.5" fill="#000">400</text>
<text x="354.1" y="2022.6" font-size="32.5" fill="#000">600</text>
<text x="511.4" y="2022.6" font-size="32.5" fill="#000">800</text>
<text x="659.2" y="2022.6" font-size="32.5" fill="#000">1000</text>
<text x="243.2" y="2075.1" font-size="33" fill="#000">Raman shift (cm</text>
<text x="500" y="2058.2" font-size="22" fill="#000">−</text>
<text x="513.4" y="2061.7" font-size="21.7" fill="#000">1</text>
<text x="525.5" y="2075.1" font-size="33" fill="#000">)</text>
<text transform="translate(30.8,1591.1) rotate(-90) scale(1.0,1.0)" font-size="32" fill="#000">Intensity</text>
<text x="4.7" y="1103.3" font-size="67" fill="#000">c</text>
<defs><clipPath id="clipd"><rect x="826" y="1065.8" width="662.7" height="903.7"/></clipPath></defs>
<g clip-path="url(#clipd)">
<path d="M825 1066.6l1.5-0.4 4.5 15.7 4.5 7 4.5 20 1.5-1.4 1.5 10 3 11.6 1.5 1.6 3 18.2 3 11.1 3 4.5 1.5-0.9 4.5 10.1 1.5 9.3 1.5-3.5 6 17 1.5-1.7 1.5 7.9 1.5 0.7 1.5 4.4 1.5 9.8 3 2.4 3 10.5 1.5 0.5 1.5 11.3 3 9.6 1.5 1.8 3-0.7 1.5-4.2 1.5 0 1.5-7.4 1.5 10.5 1.5-3.5 1.5-0.6 1.5-3.3 3 0.7 1.5-0.8 1.5 1 1.5 5.7 1.5-1.1 1.5 3.2 3 2.2 1.5 2.4 1.5 4.7 3 0.3 4.5 9.7 1.5 8 1.5 1 1.5 5.5 1.5-3 1.5 2.5 1.5 6.8 1.5-7.1 3 0.9 4.5 5.8 1.5 4.8 1.5-8 1.5 0.7 1.5-2.7 1.5 3.6 1.5-3.2 1.5 5.8 1.5-6.3 1.5 5.6 3-2.2 1.5 6.5 1.5-4.1 1.5 5.2 1.5-4.3 1.5-0.1 1.5-4.8 3 5.8 1.5-1.9 3-0.6 3 4 1.5 5.1 1.5-7 1.5 1.2 1.5-2.5 1.5 2.5 1.5 0.6 1.5-3.7 1.5 0.2 3-1.4 1.5 5.4 1.5-1.2 1.5-6.7 3 9.2 1.5-2.9 3 1.5 1.5-0.6 1.5-2.5 3 2.1 1.5 3.4 3-5.2 1.5 5.8 1.5-1.5 1.5 0.4 1.5 0.9 1.5 4 1.5-2.3 1.5 0.6 1.5 3.1 4.5-4.7 3 12.4 1.5-6.2 1.5 1.1 3 8.2 1.5 0.7 1.5-2.2 3 8.6 1.5-2.5 1.5 4.9 1.5-2.6 3 6.3 1.5-0.3 1.5-2.6 1.5 7.6 3 3.7 1.5-3.7 1.5 5.9 1.5-0.3 1.5 3 1.5-4 3 3.1 1.5-0.4 1.5 4.9 1.5 0 1.5-4.8 3 8 1.5 0.2 1.5-2 1.5 3 3 0.6 1.5 1.5 1.5-1 1.5 4.3 1.5-1.6 1.5 3.1 1.5-6.9 1.5 5 1.5 2.2 1.5 0.8 1.5-1.4 1.5 3.9 3-0.8 1.5 3.3 1.5 0.6 3-1.9 1.5 0.9 1.5 2.5 1.5-0.7 1.5-2.2 1.5-7.6 1.5 7.3 1.5 3.2 3 1.9 1.5-0.9 1.5 0.3 1.5 5.3 1.5-5.7 3 4.9 1.5-2.6 3 3.3 1.5 0.4 1.5-1.8 1.5-0.2 1.5 2.1 1.5 6.1 1.5-5.7 1.5 1.1 1.5 3.5 1.5-4.2 4.5 4 1.5-0.5 1.5 5.7 1.5-2.5 1.5 0.7 1.5-0.5 1.5 3.7 1.5-6.3 1.5-0.5 1.5 3.4 1.5-0.5 1.5 2.1 3 0.8 1.5-1.8 3 3.3 1.5-2.6 4.5 8 1.5-1.9 1.5-4.3 6 5 1.5-6.2 1.5 5.5 4.5-4.4 1.5 1.5 1.5 6.4 1.5-2.7 1.5 0.1 1.5-3.7 1.5 4 1.5-3 1.5 1.1 1.5-5.3 1.5 3.4 1.5-0.8 4.5 3.6 3-4.2 1.5 1.2 1.5-2.5 1.5 1 1.5 8 1.5-4 1.5 2 3-0.5 1.5-5.6 1.5 10.1 3-2.3 1.5-2.6 1.5 1.3 1.5-3.4 1.5 4.2 3-7.8 3 5.2 1.5-0.2 1.5 8.5 1.5-10.9 1.5 0.5 1.5-1.8 1.5 5.6 1.5-4 1.5 1.4 1.5-2.4 1.5-5.2 1.5 3.8 1.5-0.7 1.5 0.6 1.5-3.2 3 0.9 1.5-0.1 1.5-1.7 1.5 0.8 3-5.3 1.5 5.4 1.5 2.1 3-6.7 3 2.8 3-1.1 3 1.5 1.5-6.7 3 3.6 1.5 4.9 1.5 0.6 1.5-0.8 1.5-3.8 1.5 2.4 1.5-0.9 1.5 1.5 1.5-1.1 1.5 6.6 1.5-2.9 1.5-1.2 3 8.8 1.5-6.2 1.5 6.7 1.5-0.8 1.5-4.1 1.5 4.5 1.5-1.8 1.5 4.9 1.5-1.5 1.5 0.5 1.5-1.9 1.5 1 1.5 4.6 1.5 0.1 1.5-3.2 1.5 1.5 3-10.2 1.5-10.4 4.5-60.2 1.5-9.8 1.5 6.3 4.5 54.7 1.5 10.5 6 22.6 3 6 1.5 6.1 1.5-1.6 1.5 5.1 3 3 1.5-3.2 3 7.3 3 2.3 1.5-2.3 3 4.9 1.5-4.2 3 3.7 1.5-0.7 1.5 3.3 1.5-1 1.5 2.3 1.5-2.3 1.5 1 3 4.3 1.5-0.1 1.5-2.7 1.5 5 1.5-1 1.5 0.7 1.5 4.7 3-6.6 1.5 6 4.5-5.8 3 4.4 3-5.8 1.5 0.4 1.5 7.9 1.5-4 3 0.9 1.5 3.7 3-10.9 3 5.6 1.5-3 1.5 4.7 1.5 2 1.5-4 1.5 3.1 3 1.8 1.5-3.2 3-2.5 1.5 4.9 1.5-5.8 3 11.8 3-6.4 1.5 1.6 1.5-4 1.5 2.4" fill="none" stroke="#ffc4c6" stroke-width="5.2" stroke-linejoin="round" stroke-linecap="round"/>
<path d="M825 1134.3l1.5-4.2 1.5 0.3 3 19.3 3 5.5 7.5 29.4 1.5 1.5 3 12 3 20.6 1.5-3.5 4.5 17.9 1.5 0 1.5-1.1 1.5 2.6 1.5-1.9 1.5 1.6 3 8.5 1.5 2 3 12.9 1.5 2.1 1.5 8.1 1.5 0.5 1.5 9.6 1.5-4.3 1.5 0.9 1.5 8.9 4.5 11.5 1.5-6.7 3 22.1 1.5-1.1 1.5 4.7 1.5-3.4 3-3.6 1.5 0.4 1.5-1.2 1.5 6.6 3-4.9 1.5 3 1.5-3.7 1.5 3.2 3 1.7 1.5-0.4 1.5 2.9 1.5-1.3 3 7.9 1.5 0.7 1.5 3.3 1.5-4.1 1.5 9.5 1.5 3.9 1.5 1.7 3 11.4 1.5-0.4 1.5 2.1 1.5-0.9 3 3 1.5-1.7 3 5.4 1.5-1.8 3-0.7 1.5 4.4 1.5-1.6 1.5 0.2 1.5-1.1 1.5-3.1 3 3.9 1.5 3.5 1.5-2.9 3 6.9 1.5-7.9 4.5 6.6 3-7.1 1.5 0.5 1.5 1.9 1.5-2 1.5 7.4 1.5-5.2 3 6.7 1.5-4.5 1.5 0.2 1.5-3.7 3 4.8 1.5-0.5 3 1 1.5 1.8 1.5-3.9 3 4.1 1.5-2.8 1.5-0.6 1.5 3.4 1.5 0.1 3-8 1.5 7.3 1.5 1.3 1.5-3.7 1.5-0.2 3 8.9 1.5-6.2 1.5 3.6 1.5-5.4 1.5 4.4 3-6.5 1.5 0.5 1.5 0.8 4.5 6.4 1.5-2.5 1.5 3.5 1.5-2.5 1.5 5.1 3 2.4 1.5-2.5 1.5-0.9 3 15.9 1.5-3.2 3 6.9 3-0.5 1.5 4.8 1.5-0.7 1.5 0.7 1.5 4.9 1.5 1.6 1.5-1.2 1.5 3.7 1.5-2.3 1.5 3.9 1.5-2.9 1.5 5.5 1.5-2.1 1.5 3.4 1.5 1.4 1.5-0.6 1.5-2.8 4.5 6.8 1.5-0.8 1.5 0.7 1.5 4.2 1.5-1.7 1.5 1.4 1.5-6.2 3 5.6 1.5 0.2 1.5 1.3 3 7.2 3-4.3 1.5-0.9 1.5 2.6 1.5 7.1 1.5-4.4 1.5-0.4 3 6.5 1.5-2.4 1.5 4 1.5-3.3 1.5-1.4 3 1.1 3-1.2 1.5 4.3 1.5 1.6 3-2.7 1.5 3.2 3-0.9 3 4.5 1.5-4.1 1.5-0.5 1.5 4.7 1.5-1.1 1.5 3.8 4.5-5.8 1.5-0.3 1.5 5 3-3 3 0.5 1.5-1 1.5 1.5 1.5-0.3 1.5 3.8 3-3.9 1.5 0.5 1.5 4.6 3-1.5 1.5-4.1 1.5 2.6 1.5 0 1.5 2.2 3 2.2 1.5-0.3 1.5-5.2 1.5 5.1 1.5-3.2 1.5 5 1.5 0.1 1.5-6.1 1.5 3 4.5 1.3 1.5-1.1 1.5-5.6 1.5 4.4 1.5 0.9 3 5.7 1.5-0.5 1.5-2 3-0.2 1.5-6.3 3 8.5 3 0.4 1.5-0.8 1.5 1.7 1.5-1.4 1.5-0.1 1.5-3.4 1.5 0.2 1.5 1.6 1.5-0.4 1.5 6 3-3.8 1.5 3 1.5-1.1 1.5-4.7 1.5 3 3 1.9 1.5-0.2 1.5-4.2 3 2 1.5 4.1 4.5 0.3 1.5-7.4 1.5-2.2 1.5 3.9 1.5-0.5 1.5 2.7 1.5 0.8 3-5.8 1.5-0.3 1.5 3.3 1.5 0.1 3-6.8 1.5 5.2 1.5-4.1 1.5 1.1 1.5-5 1.5 4.8 1.5 0.7 1.5-3.8 1.5 0.4 3-1.1 1.5-5.6 1.5 1.3 1.5 4.2 1.5 0.3 1.5-11.9 1.5 10.3 1.5-2.9 3 1.1 1.5 2.3 1.5-3.5 3 2.2 1.5-2.1 3 3.7 1.5 1.1 1.5 0.1 1.5 3.9 1.5-1.1 1.5 4.2 1.5-4.6 4.5 6.1 1.5-0.8 1.5 0.9 1.5-1.6 1.5 1 1.5 9.1 1.5-2.4 3-2.1 1.5 3 1.5-1.5 1.5 1.2 1.5 2.9 4.5-8.9 1.5-6.8 3-28.2 3-46.1 1.5-10.9 1.5 6.6 6 71.2 4.5 18.4 7.5 21.5 1.5 2.5 3-3.9 3 6.4 1.5-2.1 1.5 4.9 1.5-2.7 1.5 3.1 1.5-3.2 1.5 5 1.5-6.1 1.5 5.7 1.5 2.2 4.5 0.7 1.5 1.5 1.5 5 1.5-4.7 1.5 4.8 1.5 0.6 1.5-4.4 1.5 1.8 1.5 6.9 1.5-0.2 1.5-2.1 3-5.8 1.5 0.5 1.5 4.7 1.5-3.4 1.5-1.2 1.5 4.2 1.5-2.7 1.5 4.5 3-1.6 1.5-4.6 1.5 2.3 3 1 1.5 1.6 3-1.4 1.5 3.8 3-1.9 1.5-0.1 1.5 4.1 1.5-7.2 1.5 2 1.5 6 1.5-2.3 1.5 1 1.5-3.5 1.5 2 1.5-5.3 1.5 0.1 1.5 3.3 1.5-2.6 3 3.7 1.5 8.3 1.5-7.4 3-2.4" fill="none" stroke="#ffb3b5" stroke-width="5.2" stroke-linejoin="round" stroke-linecap="round"/>
<path d="M825 1189l1.5-4.1 1.5 6.7 3 5.6 3 23.2 1.5-4.1 1.5 12.8 1.5-5.9 1.5 3.6 1.5 9.1 3 9.7 3 20.2 1.5 3.6 3 14.6 3 10.2 1.5-1.2 3 4.8 1.5-4.9 1.5 3.9 1.5-1.1 1.5 1.7 6 18.6 1.5 12.1 1.5-2 1.5 3.2 1.5 10.7 1.5 2.2 1.5 9.3 1.5 4.4 1.5-0.4 4.5 9.1 1.5 1.6 1.5 0.3 1.5 2.6 1.5-4.7 1.5 4.5 1.5 0 1.5 1.9 1.5-2.8 1.5-0.6 1.5-3.5 3 3.1 1.5 0.1 1.5-1.9 1.5 2.9 1.5-0.7 3-7.7 3 9.7 4.5 6.9 1.5 5 3-0.3 3 13.2 1.5-0.8 1.5 5.5 1.5 2.4 3 2.7 1.5-1.5 3 6.7 3-4.7 1.5 5.3 1.5-4.5 1.5 6.1 1.5-2.2 1.5 1.1 3-0.5 1.5 2.4 3-3.8 1.5 1.5 1.5-3.2 1.5 3 1.5-2.6 3 6.5 1.5 0 1.5-2.4 1.5-5.3 1.5 5.2 1.5 2.1 1.5-1.1 1.5 2 1.5-1.6 1.5 4 1.5-7.2 4.5 6.3 3-1 1.5-4.2 1.5 8.9 3-4.7 1.5 3.8 1.5-4.6 3 5 1.5-0.3 4.5-4 1.5 2.5 1.5-2.5 1.5 5 1.5 0.2 3-6.2 1.5 5.6 1.5 0.4 1.5-3.6 4.5 4.8 3-3.1 3 1 1.5 6.8 1.5 0.6 1.5-7.6 3 10.3 3 4 3-0.8 1.5-3.3 3 7.7 1.5-2.8 1.5 4.7 1.5-1.4 1.5 7.2 3 1.9 1.5 2 1.5-2.4 1.5 3.9 1.5-3.9 1.5 8.9 4.5 4.4 1.5-2.4 1.5 1.6 1.5 5.9 1.5-2.8 3 4.8 1.5-1 1.5 5.3 3-11.6 3 10.6 1.5-1.1 3 3.7 1.5 4.4 3-5.9 1.5 0.5 1.5 2 1.5-4.4 1.5 6.5 1.5-5.2 1.5 2.1 1.5 5 1.5-3.7 3 4.2 1.5-4.3 1.5 3.2 1.5-1.8 1.5 3.1 1.5-0.3 1.5 3.3 1.5-1.6 3 4 1.5-2.5 1.5 3.1 3-0.4 1.5-3.2 1.5 2.1 1.5 0.6 1.5 8.3 1.5-5 3-0.8 1.5-2.5 1.5 0.5 1.5 2.1 1.5-2.9 4.5 4.9 3 1.1 1.5-0.5 1.5-4.7 3 7 1.5-1.8 1.5 2.3 1.5-1.3 1.5 0.6 1.5-0.9 1.5-3.4 3 9 1.5-2.2 1.5 0.5 1.5 6.2 1.5-8.5 1.5 2.7 1.5-0.1 1.5-1.8 3 6.2 3-0.9 1.5-3.4 1.5 1.4 1.5 6.8 1.5-8.2 1.5-0.9 1.5 2.9 1.5-1.6 3-0.8 1.5 1.2 3 5.4 1.5-0.7 1.5 1.3 3-7.7 1.5 3.7 1.5-0.9 1.5 4.7 1.5 1.1 1.5-2.1 4.5 4.7 1.5-3.6 1.5 3.2 1.5-2.2 1.5 1.9 1.5-6.9 3 6.8 3-6.6 4.5 8.1 1.5 0.6 3-5.2 1.5 1.1 1.5 4 1.5 1.3 1.5-1.2 1.5 3.3 1.5-5.2 3 1.1 3-4.4 1.5-0.2 4.5 6.6 3-12.1 1.5 1.6 1.5-1.5 3 5.2 3-2 1.5-4.4 3 2.4 1.5 4.1 1.5-1.9 1.5-4.5 1.5 1.2 4.5-5.3 1.5-2.9 1.5 6.4 3-7 1.5 0.9 4.5 0 1.5 3.7 1.5-6.4 1.5 5 1.5-1.5 1.5 2.1 1.5-2.8 1.5-0.5 3 8.7 1.5-5.7 3 7.8 1.5-0.9 1.5 0.1 1.5 5.4 1.5-2.5 1.5 2.2 1.5 0.1 1.5 1.3 1.5-1.4 1.5 0.6 1.5 4.9 1.5-1.3 1.5 1.1 1.5-2.6 1.5 4.9 1.5 1.6 1.5-2.5 1.5 9.5 1.5-8.7 1.5-3.5 1.5 2.1 1.5-3 1.5-9.6 3-34.8 3-51.7 1.5-12.1 1.5 7.3 4.5 66.8 3 21.7 1.5 3.1 3 12.9 3 8.7 3 8.2 1.5 0.6 1.5 3.6 1.5 1 3-1 3 5.1 3-1.2 1.5 1.3 1.5 4.9 1.5-3.7 1.5 0.6 1.5 2.5 3-3.8 4.5 4.9 3-1 3 4.3 1.5-3 1.5 6.7 1.5-5.4 1.5 5.5 1.5 0.5 3-1.4 1.5-4.7 1.5 1.1 1.5 2.8 1.5-2.5 1.5 3.1 1.5-3.7 1.5-0.4 1.5 3 1.5-0.6 1.5 1.8 3-4 1.5 4.1 1.5-3 3 6.2 1.5 0.7 1.5-4.5 1.5 0.1 4.5 4.5 1.5-1.1 1.5-3.6 1.5-0.5 3 3.8 1.5-5.7 3-1.3 3 7.3 3-4.4 1.5 2.2 3 2.2" fill="none" stroke="#fea3a4" stroke-width="5.2" stroke-linejoin="round" stroke-linecap="round"/>
<path d="M825 1248.7l1.5 2.8 3 17.6 1.5 1.5 1.5 12.4 1.5 3.4 1.5 1.5 3 12.6 4.5 11.5 1.5 10.7 1.5 2.3 3 15.9 1.5-1.1 1.5 7.1 1.5 0.5 3 14.5 1.5-8 4.5 13.5 1.5 10.1 1.5-9.9 3 15.9 1.5-4.5 1.5 1.3 1.5 4.2 1.5 0.6 1.5 7.4 1.5 2.7 4.5 14 1.5-1.7 1.5 3.8 1.5-0.7 1.5 9.4 3 7.8 4.5 6.5 1.5-2.9 3-2.1 1.5-0.3 1.5 0.9 1.5-4 3-2.1 3 0.8 1.5-1.1 3 4.7 1.5-1.9 1.5 1.8 1.5 5.1 1.5 0.2 1.5 2.9 1.5-1.4 3 13.6 1.5-0.7 1.5 0.6 1.5 2.4 1.5-0.7 4.5 9 1.5-4 1.5 9.6 1.5-5 1.5 0.3 1.5-3.5 3 7.3 1.5 1.5 1.5-3.4 1.5-0.2 1.5 2.2 1.5 6.3 1.5-2.8 1.5 3 1.5-0.3 1.5 3.2 1.5 9.8 1.5-14 1.5-0.1 1.5 4.6 1.5-0.9 3 3.1 1.5-1.8 1.5 0.7 3-3.9 1.5 0.3 1.5 2 1.5 4.7 4.5-4.9 3 6.8 3-3.1 1.5-0.4 1.5 1.7 1.5-0.9 1.5 1.9 3 0.3 1.5-3.8 1.5-0.9 1.5 5.4 1.5-5.2 1.5-0.1 3 3.6 1.5-0.8 1.5 2.1 1.5-4.9 1.5-0.4 3 4.9 1.5 0 1.5-1.6 1.5 2.5 4.5-2.7 1.5 2.1 1.5-1.2 1.5 1.4 1.5-10 1.5 10.6 3 2.7 1.5 3.2 3 1.9 1.5 3.2 1.5-2.1 1.5 6.1 1.5-3.1 1.5 7.3 3 5.4 1.5-0.3 3 4.4 1.5 0.5 3 5 3 1.2 3 3.9 1.5 3.4 1.5-3.3 1.5 1.2 3 9.9 1.5-8.4 3 5.1 1.5 1.2 1.5-4.1 6 5.7 3-1.3 1.5-7.5 3 13.7 1.5 0.1 3-5.2 3 4.5 1.5-4.8 3 4.3 1.5-3.8 1.5 5.2 1.5-0.8 1.5 5.5 1.5-3.8 3 1.6 1.5 8.3 1.5-9 1.5 0.9 3-4.3 1.5 3.6 1.5 0.9 1.5-1.5 1.5-0.2 1.5 2.9 3 0.4 1.5 6.1 1.5-4.8 1.5 1.7 1.5-3.7 1.5 5.3 1.5-3.5 1.5-1 3 1.6 3-1.4 1.5 1.9 1.5-1.1 1.5 1.8 1.5 0.4 1.5-0.7 1.5 2.6 3-0.1 3-3.3 1.5 10.4 3-4.4 1.5 1.9 1.5-0.3 1.5-0.4 1.5-2.8 1.5 1 1.5 5.3 1.5 2 1.5 0.3 1.5-4.8 3 9.2 1.5-3.5 3-1.1 1.5-4.4 1.5 5.8 1.5 0.9 3-4.1 4.5 4.9 1.5-1.8 1.5 0.3 4.5-2.6 1.5 2.6 1.5-0.5 1.5 1.5 3 6.2 1.5-9.3 1.5 3.7 1.5 0.3 1.5 3.8 1.5-2.4 1.5 1.3 3-2.3 1.5-4.6 1.5 6.4 1.5 2.1 1.5-4.4 1.5 5.4 1.5-7.9 1.5 2.7 3 3 1.5-0.6 1.5-10.4 1.5 12.3 1.5-6.9 3 0.7 1.5-3.2 1.5 2 3 7.8 1.5-1.2 1.5-3.7 1.5-0.3 1.5-6.8 1.5 5.6 1.5 2.4 1.5-5.2 1.5 2.7 1.5-4.9 1.5 8.6 1.5-7 3 0.2 1.5 1.5 6-9.1 1.5 0 1.5-3.6 1.5-0.1 1.5 5 1.5 0 1.5-0.7 1.5-3.2 1.5 0.9 1.5-4.7 1.5 5.2 3 1.4 4.5-6.8 1.5 5.5 3-3.3 4.5 9.2 3-7.5 3 5.6 1.5 1 1.5 2.5 1.5-0.1 3 4.3 3 0.7 1.5 2.7 1.5-1.9 4.5 7.1 1.5-6.8 1.5 4 1.5 0.1 1.5-5.4 1.5 6.1 1.5-0.9 1.5 5 1.5-2.2 3-12.2 3-34.4 3-50 1.5-11.7 1.5 6.1 6 77.7 7.5 32.5 1.5 1.8 3 9.7 1.5-3.6 3 4.6 3-1.8 6 8.1 1.5-5.1 1.5 1.4 1.5 5.8 1.5-2.2 1.5-0.7 1.5 0.2 1.5 3 1.5-2.2 1.5 3.1 1.5-1.4 1.5 0.2 1.5-0.9 1.5 5.2 1.5 0.6 1.5-4.3 3 9.8 1.5-8.7 1.5 0 1.5 2.5 1.5-3.5 3 6 1.5-0.4 1.5-2.1 1.5 0.4 1.5-1.7 1.5 2.2 3-0.8 1.5 4.5 3-9.5 1.5 5 3 3.3 1.5-4 1.5-0.4 3 4.3 3-3.2 1.5 2.3 3-5.3 3 4.4 1.5-1.2 1.5 2.4 1.5-1.7 1.5 0.5 1.5-1.4 1.5 4.1 1.5-1.1 1.5 2.6 3-3.4 1.5 1.7" fill="none" stroke="#fd9293" stroke-width="5.2" stroke-linejoin="round" stroke-linecap="round"/>
<path d="M825 1309.2l1.5 1.1 1.5 10.3 4.5 9.6 3 13.2 1.5 1 1.5 8.9 1.5 2.6 7.5 31.5 1.5 2.4 1.5 0.4 1.5 5.8 1.5 2.7 1.5 9.7 1.5-2.5 1.5 5.5 1.5 0.5 1.5-3.7 1.5 15.8 4.5 8.5 1.5-1.3 1.5 2.3 3 7.7 3 2.1 1.5 7.3 1.5 1.7 1.5 5.9 1.5-4.7 3 14.7 1.5 4.4 1.5 0.8 3 6 1.5 9.9 1.5-3.4 1.5 3.9 1.5 8.1 1.5-10.8 1.5-4.9 1.5 5 1.5 0 1.5 1.1 1.5-9.9 1.5 5.7 1.5-5.3 3 8 1.5-0.1 1.5-2 1.5 0.6 4.5 7.9 1.5-5.8 1.5 9.3 3 10 1.5-0.1 3 11.3 1.5-1.2 1.5 4 1.5 1.4 1.5-2.8 1.5 7.1 1.5 0.3 1.5-3.7 1.5 1.5 1.5 0 1.5 5.9 1.5-4.3 1.5 2.5 1.5-1.3 1.5-4.2 1.5 5.4 1.5-1.6 3 5.5 3-4.9 1.5 0.7 1.5-0.6 1.5 3.5 1.5 0.2 1.5-8.6 4.5 9 1.5-7.4 1.5 8.7 1.5-0.2 1.5-5.2 3 2.4 1.5-2.7 1.5 0.7 1.5-0.7 3 5.3 3 1.3 3-0.7 1.5-1.5 1.5 4.6 4.5-6 1.5 1.2 1.5-0.4 1.5 4.2 3-6.5 3 1.6 3 3.9 1.5 0.3 1.5-0.9 3 4.1 3-3.7 1.5-3.9 1.5 2.7 1.5 5.9 1.5 0.1 1.5-5 1.5 1.6 1.5-2.1 1.5-0.3 1.5 6.2 1.5-2.6 1.5 3.9 3-2.7 1.5 7.3 3-3.3 3 16.5 1.5-4.5 1.5 3.5 3 1 1.5 4.9 1.5-2.2 1.5 4.6 1.5-1.1 1.5 9.2 1.5 0.6 1.5 2.2 3-0.6 1.5 1.5 1.5-2.2 1.5 0 1.5 5.4 1.5-6.1 1.5 8.6 1.5 2.4 1.5-1.4 1.5 0.3 1.5-1.8 4.5 2.4 1.5 2.4 1.5-1.7 1.5 4.5 1.5-2.2 3 3.2 1.5-1.4 1.5 1.7 1.5-2 1.5 4.2 1.5 1.3 3-2.7 1.5 3.5 1.5-4.6 4.5 5.9 1.5-4 1.5 0.9 1.5-0.6 1.5-2.3 1.5 1 1.5 5.5 3-1.2 1.5 2.3 3-3.2 1.5-0.2 1.5 3.3 1.5-3.3 1.5 4.4 1.5 1 1.5 3.2 1.5 0.8 1.5-4.5 1.5 1.1 1.5 3.9 3-8 1.5 1.1 1.5 3.1 1.5-2.2 3 2.7 1.5 0.2 3 5.1 1.5-3.4 1.5 0.8 1.5-2.1 1.5 2.9 1.5-3.1 3 6.8 1.5-2.3 1.5 14.8 1.5-13.7 1.5-0.2 1.5-2.2 3 8.6 1.5-1.3 1.5-7.3 1.5 4.1 1.5 1.5 1.5-2.9 1.5 7.1 1.5-1 1.5-3.5 1.5 0.8 1.5-3 1.5-1 3 5 1.5-0.2 3-2.1 3 7.5 1.5-5.8 4.5-0.8 1.5-2.8 1.5 4.8 1.5-3.7 1.5-1 3 7 3-7.5 1.5 5.2 1.5 1.6 1.5-2.9 1.5 3.4 1.5-3.1 1.5 3.3 1.5 0.3 1.5-3.5 4.5 1.8 1.5-3.2 1.5 0.9 1.5 2.7 1.5 0.6 1.5-6.2 3 7.9 1.5 1 1.5-7.3 1.5-0.4 1.5 1.2 1.5-0.2 1.5 1.5 3-2.6 1.5-0.4 1.5 0.9 3 4.4 4.5-7.2 1.5 0.3 1.5-5 1.5 4.7 1.5 1 1.5-8.4 1.5 5.1 1.5 0.5 1.5-0.6 3 1.1 4.5-3.1 1.5-2.8 1.5 1 1.5 2.6 1.5-0.8 1.5-2.6 1.5 1.1 1.5 6.6 1.5-7.8 1.5-1.2 1.5 0.1 3 2.4 1.5-4.3 3 2.8 3 6.6 1.5 0.9 1.5-1.8 1.5 2.8 1.5 1.1 1.5-2.3 1.5 1.4 1.5 4.9 1.5-1.6 1.5 2.4 3-3.2 1.5 5.9 3 0.5 1.5 3.7 1.5-2.2 1.5-0.3 1.5-2 1.5 3.2 1.5-0.5 1.5 1.7 4.5-14.2 3-32.9 3-50.8 1.5-12.3 1.5 8 3 44.3 3 31.4 1.5 8 6 21.6 1.5 0.1 1.5 5.2 3 4.6 3 7.1 3 1.9 1.5-1.9 1.5-4.2 1.5 7.3 3 2.6 1.5-4.9 3 4.8 4.5 0 1.5-1.8 3 6.9 1.5 1.1 3-3.2 3 1.1 1.5 3.1 1.5-0.1 1.5-0.7 1.5-2.6 1.5 1.1 1.5 4.4 3-8.6 1.5 12.4 1.5-9.8 1.5 0 1.5 4.3 1.5-0.1 1.5 2.7 1.5-2.9 3 2.3 1.5-1.5 1.5-3.7 1.5 3.5 3 1.3 1.5-1.1 1.5-5.7 1.5 7.9 3 1.1 1.5-3.9 1.5 2.4 1.5 0.6 1.5-4.6 1.5 4.5 1.5-2.4 1.5 4.5 1.5 1.5 3-3.4 1.5-4.9 3 4.7 1.5 8.7 1.5-8.8 1.5-2" fill="none" stroke="#fc8082" stroke-width="5.2" stroke-linejoin="round" stroke-linecap="round"/>
<path d="M825 1362.7l3 12.9 1.5 2.5 3 9.2 6 24.6 3 8 1.5 0 1.5 12.4 1.5 0.6 1.5 6.4 1.5 1.6 1.5 10.3 1.5-1.1 1.5 13.5 1.5-7.6 1.5 6.6 1.5 2.3 1.5 8.3 1.5 2.4 1.5-0.7 6 23.1 1.5 13.1 1.5-7.6 3 12.9 3 3.3 3 12.2 1.5-0.6 1.5-2.8 1.5 8.8 1.5 1.7 3-2.1 1.5 2.2 1.5-6.1 1.5 7.8 1.5-2.6 1.5-0.9 1.5 3.9 4.5-6.6 1.5 3 1.5-3.1 1.5 1.2 1.5-1.2 1.5 2.6 1.5-2 1.5 4.6 1.5-4.5 1.5 4 1.5 0.7 3 9.8 1.5 1.6 1.5 7.6 1.5-7.3 1.5 13.8 1.5 1.1 3 7.9 1.5 2.4 1.5-1.1 3 8.4 1.5-1 1.5 2.8 1.5-0.1 1.5 1.5 3-3.7 1.5 3.9 1.5 0.2 1.5-2.2 1.5-0.2 1.5 3 1.5-4.9 3 2.7 1.5 3.3 1.5-2.5 1.5 0.5 1.5-3.2 1.5 0.8 1.5 2.7 1.5 0.1 3-2.6 4.5 4.5 1.5-2 1.5 0.9 1.5 3.2 1.5 1.4 1.5-4.8 1.5 0.7 1.5 2.1 1.5-6.8 1.5 5.4 3 0.1 1.5-2.8 1.5 1.9 1.5-2.4 1.5-0.8 1.5 5.1 1.5 0 1.5-2.8 1.5 1.3 1.5-4.5 3 8.4 4.5-5.8 1.5 0.3 1.5-1.4 3 4.7 1.5-0.3 1.5-2.1 3 6.9 1.5-2.3 3-0.4 1.5 0.6 1.5-3 1.5 0 1.5 7.6 3-6 3 8 1.5-4.4 1.5-0.2 1.5 2.3 1.5 5.6 3 6.5 1.5-2.8 1.5 1.6 1.5 4.5 1.5 0.5 1.5 3.4 3-2.6 1.5 3.6 1.5 0.7 3 7.6 1.5-0.2 1.5 3.9 1.5 0.9 1.5-2.8 1.5 0.6 1.5 7.5 1.5-1.7 1.5 3.7 1.5-4.2 1.5-1.1 1.5 2.7 1.5-1.7 1.5 1 1.5 1.6 1.5 4.4 1.5-3.2 1.5 5.1 1.5-4.6 1.5 0.8 3 5.4 1.5-4.4 3 1.8 1.5 3.4 1.5-3.6 1.5 1.8 1.5 7 1.5-0.7 1.5-2.8 6-3.1 3 5.4 1.5-7.1 1.5 10.1 3-5.8 1.5 3.8 1.5 1.5 1.5-6.5 3 7 3-6.1 1.5 6.3 1.5-6.6 3 7.8 1.5-2.6 1.5 6.1 4.5-7.3 1.5 5.7 1.5-0.6 1.5 2.8 1.5-5.5 1.5 6.2 3-3.5 1.5 3.1 3-4.1 1.5 2.6 1.5 5.5 1.5-8.1 1.5 4.4 3 0.8 3 7.3 1.5-4.1 1.5-1.6 1.5 1.5 1.5 0.3 1.5-2.4 1.5-0.7 3 3.7 1.5-2.3 1.5-0.6 1.5 3.5 1.5 0.1 1.5-4.5 4.5 3.8 1.5-3.6 1.5-1.7 1.5 5.4 1.5-1.1 4.5 2 3-2.8 1.5 2.6 1.5-0.7 1.5 3.5 1.5-2.5 3-1.8 1.5 0.5 1.5 3.6 3 1.7 1.5-1.9 1.5 1.6 1.5-2.6 1.5 4.7 3-2 1.5-3.8 1.5 8.2 1.5-0.7 1.5-4.5 1.5 1.5 1.5-3.7 1.5 4.9 1.5 0.7 1.5-0.8 1.5-4.3 1.5 6.2 1.5 1.6 1.5-1.7 1.5 0.8 1.5-3.1 1.5-0.5 1.5-7.5 1.5 6.2 3 4.9 1.5-1.1 1.5-6.8 1.5-1.3 1.5 2.4 1.5-2.8 1.5 0.9 1.5-0.7 1.5 0.2 1.5 2.5 1.5-6.9 1.5 6.3 1.5-4.5 1.5-1.3 1.5-3.5 1.5 5.3 3-4 1.5 0.2 1.5 4.2 1.5-4.1 1.5-0.7 1.5-3 1.5-0.8 3 2.9 1.5-1.7 1.5 2.4 1.5-2.7 1.5 0.9 1.5-2.9 1.5 0.3 1.5-1.3 1.5 5.9 1.5-1.3 1.5 5.3 1.5-4.7 1.5 0.9 1.5 3 1.5 0.9 1.5 4.3 3-5.4 3 10.9 1.5-0.1 1.5-5.3 1.5 4.9 3 3.4 1.5 0.9 1.5-4.1 3 7.7 1.5-1.2 1.5-3.6 1.5 0.3 1.5 4.9 1.5 0.2 3-5.9 3-21.3 4.5-77.1 1.5-12.5 1.5 7.8 3 46.9 3 33.1 1.5 9.6 3 12.9 1.5 3.5 3 15.1 1.5 2.8 1.5 0.5 1.5 3.6 3 2.5 1.5-1.8 1.5 5.2 1.5-2.2 1.5 3.3 1.5-5 3 4.7 1.5-2 1.5 7.4 1.5-4 3-4.4 1.5 2.2 1.5 0.7 1.5-3 1.5 5.1 3 3.6 1.5-4 3-0.4 1.5 2.1 1.5-0.9 1.5 2.3 1.5-0.1 1.5-4.7 1.5 4.6 3-3.3 1.5 0.5 3 3.2 1.5-0.6 1.5 2.4 3-3.6 3 0.8 1.5 3.3 1.5-1.1 1.5 2 1.5-0.5 1.5-2 1.5 3.4 1.5-6.3 1.5 2 1.5-3.4 1.5-1.2 1.5 1.5 1.5 4.9 3-3 1.5 3.6 4.5-8.9 3 7.9 1.5-2.2 1.5 3.3 1.5-1.4 3-0.7 1.5 1" fill="none" stroke="#fa6a6c" stroke-width="5.2" stroke-linejoin="round" stroke-linecap="round"/>
<path d="M825 1426.6l1.5 0.5 1.5 7.9 7.5 17.5 3 17.4 1.5 1.4 1.5 3.9 6 29.8 1.5-0.3 1.5 7.9 3 6.4 1.5 7.6 1.5 0.8 1.5 2.5 1.5 4.5 1.5 0.4 3 8.9 1.5 2 1.5 0 3 12.5 1.5-1.7 1.5 2.1 1.5 7.3 1.5 3 1.5 0.4 3 3.6 1.5 0 3 14.1 3 4.7 3 7.9 1.5 2.5 1.5-2.3 1.5 1.2 1.5 0.1 1.5-4.2 1.5 0.9 3-1.1 1.5 2.9 3-6.3 3-1.2 1.5 4.7 3 2.4 1.5 4.8 1.5-0.4 1.5-1.7 1.5 6.1 3 1.7 1.5 3.5 1.5 8 1.5 2.2 1.5 0.5 3 8.3 1.5-0.8 1.5 1.9 1.5-2.2 1.5 4.2 1.5-0.2 1.5 3.2 1.5-0.7 1.5 2.7 1.5-3.8 1.5 0.4 3 4.3 1.5 0.5 1.5 7.2 1.5-10.4 3 5.3 3-7 3 12 4.5-14.3 1.5 7.6 1.5-3 4.5 6.8 3-2.9 1.5 1 1.5 2.5 3-8.7 1.5 4.2 3 2.8 3-1.3 1.5 2.8 3-2.6 3 1.3 1.5-3.5 1.5 1.3 1.5-1.9 3 1.8 1.5 3.6 3 2.3 4.5-5.5 1.5 5.7 1.5-3.4 1.5 1.1 1.5-3.3 1.5 4.8 1.5-7.4 1.5 0.6 3 9 1.5-2.3 1.5 1.8 1.5-1.4 1.5 6.1 3 0.7 1.5-2.2 1.5 4.1 3 2.2 3-1.6 3 7.1 1.5 0.5 1.5-1.5 1.5 8.4 1.5-0.5 3 3.4 3 9.6 1.5-8 1.5 2.5 1.5 5.5 1.5 0.1 1.5 1.4 1.5-0.1 1.5 4.7 1.5-3.8 1.5 1.5 1.5 5.7 1.5-0.6 1.5 1.7 3-2.8 3 4.4 3 1.6 1.5-0.9 1.5 1 4.5 7.2 1.5-6.4 1.5 1 4.5 7.1 1.5 1.3 1.5-3.1 4.5-1.3 1.5 4.1 3 1.1 1.5 3.7 1.5-2 1.5-5.4 1.5 3.3 1.5 1.2 1.5 0.1 1.5 2.5 3-4.2 3 1.3 1.5 1.7 1.5-2.5 1.5 1.7 1.5 8.2 1.5-6.1 1.5-2.9 1.5 4.5 3 0.6 1.5-3.9 1.5-0.1 1.5 6.8 3-10.3 3 10.6 1.5 0.4 1.5-4.4 1.5-0.8 1.5 3.3 1.5-3.5 3 4.4 1.5-0.3 1.5-2.2 1.5 2.7 1.5 1 1.5-3.7 1.5 0.9 1.5 3.9 1.5-5.6 3 5.3 1.5-1.6 1.5 1.5 3-2.1 1.5 5.2 3-2.8 1.5-4.6 1.5 1.8 1.5 6.2 3-3.1 1.5-0.1 1.5 2.1 3-0.9 1.5 3.7 1.5-1.9 1.5 0.9 1.5-7.5 3 10.2 1.5-5.4 1.5 0.3 1.5-1.1 1.5 0.9 1.5-0.6 1.5-2.4 3 9.4 1.5 0.2 1.5-3.6 1.5-0.4 1.5-5.8 3 9 1.5-6.3 1.5 3.3 3 1.1 1.5-4.5 1.5 0.9 1.5 3.1 1.5-3.1 1.5 7.1 1.5-0.1 3-7.9 1.5 5.3 3-2.2 1.5-8.4 1.5 9.1 1.5 2.9 1.5-3.2 1.5 5.7 3-9.3 1.5 6.2 1.5-7.7 1.5-1.8 3 4.7 1.5-1.5 1.5 7.5 1.5-8 1.5-2.2 1.5 5 1.5-6.3 1.5 5.1 1.5-0.7 1.5 0.3 1.5 2.2 1.5-3.7 1.5-0.2 1.5 2.5 1.5 0.3 1.5-5.6 1.5-1.4 3-0.3 1.5 1.6 1.5 0 3-6 4.5 8.2 1.5-3.5 3 2.2 1.5-1.2 3 1.2 1.5 3.2 3-4.2 1.5 5.5 1.5 0.5 3-1.1 1.5 4.2 1.5-0.8 1.5 4.7 3-1.3 1.5 2.1 1.5-1.6 1.5 0.8 1.5 5.9 1.5 1.6 1.5-6.1 1.5-0.4 3 4.2 1.5-1.3 1.5 0.7 3-10.6 1.5-11.6 4.5-75.3 1.5-10.9 1.5 6.7 4.5 66.6 1.5 11.3 4.5 22.7 4.5 18.4 3 8.5 1.5-3.3 3 2.5 1.5-3.3 6 8.2 1.5-4.3 1.5 3.6 1.5-1.3 3-0.3 3 4 3-1.8 3 2.3 1.5-3.6 1.5 3.4 1.5-3.1 1.5 1 1.5 8.7 1.5-7.5 1.5-2.4 1.5 14.1 1.5-9.9 1.5-1.8 3 5.8 1.5-3 1.5-6.6 4.5 5.3 1.5-3.4 1.5 4.4 1.5 0.6 3-4 3 3.8 1.5-2.9 1.5 2 1.5 0.7 1.5-3.6 1.5 3.9 4.5 0.9 4.5 2.8 3-3.6 1.5 2 1.5 0.2 1.5 3.1 4.5-7.3 3 3.9 1.5-0.2 1.5-2.8 1.5-0.5" fill="none" stroke="#f84a4c" stroke-width="5.2" stroke-linejoin="round" stroke-linecap="round"/>
<path d="M825 1479.7l1.5-2.5 1.5 8.2 3 8.3 1.5 8.6 1.5 2.5 1.5 8 1.5-1.4 1.5 16.5 6 14.8 4.5 16.3 1.5 1.6 1.5 10.9 4.5 9.9 1.5 8 1.5 3.3 3 1.2 1.5 7 1.5-0.6 1.5 4.5 1.5 17.8 1.5-14.8 3 9.5 1.5-0.3 9 25.3 3 2.1 1.5 7.2 1.5-1.4 1.5 6.2 1.5-3.8 1.5 3.4 4.5 1 4.5-8.1 1.5 0.8 3 4 3-0.8 1.5 1.1 3-6.9 3 9.5 4.5 3.8 7.5 21.4 3 5.7 1.5 1.2 1.5 5.7 3-1.9 3 1.5 4.5 6.4 1.5-8.3 3 9.2 1.5-3.9 1.5 3.6 1.5 0.1 1.5-7.5 3 8.3 3 1.5 3-2.9 1.5-3.5 1.5 7 1.5-1.2 1.5 0.1 3-4.5 1.5 4 1.5-3.1 1.5 1 3-4.3 3 8.1 1.5-3.2 1.5 0.6 1.5 7.1 1.5-3.1 1.5-1.4 1.5 2.6 1.5 0.5 1.5 4.3 1.5-4.2 1.5 2.6 1.5 0.2 1.5-5.6 3 4.6 1.5-2 4.5 0.5 1.5-4.8 1.5 1.7 1.5-2.6 1.5 4.8 1.5-3.6 1.5 2.7 1.5-1.5 1.5 5.9 3-4.2 1.5 0.4 1.5-1.6 4.5 8.5 3-1 3 1.1 1.5 3.8 1.5-1.5 1.5-0.2 1.5 3.3 1.5 0.7 1.5 6.2 1.5 1.6 1.5-3.8 4.5 6.6 1.5-0.8 3 8.5 1.5 0.5 3 3.7 1.5-1.1 1.5 3.9 1.5 0.3 1.5 6.9 1.5-0.3 1.5-10 1.5 9.4 1.5-4.9 1.5 7.7 3-3.1 1.5 3.9 1.5 1.8 1.5-1.5 1.5 0 1.5-2.9 4.5 8 1.5 0.4 3-3.9 1.5 0.7 1.5-1.8 1.5 4.8 1.5 1.6 1.5-2.7 1.5 3.8 1.5-7.7 3 8.9 1.5 1.2 1.5-2.2 3-1.3 1.5-0.1 1.5 2.5 3-3 1.5 1.1 1.5-0.2 1.5 5.9 1.5 0.3 3-7.1 3 5.4 1.5 0.1 3-0.5 1.5-3.4 1.5-0.6 1.5 4 1.5-1.2 1.5 4.7 1.5 1.8 1.5 7 3-13.6 3 9.3 3-4.8 1.5 4.6 3 1.1 1.5-2.5 1.5 0.4 1.5 4.7 1.5-9.8 1.5 4.3 1.5 0.4 1.5 1.7 1.5-4.8 4.5 6.5 1.5-3 1.5 3.4 3 1.2 3-6.9 3 5.2 3 1.2 1.5 2.3 1.5-0.8 1.5 1.3 3-4.1 1.5 0.1 1.5 2 1.5-1.4 1.5 3.3 1.5 0.9 1.5-2.9 3 0.5 3 5.9 1.5-7.6 3 7.1 1.5 0.6 1.5 1.8 1.5-6 3-1.9 3 1.7 1.5-4.2 1.5 0.3 1.5 5.7 1.5-2.2 1.5 1.8 1.5-1.1 1.5 5.2 1.5-10 3 7.3 1.5-1.5 1.5 2.7 1.5-4.9 1.5 2.7 1.5-3.3 3 7.2 1.5-5.3 1.5 1.5 1.5-3.5 1.5 4.8 1.5 0.7 1.5-4.3 1.5 1.7 1.5-2.4 1.5-0.5 1.5 3 1.5-1.8 1.5-0.4 1.5 1.7 1.5 0.3 1.5-4.9 3-2.5 1.5-0.3 1.5 1.8 3-2.7 1.5 1.1 1.5 3.5 1.5 0 1.5-3 1.5-0.2 1.5-2.5 1.5 0.8 3 0.1 1.5-1.4 1.5 1.8 1.5-1.8 1.5 0.6 3-1.8 1.5 0.5 1.5-2.9 3 4.7 1.5-0.8 1.5-2.4 1.5 2.5 3 1.9 3 5.3 1.5 1.1 1.5-0.6 4.5 6.7 1.5-2.1 1.5 1.2 1.5 3.7 1.5-2.9 1.5 5.7 1.5 0.9 3-0.5 1.5 0.6 1.5-2 3 4.8 1.5-3.8 1.5 1.1 3-10.7 3-35.7 3-52.1 1.5-11.6 1.5 7.4 4.5 65 1.5 12.7 4.5 21.6 9 25.8 3-3.2 1.5 2.6 1.5-6.3 1.5 6.5 1.5-1 1.5 0.7 1.5 0.9 1.5 2.5 1.5-1.9 1.5 0.9 1.5-1.9 1.5 0.2 1.5 1.9 1.5 4.1 1.5-4 1.5 2.2 3-2.6 1.5-0.2 1.5 7.4 3-4.8 1.5 3.7 1.5-6.3 3 6.7 3-2.4 1.5 1.9 3-5.3 1.5 7 1.5-3.4 3-0.7 1.5-3.4 1.5 1.4 1.5 4.6 1.5-2.3 3 2.5 1.5-4.3 1.5-1.1 1.5 5.5 1.5-2.1 1.5-4.8 3 8 1.5-0.4 1.5 1.7 1.5 10.6 1.5-11.5 1.5-3.6 1.5 0.2 1.5 3.3 6-3.4 1.5 1.1 1.5-1.8 3 9.5 1.5-6.4 1.5-0.7" fill="none" stroke="#f51c1e" stroke-width="5.2" stroke-linejoin="round" stroke-linecap="round"/>
<path d="M825 1533.9l1.5-1.2 3 15.5 1.5 2.6 3 12.8 1.5 0.5 4.5 23.7 3 5.4 1.5 12.2 3 8.9 1.5 0.3 3 16.5 1.5 4.5 1.5 0.4 1.5 6.7 1.5 1.4 3 11.8 1.5-7.4 1.5 2.1 3 10.7 3 4.9 1.5 5.5 3 4.2 1.5 6.8 1.5 0.6 1.5 2.8 1.5 0.5 1.5 9.6 1.5 2.2 1.5-1.7 1.5 4.3 1.5 0.8 3 12 1.5 0.1 1.5 2.2 1.5-3 1.5 0 1.5-2.9 1.5 0.1 1.5 1.5 1.5-2.9 1.5 1.6 3-3.6 1.5 1.1 1.5-1 1.5 6.2 3-3.7 4.5 6.2 1.5 6.1 4.5 8.8 1.5-1.7 1.5 0.7 1.5 10 1.5 3.5 1.5-2.2 1.5 2.7 1.5 6.2 1.5 2.4 1.5-2 1.5 1.5 3-1.1 1.5 6.6 3-7.1 1.5 0.4 1.5 4.6 1.5 1 3-1.9 3 5.2 1.5-4.6 3 2.5 1.5-4 1.5 3.3 1.5-0.5 1.5 2 1.5 0.6 3-3.1 3 0.6 1.5 0.8 1.5 2.4 1.5-1.2 1.5 0 1.5 3.5 1.5-2.9 1.5 0.3 1.5-2.8 1.5-0.3 1.5 6.6 1.5-1.1 1.5-3 1.5 1.3 1.5-2.6 1.5-0.3 1.5 3.6 1.5 0.3 1.5-3.8 1.5 3.5 1.5 0 1.5-1.8 1.5 0.3 1.5-1.1 1.5 3.4 1.5-1.5 3 2.7 1.5-2.6 1.5-0.9 1.5 0.4 1.5 2.3 1.5 0.9 1.5 4.1 1.5-1.8 1.5-6.2 1.5 6.7 1.5-1.1 1.5 1 1.5-3.8 3 6.8 1.5 0.7 1.5-2.6 4.5 11.2 1.5-0.2 1.5-1.5 3 7.5 1.5-0.3 1.5 0.8 3 7.4 1.5-4.9 1.5-0.5 1.5 5.4 1.5 0.2 3 7.3 1.5-4.9 3 9.8 1.5 0 1.5 3.6 1.5-2.2 1.5 0.6 1.5-3.3 1.5-1.1 1.5 4.2 1.5 0.5 1.5 4.3 1.5 1.7 3 1.1 1.5-2.3 3 5.9 1.5-6.2 1.5 1.9 1.5-0.5 1.5 3.8 1.5-0.2 1.5 1.3 3-1 4.5 4.4 1.5-0.3 1.5 1.7 1.5-0.4 1.5 2.2 3-0.7 1.5-1.5 1.5-3.5 1.5 0.5 3 5.9 1.5 0 1.5 3.5 1.5 1.1 1.5-1.7 1.5 3.1 3-7.7 3 7.3 1.5-2.6 3 4.8 1.5-3 1.5 3.8 1.5-5.9 1.5 2.1 3-2.3 3 2.8 3-0.8 3 3.9 1.5 0.4 3-5 3 6.5 1.5 1 1.5-3.7 3-0.6 1.5 0.8 1.5-2.9 1.5 3 1.5-1.1 3 4.3 1.5-4.8 1.5 3.9 1.5-4.9 1.5 5.6 1.5 0.4 1.5-2.2 1.5 0.8 1.5-3.6 1.5 1.6 1.5 4.4 1.5-0.4 1.5 3.6 3-4.7 3-0.5 1.5 3.2 4.5-0.3 1.5-1.7 1.5 0.9 1.5 3.1 1.5-5.4 1.5 4 1.5 1.2 1.5-5.3 1.5 4.7 3-5.1 1.5 4 1.5 1.7 1.5-2.4 1.5 0.7 1.5-3.8 1.5 5.8 4.5-4.1 3 3.1 1.5-2.9 3 4.4 1.5-5.6 1.5 0 1.5 2.6 1.5-0.9 1.5 1.5 1.5 2 1.5 4.6 1.5-7.2 1.5 1.4 1.5 3.9 3-5.4 1.5 2.9 1.5-7.6 1.5 6.3 1.5-1.5 1.5 3 1.5 1.2 1.5-0.9 1.5-6.3 1.5-0.6 1.5 2 1.5-1.9 1.5 2.1 1.5-0.1 4.5-5.8 1.5 0.7 1.5 2.1 1.5-2.8 1.5 3.1 1.5-2.7 1.5 4.6 3-4.8 1.5 1.7 1.5 0.4 1.5-1 4.5 2.9 1.5-2.1 1.5 2.8 3-2.7 1.5-3.1 3 4.6 1.5-0.7 1.5 5.4 1.5-1.8 1.5-4.5 1.5 5.4 3 2.9 3 0.1 1.5-2.9 1.5 2.5 1.5 6.9 1.5-5.2 1.5 8.7 3-7.7 1.5 2.9 1.5-1.3 1.5 2.3 1.5-1.3 1.5 3.3 1.5 0.8 1.5-0.3 1.5-2.7 3-21.6 4.5-71 1.5-11.3 1.5 6.2 4.5 66.3 3 20.8 3 11.8 1.5 12.9 1.5-1.8 4.5 12.3 3 4 1.5-4.3 1.5 1.2 1.5 2.9 1.5-2.4 1.5 0 4.5 7.8 1.5-2.7 1.5 1.4 1.5-0.1 3-4.9 1.5 6.9 1.5-3.3 1.5 1.9 4.5 0.4 1.5-1.9 1.5 4 1.5-9 1.5 10.1 3-5.5 1.5 1.1 3-1.8 3 2.4 1.5 2.9 1.5-3.2 3 4 3-1.9 1.5-0.1 3 5 1.5-4.3 1.5 2.5 1.5-0.3 1.5 1.8 1.5-3.2 3-1.2 1.5 5.4 1.5-0.8 1.5-3.3 3 3.1 1.5-0.5 1.5 0.7 3-3 1.5 4.5 1.5-4.2 1.5 1.5 1.5 4.1 3-8.4 1.5 5.9 1.5-2.3 1.5 2.6 1.5-0.9" fill="none" stroke="#e60000" stroke-width="5.2" stroke-linejoin="round" stroke-linecap="round"/>
<path d="M825 1702.2l3 0.7 1.5 5.4 1.5 2.5 1.5-1.8 1.5 6.8 1.5 1.1 1.5 6.2 1.5-0.4 1.5 1.2 1.5 9 1.5 3.5 3 2.9 1.5 0 1.5 5.7 1.5-1.5 1.5 7.2 1.5 2.2 3 3.5 1.5-2.6 1.5 7.1 3-1 1.5 3 4.5 1.6 1.5 8.1 1.5 1.2 1.5-1.7 4.5 9.4 1.5-2.6 3 6.1 1.5-0.8 1.5-4.3 1.5 6 1.5 1 1.5 4.7 1.5 0.8 1.5-3.4 1.5 5.4 1.5-2.1 1.5 9.4 3-12.1 1.5-0.2 1.5 6.2 3-8.3 1.5 0 1.5 2.3 1.5-1.3 1.5-9.3 7.5 16.7 3 0.1 1.5 0.9 1.5 6.9 1.5 2 3-1.8 1.5 0.8 3 5.3 1.5 0.5 1.5 3.2 1.5 0 1.5 1.6 3-2.6 3 0.9 1.5-0.9 1.5 2.9 1.5-4.6 1.5 4.5 4.5-0.1 1.5 9.4 1.5-10.1 1.5 0.4 1.5-2.7 1.5-0.3 4.5 5.7 6-2.9 1.5 1.8 1.5 0.3 3 4.4 1.5-4.2 3-3.9 3 8.2 3-5 1.5 1.9 1.5-0.2 1.5-4.2 1.5 5.1 1.5-1.2 1.5 1.4 1.5-0.2 3 5.4 1.5-4.1 1.5 1.6 1.5-0.1 1.5 1.3 1.5-3.4 3 3.4 1.5-5.5 1.5 4.6 1.5-2 1.5 2.2 1.5-4.8 3 2 3 4 3-1.8 1.5-3.3 1.5 0.7 3 6.9 3 1.7 1.5 2.3 1.5-1.8 3 0.9 4.5 10.7 1.5 0.5 1.5-2.2 1.5 4.1 1.5-3.7 1.5 6.5 1.5-2.1 1.5 7.8 1.5-1.4 3 6.3 1.5-0.1 1.5-2.8 3 9.8 1.5-5.3 1.5 0.6 4.5 4.2 1.5 5.8 1.5-5.8 1.5 4.8 1.5-5.9 1.5 5.1 4.5-2.8 1.5 0.4 1.5-1.3 1.5 4.3 1.5-2.6 1.5-0.4 1.5 4.5 3 2.8 1.5-4.6 3 5.9 1.5-4 1.5 0.5 3 3.5 1.5-3.5 1.5 0.5 1.5-2.6 1.5 2.6 7.5 6.8 1.5-6.8 1.5 1.4 3-0.6 4.5 6.5 1.5 0.9 1.5-0.1 1.5-4.8 1.5-0.7 3 4 1.5 0.4 1.5-2.2 1.5-0.4 3 8.4 3-3.8 1.5-0.6 1.5-3.4 1.5 3.3 1.5-0.7 1.5 3.6 1.5-0.6 1.5 1.4 3-4.4 3 3.3 1.5-0.9 1.5 0.4 3 4.1 1.5-1.6 3-1.1 1.5 0.8 1.5 3.2 1.5-2.3 1.5-0.7 1.5 2.5 1.5-2.4 1.5 4.6 1.5-4.5 3-1.3 1.5 5 1.5-6.7 1.5-0.9 1.5 0.2 3 9.1 1.5-2.3 1.5 1.8 1.5-3.7 1.5 9.3 1.5-7.7 1.5 1.6 1.5-1.5 1.5 1.6 1.5-3.1 3 5.5 1.5 0.9 1.5-3.7 3-0.3 1.5 6.5 1.5-4 1.5 3 1.5-0.5 1.5-6 4.5 6.9 1.5-4.4 1.5 2.1 1.5-1.5 1.5 1.4 1.5 4 1.5-5 1.5-0.5 1.5 1.7 1.5-2.7 3 8 1.5-0.2 1.5-5.3 1.5 3.3 1.5-4.9 1.5 4.8 1.5-4.3 1.5 0.4 1.5-1.4 3 3 1.5-0.8 1.5-3.1 1.5 0.1 1.5 1.4 3-2.6 1.5 1.3 1.5-0.8 1.5 1.7 3-2.2 3 0 3-2.8 3 7.4 1.5-5 1.5-1.9 1.5 0.7 1.5 2.8 1.5-6.6 1.5 6.8 3 0.7 1.5-7.8 1.5-1.3 1.5 3.1 1.5 0.9 1.5 2.4 1.5 0.5 1.5-1.6 1.5 5.7 3 2.1 1.5-2 1.5 3.3 1.5-0.7 1.5 0.9 3 3.8 3-1 1.5 7 3 1.7 1.5-4.1 1.5 2.9 1.5 0.6 1.5 4.9 1.5 0.7 3-0.7 1.5-3.8 1.5 4.5 4.5-11.3 1.5-9.1 4.5-52.6 1.5-8 1.5 4.8 3 33.3 3 22.8 1.5 6.1 1.5 3.1 1.5 1 4.5 19.2 3 2.9 3 4.7 1.5-2.1 1.5 0.3 1.5 2.4 1.5-0.2 3 4.2 1.5 0.4 3-4.4 1.5-4.2 3 8.9 1.5-0.1 3 2 1.5 7.3 1.5-6.2 1.5 2.8 1.5-6.1 3 5.9 1.5 0.7 1.5-1.1 3 4.8 1.5-5.3 1.5 3.8 3-7.2 1.5 4.5 6-3 1.5 4.9 1.5-2.9 3 4.3 4.5-5.7 3 0.7 4.5 3.8 1.5-1.6 1.5-0.1 3-3.7 1.5 6.3 3-2.4 1.5 5.3 1.5-3.3 1.5 1.3 1.5-2 1.5 0.2 1.5-3.4 1.5 3.9 3 0 1.5 2.2 1.5 0 1.5-3.2" fill="none" stroke="#bf0000" stroke-width="5.2" stroke-linejoin="round" stroke-linecap="round"/>
<rect x="892.1" y="1200.1" width="47.6" height="626.3" fill="rgb(134,181,236)" fill-opacity="0.24"/>
<rect x="985" y="1283.3" width="46.9" height="110.3" fill="rgb(252,150,50)" fill-opacity="0.3"/>
<rect x="1031.9" y="1280.5" width="47.1" height="589" fill="rgb(134,181,236)" fill-opacity="0.42"/>
<rect x="1344.3" y="1282.1" width="47.7" height="649.1" fill="rgb(134,181,236)" fill-opacity="0.42"/>
</g>
<text x="887.2" y="1190.7" font-size="33.8" fill="#428be6">310</text>
<text x="970.9" y="1272.3" font-size="33.8" fill="#f79632">460</text>
<text x="1034.4" y="1272.3" font-size="33.8" fill="#428be6">483</text>
<text x="1337.9" y="1265.7" font-size="33.8" fill="#428be6">893</text>
<text x="1275.7" y="1101.6" font-size="40" fill="#ff4b50">Ni</text>
<text x="1314" y="1111.4" font-size="26" fill="#ff4b50">4</text>
<text transform="translate(1328.8,1101.6) scale(0.949,1.0)" font-size="40" fill="#ff4b50">Mo/TiO</text>
<text x="1458.4" y="1111.7" font-size="26" fill="#ff4b50">2</text>
<text transform="translate(1422.3,1429) scale(0.955,1.0)" font-size="26" fill="#e8393f">1.2 V</text>
<text transform="translate(1423.4,1488.1) scale(0.955,1.0)" font-size="26" fill="#e8393f">1.0 V</text>
<text transform="translate(1427.3,1540.5) scale(0.955,1.0)" font-size="26" fill="#e8393f">0.8 V</text>
<text transform="translate(1423.8,1591.1) scale(0.955,1.0)" font-size="26" fill="#e8393f">0.6 V</text>
<text transform="translate(1422.7,1649) scale(0.955,1.0)" font-size="26" fill="#e8393f">0.5 V</text>
<text transform="translate(1422.7,1702) scale(0.955,1.0)" font-size="26" fill="#e8393f">0.4 V</text>
<text transform="translate(1425,1761.5) scale(0.955,1.0)" font-size="26" fill="#e8393f">0.3 V</text>
<text transform="translate(1422.7,1812.4) scale(0.955,1.0)" font-size="26" fill="#e8393f">0.2 V</text>
<text transform="translate(1422.2,1873.4) scale(0.955,1.0)" font-size="26" fill="#e8393f">0.1 V</text>
<text transform="translate(1419.9,1924.1) scale(0.955,1.0)" font-size="26" fill="#e8393f">OCP</text>
<rect x="823.8" y="1063.6" width="667.1" height="908.1" fill="none" stroke="#000" stroke-width="4.4"/>
<line x1="823.8" y1="1973.8" x2="823.8" y2="1984.4" stroke="#000" stroke-width="4.2"/>
<line x1="902.3" y1="1973.8" x2="902.3" y2="1978.4" stroke="#000" stroke-width="4.2"/>
<line x1="980.8" y1="1973.8" x2="980.8" y2="1984.4" stroke="#000" stroke-width="4.2"/>
<line x1="1059.3" y1="1973.8" x2="1059.3" y2="1978.4" stroke="#000" stroke-width="4.2"/>
<line x1="1137.8" y1="1973.8" x2="1137.8" y2="1984.4" stroke="#000" stroke-width="4.2"/>
<line x1="1216.3" y1="1973.8" x2="1216.3" y2="1978.4" stroke="#000" stroke-width="4.2"/>
<line x1="1294.8" y1="1973.8" x2="1294.8" y2="1984.4" stroke="#000" stroke-width="4.2"/>
<line x1="1373.3" y1="1973.8" x2="1373.3" y2="1978.4" stroke="#000" stroke-width="4.2"/>
<line x1="1451.8" y1="1973.8" x2="1451.8" y2="1984.4" stroke="#000" stroke-width="4.2"/>
<text x="807.8" y="2020.1" font-size="32.5" fill="#000">200</text>
<text x="965.1" y="2020.1" font-size="32.5" fill="#000">400</text>
<text x="1121.8" y="2020.1" font-size="32.5" fill="#000">600</text>
<text x="1278.8" y="2020.1" font-size="32.5" fill="#000">800</text>
<text x="1426.3" y="2020.1" font-size="32.5" fill="#000">1000</text>
<text x="1011.8" y="2073.5" font-size="33" fill="#000">Raman shift (cm</text>
<text x="1268.6" y="2056.6" font-size="22" fill="#000">−</text>
<text x="1282" y="2060.1" font-size="21.7" fill="#000">1</text>
<text x="1294" y="2073.5" font-size="33" fill="#000">)</text>
<text transform="translate(798,1589.9) rotate(-90) scale(1.0,1.0)" font-size="32" fill="#000">Intensity</text>
<text x="771.2" y="1115.6" font-size="68" fill="#000">d</text>
</svg></body></html>
